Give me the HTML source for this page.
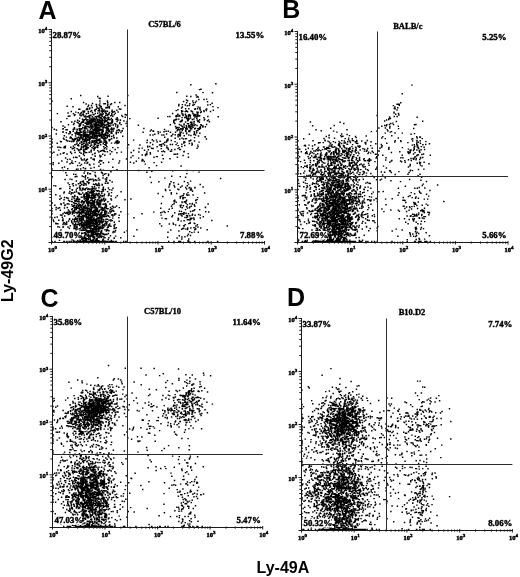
<!DOCTYPE html><html><head><meta charset="utf-8"><title>Figure</title><style>html,body{margin:0;padding:0;background:#fff}
svg{display:block}
text{fill:#000}
.tk{font:bold 6.5px "Liberation Serif",serif;stroke:#000;stroke-width:.45px}
.sp{font-size:5px}
.pc{font:bold 8.8px "Liberation Serif",serif;stroke:#000;stroke-width:.42px}
.tt{font:bold 8.5px "Liberation Serif",serif;stroke:#000;stroke-width:.35px}
.big{font:bold 25px "Liberation Sans",sans-serif}
.ax{font:bold 16px "Liberation Sans",sans-serif}</style></head><body><svg width="520" height="577" viewBox="0 0 520 577">
<rect width="520" height="577" fill="#fff"/>
<path d="M98.1 133.4h.01M92.7 121.2h.01M94.0 118.7h.01M104.8 142.3h.01M97.0 121.3h.01M93.2 138.6h.01M88.3 124.6h.01M101.2 136.3h.01M107.5 114.4h.01M107.7 102.4h.01M114.5 111.4h.01M111.8 121.0h.01M93.0 131.0h.01M119.7 102.5h.01M97.3 131.4h.01M109.4 112.5h.01M101.0 115.1h.01M78.7 134.7h.01M102.6 137.8h.01M101.6 124.5h.01M95.2 132.6h.01M109.9 119.8h.01M70.3 131.7h.01M87.4 140.2h.01M117.1 140.9h.01M79.2 128.7h.01M99.2 136.3h.01M102.9 134.7h.01M101.4 135.7h.01M75.5 139.4h.01M90.5 129.2h.01M86.3 122.7h.01M101.0 123.9h.01M94.2 148.8h.01M104.9 111.9h.01M74.9 121.3h.01M100.4 125.8h.01M87.1 148.6h.01M97.0 124.9h.01M109.4 140.8h.01M98.5 124.5h.01M91.3 133.4h.01M90.3 120.2h.01M93.0 127.3h.01M87.8 147.4h.01M101.0 136.1h.01M107.1 136.2h.01M100.2 135.6h.01M112.6 121.4h.01M100.2 98.5h.01M93.0 120.9h.01M110.0 150.5h.01M100.7 118.0h.01M97.2 136.9h.01M96.5 127.7h.01M92.0 141.9h.01M106.7 120.4h.01M88.2 122.9h.01M87.1 126.6h.01M86.7 141.9h.01M90.9 127.1h.01M83.3 113.9h.01M110.9 123.0h.01M125.2 117.3h.01M120.4 120.3h.01M110.7 129.1h.01M83.8 120.0h.01M92.5 154.5h.01M94.8 128.2h.01M90.9 121.7h.01M80.2 137.2h.01M91.0 124.2h.01M93.9 114.8h.01M81.2 141.8h.01M85.5 140.4h.01M101.3 121.7h.01M102.2 125.7h.01M98.0 125.0h.01M105.4 111.3h.01M73.2 141.5h.01M109.9 123.6h.01M70.4 132.9h.01M93.8 123.9h.01M120.4 120.0h.01M96.8 131.3h.01M107.4 127.4h.01M100.9 124.7h.01M99.6 110.6h.01M77.8 139.8h.01M92.6 133.5h.01M97.3 122.7h.01M87.0 134.6h.01M97.8 129.7h.01M87.9 147.7h.01M87.9 130.2h.01M117.8 125.3h.01M84.4 139.2h.01M95.6 142.5h.01M93.4 146.4h.01M111.6 138.8h.01M115.7 125.9h.01M96.7 142.7h.01M85.9 160.9h.01M96.7 106.5h.01M79.9 130.7h.01M102.0 137.6h.01M99.2 98.3h.01M93.5 133.8h.01M99.0 128.9h.01M94.8 110.6h.01M91.0 121.6h.01M117.5 119.3h.01M99.5 133.7h.01M102.2 116.2h.01M100.7 114.3h.01M88.4 126.6h.01M94.5 137.1h.01M64.1 139.3h.01M85.7 138.8h.01M86.0 119.3h.01M106.3 132.5h.01M97.5 130.9h.01M107.3 137.5h.01M80.8 113.2h.01M89.7 108.6h.01M127.8 95.5h.01M81.7 144.2h.01M102.2 112.2h.01M84.7 143.1h.01M95.1 131.0h.01M101.2 137.8h.01M91.5 138.0h.01M111.0 125.1h.01M111.2 133.2h.01M108.9 117.7h.01M86.8 120.3h.01M87.4 159.2h.01M106.5 132.7h.01M73.5 113.7h.01M92.8 132.9h.01M87.5 123.2h.01M97.7 127.0h.01M85.4 145.1h.01M106.8 143.2h.01M99.3 122.6h.01M126.9 126.1h.01M91.9 147.6h.01M89.5 138.3h.01M91.9 131.1h.01M98.6 129.5h.01M83.4 150.0h.01M92.6 125.8h.01M114.2 137.7h.01M90.9 136.4h.01M92.0 118.8h.01M102.9 137.4h.01M98.7 125.4h.01M99.2 129.8h.01M111.8 113.8h.01M111.6 129.9h.01M108.5 128.2h.01M77.1 143.1h.01M103.9 126.8h.01M89.0 123.0h.01M105.1 151.6h.01M97.4 126.9h.01M109.7 123.5h.01M101.9 110.2h.01M75.6 136.0h.01M94.9 153.6h.01M97.1 137.9h.01M73.3 148.2h.01M93.0 114.5h.01M105.9 143.2h.01M78.9 132.7h.01M101.8 118.8h.01M91.4 132.2h.01M95.7 135.4h.01M99.0 127.8h.01M93.2 132.3h.01M103.6 150.8h.01M89.9 137.1h.01M117.2 117.9h.01M107.4 101.0h.01M91.6 144.9h.01M85.6 115.9h.01M95.3 122.0h.01M104.9 155.2h.01M88.2 126.8h.01M108.4 119.3h.01M89.8 120.1h.01M86.6 122.9h.01M91.3 150.2h.01M80.8 137.6h.01M89.4 134.9h.01M97.9 124.6h.01M100.1 107.0h.01M86.0 137.1h.01M100.7 141.1h.01M109.4 108.1h.01M96.8 135.8h.01M107.4 135.6h.01M85.2 123.3h.01M111.8 128.5h.01M77.6 120.3h.01M85.5 148.7h.01M78.6 140.8h.01M91.3 119.1h.01M67.0 154.0h.01M74.1 141.1h.01M82.5 119.2h.01M107.1 135.2h.01M117.2 127.6h.01M85.0 125.9h.01M98.3 122.5h.01M92.8 126.2h.01M102.9 120.6h.01M98.2 110.8h.01M102.7 137.6h.01M112.8 116.3h.01M96.2 116.9h.01M83.0 135.0h.01M74.1 139.1h.01M90.2 132.9h.01M108.4 128.5h.01M101.9 134.3h.01M88.9 121.9h.01M97.5 130.4h.01M79.1 132.9h.01M84.3 116.8h.01M81.3 128.6h.01M115.3 113.2h.01M73.2 129.4h.01M102.7 114.6h.01M111.0 123.2h.01M99.8 117.5h.01M84.3 130.6h.01M84.4 127.4h.01M96.4 104.7h.01M73.4 146.3h.01M93.1 133.1h.01M94.6 132.9h.01M67.8 141.0h.01M105.9 107.9h.01M115.8 124.2h.01M80.3 131.2h.01M108.7 114.8h.01M61.0 121.8h.01M82.7 127.4h.01M77.0 132.4h.01M88.5 116.2h.01M116.4 132.7h.01M84.2 135.7h.01M92.2 107.5h.01M100.1 127.0h.01M96.3 129.4h.01M107.8 119.7h.01M105.5 141.0h.01M74.6 147.8h.01M103.9 123.1h.01M97.4 119.2h.01M89.3 122.1h.01M88.6 136.0h.01M92.0 131.9h.01M97.3 116.4h.01M94.7 124.3h.01M93.4 133.2h.01M111.4 118.5h.01M106.4 113.2h.01M84.6 111.6h.01M96.1 133.1h.01M94.7 126.1h.01M93.2 119.6h.01M95.1 124.0h.01M86.5 122.2h.01M94.4 134.4h.01M94.5 126.1h.01M78.3 123.0h.01M92.7 137.4h.01M95.6 136.8h.01M101.3 122.6h.01M92.1 140.6h.01M83.1 120.9h.01M98.3 145.5h.01M86.6 142.6h.01M119.7 123.6h.01M79.8 109.3h.01M81.4 122.7h.01M105.7 113.5h.01M79.5 140.2h.01M105.3 147.6h.01M77.8 145.5h.01M89.8 118.6h.01M106.6 127.7h.01M92.4 135.7h.01M79.7 134.4h.01M101.8 136.3h.01M97.1 145.2h.01M89.5 132.3h.01M85.0 126.5h.01M118.0 119.9h.01M98.8 132.9h.01M112.0 111.8h.01M96.5 118.3h.01M118.3 106.7h.01M88.9 142.7h.01M102.5 125.1h.01M68.3 116.2h.01M101.2 134.2h.01M100.5 151.2h.01M85.8 144.4h.01M98.2 140.2h.01M101.6 125.5h.01M99.8 155.4h.01M97.4 129.1h.01M103.3 143.7h.01M106.7 142.5h.01M105.3 120.2h.01M103.7 135.4h.01M74.0 129.0h.01M108.4 124.9h.01M92.5 112.5h.01M88.1 144.9h.01M87.3 131.9h.01M83.1 139.0h.01M77.6 134.2h.01M106.8 124.4h.01M108.4 129.7h.01M86.7 126.1h.01M92.7 128.9h.01M81.5 134.7h.01M109.3 136.5h.01M85.6 168.5h.01M96.8 133.4h.01M78.4 144.7h.01M107.5 122.6h.01M85.2 128.7h.01M103.9 103.7h.01M83.4 131.3h.01M99.0 131.3h.01M86.9 134.3h.01M84.3 128.7h.01M92.8 119.3h.01M83.4 141.6h.01M101.6 121.1h.01M103.3 134.5h.01M106.2 107.4h.01M117.9 147.6h.01M84.8 139.3h.01M102.7 154.3h.01M96.0 125.8h.01M86.2 146.6h.01M85.1 133.4h.01M87.0 163.2h.01M94.6 141.9h.01M122.7 116.6h.01M101.2 132.6h.01M86.1 134.8h.01M117.1 117.7h.01M101.8 121.2h.01M100.2 122.5h.01M129.8 118.6h.01M101.0 142.3h.01M74.5 150.2h.01M109.4 106.5h.01M105.7 115.4h.01M81.1 115.7h.01M81.6 122.2h.01M92.0 133.0h.01M98.9 127.4h.01M97.6 120.9h.01M114.2 114.6h.01M89.7 164.6h.01M86.5 149.3h.01M113.5 136.1h.01M96.1 129.9h.01M99.8 128.9h.01M100.2 126.2h.01M105.2 117.6h.01M70.6 152.3h.01M102.4 133.0h.01M80.4 128.9h.01M104.7 136.4h.01M93.9 134.6h.01M74.2 140.5h.01M91.4 127.6h.01M66.0 129.7h.01M99.6 120.3h.01M93.0 142.2h.01M69.7 131.8h.01M85.7 135.9h.01M107.1 128.9h.01M91.5 105.5h.01M89.5 115.5h.01M105.7 127.7h.01M103.7 146.7h.01M87.4 116.8h.01M97.8 116.4h.01M112.4 122.8h.01M89.2 109.0h.01M87.6 136.8h.01M92.8 135.3h.01M89.4 137.4h.01M85.5 146.3h.01M94.6 138.0h.01M110.8 115.7h.01M100.3 130.2h.01M122.3 131.0h.01M86.3 122.3h.01M112.7 112.3h.01M91.9 124.4h.01M90.5 126.8h.01M84.9 130.5h.01M103.3 138.5h.01M60.8 147.6h.01M95.2 119.8h.01M79.4 129.3h.01M101.1 126.1h.01M100.0 113.9h.01M86.4 109.6h.01M108.9 113.8h.01M93.1 130.9h.01M112.1 110.3h.01M91.2 143.1h.01M90.6 123.1h.01M85.0 132.4h.01M103.2 113.4h.01M81.7 146.7h.01M80.0 138.3h.01M81.5 135.2h.01M115.2 149.4h.01M84.1 134.4h.01M99.2 132.8h.01M79.3 138.7h.01M113.1 112.0h.01M96.6 132.0h.01M83.8 146.2h.01M79.4 130.0h.01M101.2 156.1h.01M89.3 140.4h.01M106.9 146.8h.01M105.4 121.2h.01M96.2 141.4h.01M102.9 129.3h.01M99.9 129.3h.01M89.4 120.6h.01M102.4 137.8h.01M104.9 119.8h.01M81.2 128.8h.01M86.6 124.3h.01M99.8 160.4h.01M72.3 148.7h.01M88.8 139.1h.01M105.8 144.4h.01M117.8 126.8h.01M106.4 141.8h.01M89.2 127.4h.01M98.1 139.6h.01M99.0 135.3h.01M86.7 108.9h.01M91.1 145.2h.01M94.9 133.0h.01M81.5 137.3h.01M102.4 122.7h.01M73.2 131.3h.01M78.5 137.3h.01M116.9 130.5h.01M87.9 119.7h.01M106.5 135.0h.01M80.0 139.0h.01M96.6 140.6h.01M105.5 127.7h.01M92.6 126.4h.01M101.9 126.8h.01M91.7 126.8h.01M108.5 135.8h.01M99.9 140.1h.01M87.0 147.3h.01M65.4 146.2h.01M84.9 136.2h.01M87.7 162.4h.01M110.6 104.5h.01M94.3 143.7h.01M87.4 137.5h.01M95.6 140.6h.01M104.1 138.5h.01M125.2 114.4h.01M114.0 128.7h.01M92.3 121.7h.01M85.5 127.3h.01M95.0 109.7h.01M99.8 134.7h.01M83.8 139.7h.01M84.7 141.2h.01M101.1 134.7h.01M82.0 138.4h.01M97.5 127.4h.01M88.8 124.6h.01M81.9 137.7h.01M85.1 128.8h.01M94.8 137.6h.01M114.8 143.1h.01M104.4 148.8h.01M80.9 134.9h.01M103.2 130.8h.01M95.7 132.0h.01M86.4 113.8h.01M82.9 111.1h.01M86.8 128.8h.01M102.3 122.4h.01M83.0 122.2h.01M107.6 105.7h.01M111.5 103.7h.01M71.2 137.8h.01M79.2 126.3h.01M90.5 131.3h.01M100.7 135.0h.01M78.2 149.4h.01M87.8 124.4h.01M87.9 134.6h.01M86.6 138.6h.01M63.0 131.8h.01M105.4 135.2h.01M94.3 121.3h.01M89.2 117.4h.01M111.8 151.7h.01M75.7 133.1h.01M102.7 119.4h.01M79.2 134.1h.01M109.8 131.5h.01M83.9 136.3h.01M97.3 107.9h.01M88.0 106.4h.01M83.4 133.2h.01M103.9 150.6h.01M75.1 133.0h.01M94.6 148.6h.01M97.5 116.2h.01M85.9 117.1h.01M63.0 125.9h.01M106.2 118.2h.01M99.7 130.1h.01M91.5 131.9h.01M68.5 124.8h.01M91.0 125.3h.01M96.1 134.0h.01M101.5 117.1h.01M89.8 141.4h.01M117.8 140.8h.01M60.5 141.5h.01M110.3 154.0h.01M89.0 140.3h.01M94.5 124.7h.01M94.5 124.6h.01M85.1 135.0h.01M92.4 117.1h.01M90.3 123.4h.01M105.3 137.6h.01M95.5 138.6h.01M92.5 134.9h.01M95.2 127.3h.01M80.1 129.6h.01M81.6 144.1h.01M100.8 119.9h.01M104.5 125.8h.01M111.9 133.3h.01M88.6 105.3h.01M89.9 107.9h.01M103.9 139.1h.01M79.5 126.5h.01M116.8 137.9h.01M92.5 134.1h.01M101.7 160.8h.01M82.8 144.6h.01M96.5 139.3h.01M95.3 116.6h.01M88.8 123.9h.01M97.3 131.2h.01M64.4 146.7h.01M96.2 128.5h.01M98.6 143.6h.01M95.6 119.7h.01M107.4 107.8h.01M90.5 136.5h.01M104.5 118.3h.01M99.2 135.3h.01M100.7 123.3h.01M107.8 104.3h.01M62.9 129.0h.01M101.2 129.5h.01M94.4 120.9h.01M96.6 130.4h.01M83.7 115.2h.01M91.6 122.7h.01M103.6 127.6h.01M95.3 144.3h.01M107.9 133.6h.01M91.1 151.4h.01M79.8 143.2h.01M103.7 135.9h.01M112.4 119.6h.01M99.2 123.0h.01M108.8 107.2h.01M102.5 137.9h.01M84.6 139.9h.01M92.2 122.5h.01M89.9 132.9h.01M101.7 150.8h.01M85.8 118.7h.01M95.2 111.1h.01M118.3 130.0h.01M82.8 121.0h.01M97.7 147.4h.01M95.2 122.1h.01M101.7 130.0h.01M97.3 146.6h.01M91.1 152.1h.01M85.8 149.4h.01M111.8 115.3h.01M89.9 130.9h.01M83.5 136.9h.01M116.3 133.7h.01M90.3 139.1h.01M93.3 148.4h.01M75.0 114.6h.01M100.2 120.9h.01M108.2 123.1h.01M79.6 138.6h.01M122.7 136.3h.01M92.3 116.8h.01M96.4 136.7h.01M109.3 130.6h.01M94.8 118.9h.01M99.5 138.9h.01M105.3 127.6h.01M116.9 152.7h.01M113.5 135.3h.01M95.7 129.5h.01M94.4 145.1h.01M84.5 145.8h.01M98.8 120.9h.01M94.5 140.5h.01M83.6 147.8h.01M95.1 153.3h.01M83.8 120.7h.01M98.8 108.2h.01M72.6 139.5h.01M86.6 147.5h.01M84.3 155.5h.01M95.7 128.4h.01M96.3 133.2h.01M101.6 125.6h.01M66.4 132.8h.01M86.8 126.2h.01M99.9 139.5h.01M102.1 136.6h.01M121.2 124.6h.01M107.0 130.2h.01M75.8 112.1h.01M105.8 125.5h.01M81.0 148.2h.01M83.3 122.2h.01M93.0 159.2h.01M94.1 129.5h.01M119.9 122.5h.01M71.5 162.7h.01M86.0 147.5h.01M116.2 132.2h.01M108.0 117.5h.01M99.2 140.7h.01M94.2 138.1h.01M95.3 113.4h.01M90.3 125.9h.01M101.4 108.3h.01M88.3 111.5h.01M99.2 105.0h.01M96.9 136.0h.01M63.5 138.3h.01M109.8 131.8h.01M96.1 126.3h.01M74.9 144.7h.01M99.4 109.4h.01M94.5 136.7h.01M104.1 109.9h.01M94.2 140.8h.01M107.4 129.8h.01M77.2 122.2h.01M102.3 131.3h.01M87.2 108.4h.01M104.4 134.3h.01M63.3 128.6h.01M59.5 147.1h.01M94.2 150.1h.01M86.3 141.6h.01M113.1 124.9h.01M86.1 103.9h.01M70.0 163.8h.01M69.7 141.2h.01M91.1 157.8h.01M78.8 145.8h.01M107.9 118.0h.01M108.1 96.2h.01M88.0 123.9h.01M97.0 128.5h.01M84.0 159.9h.01M105.0 140.2h.01M102.2 120.8h.01M77.3 129.8h.01M89.8 117.7h.01M106.2 145.2h.01M105.8 125.6h.01M97.7 113.2h.01M119.7 130.8h.01M73.6 157.5h.01M108.8 129.8h.01M105.3 134.2h.01M94.8 136.0h.01M85.3 132.2h.01M88.3 113.3h.01M90.8 115.4h.01M90.9 121.9h.01M98.1 135.6h.01M105.8 110.9h.01M111.6 127.9h.01M83.3 154.2h.01M110.1 139.4h.01M123.1 128.5h.01M83.6 102.4h.01M78.1 169.1h.01M108.5 122.4h.01M99.1 129.8h.01M107.4 111.3h.01M92.4 137.3h.01M83.4 143.2h.01M65.3 147.8h.01M79.7 118.1h.01M119.0 129.6h.01M110.0 126.2h.01M89.3 122.0h.01M96.2 123.5h.01M106.6 132.4h.01M84.8 132.6h.01M107.9 124.6h.01M104.3 138.3h.01M72.9 163.2h.01M95.2 129.3h.01M99.0 115.5h.01M104.2 118.2h.01M105.9 132.9h.01M99.0 125.6h.01M120.9 132.5h.01M103.0 150.2h.01M97.8 150.6h.01M103.8 134.4h.01M57.8 147.2h.01M95.1 155.9h.01M96.8 141.2h.01M77.3 137.9h.01M85.2 127.9h.01M99.1 119.3h.01M98.7 130.8h.01M80.7 123.8h.01M82.1 159.9h.01M85.3 135.2h.01M100.9 134.6h.01M79.3 121.3h.01M108.7 162.2h.01M123.9 121.0h.01M91.1 133.7h.01M72.1 134.8h.01M104.7 144.6h.01M95.2 125.6h.01M91.5 128.5h.01M72.1 138.8h.01M77.1 129.3h.01M87.7 136.7h.01M125.0 105.5h.01M104.8 116.8h.01M70.6 137.0h.01M118.3 132.4h.01M105.8 144.8h.01M86.0 126.9h.01M105.6 140.5h.01M85.4 140.3h.01M94.6 130.6h.01M116.5 141.2h.01M87.7 121.8h.01M106.6 132.3h.01M87.8 136.2h.01M103.7 124.6h.01M105.4 103.8h.01M83.6 134.9h.01M100.6 144.7h.01M88.8 137.6h.01M76.9 157.5h.01M105.3 133.5h.01M85.2 128.0h.01M94.0 130.4h.01M116.9 110.2h.01M96.0 124.6h.01M111.9 111.8h.01M97.2 131.4h.01M113.3 125.0h.01M108.1 117.2h.01M76.3 138.2h.01M109.5 134.8h.01M98.2 124.8h.01M101.1 141.8h.01M114.8 102.4h.01M99.5 112.1h.01M99.5 115.7h.01M86.2 126.7h.01M97.5 135.5h.01M105.1 124.9h.01M80.0 149.7h.01M102.7 124.2h.01M108.2 124.2h.01M80.5 132.8h.01M106.3 138.1h.01M102.9 127.7h.01M101.6 114.3h.01M117.0 143.4h.01M96.8 122.8h.01M101.0 124.3h.01M90.2 138.8h.01M75.0 152.5h.01M82.1 147.1h.01M79.2 125.3h.01M96.9 129.2h.01M83.5 111.4h.01M83.6 136.4h.01M99.0 124.8h.01M101.4 132.1h.01M103.4 111.3h.01M93.8 135.0h.01M96.1 122.8h.01M104.7 122.5h.01M75.7 133.9h.01M85.3 152.4h.01M106.5 132.9h.01M99.9 103.1h.01M107.2 115.3h.01M95.9 123.8h.01M79.9 114.9h.01M80.6 124.4h.01M100.3 121.4h.01M99.0 108.9h.01M106.9 121.2h.01M93.5 141.2h.01M101.3 115.1h.01M109.2 125.8h.01M127.0 121.4h.01M95.8 120.1h.01M99.5 142.5h.01M99.7 142.7h.01M103.2 142.1h.01M81.7 142.2h.01M81.4 146.1h.01M88.6 124.5h.01M104.6 134.5h.01M114.9 123.6h.01M94.1 136.6h.01M119.4 109.0h.01M83.5 131.1h.01M78.3 112.8h.01M84.0 132.1h.01M73.5 124.6h.01M86.8 135.7h.01M80.7 131.3h.01M118.5 143.0h.01M100.1 117.4h.01M91.8 120.2h.01M95.1 156.2h.01M91.6 110.4h.01M91.0 151.1h.01M95.1 148.1h.01M104.3 121.3h.01M101.2 106.4h.01M80.5 135.0h.01M71.6 153.5h.01M108.6 131.2h.01M79.7 152.2h.01M111.9 122.3h.01M77.5 140.3h.01M111.6 131.7h.01M86.7 123.5h.01M94.8 121.3h.01M93.5 134.7h.01M88.4 147.7h.01M116.0 119.2h.01M89.4 143.3h.01M80.9 136.5h.01M112.9 129.3h.01M92.5 103.5h.01M79.7 135.0h.01M89.5 116.9h.01M102.4 109.0h.01M102.5 130.5h.01M126.4 115.0h.01M101.4 111.1h.01M76.4 144.1h.01M133.6 150.5h.01M106.5 132.7h.01M99.0 162.3h.01M106.7 148.9h.01M112.8 147.6h.01M98.9 124.1h.01M58.8 163.3h.01M108.6 174.3h.01M74.8 129.1h.01M64.8 127.3h.01M80.7 169.0h.01M93.0 122.0h.01M86.0 140.1h.01M111.6 136.4h.01M120.7 109.3h.01M93.5 129.4h.01M71.8 122.0h.01M76.9 141.5h.01M87.3 109.6h.01M113.2 131.0h.01M106.5 128.7h.01M80.2 165.6h.01M58.8 150.1h.01M117.8 142.4h.01M94.3 158.9h.01M100.3 156.9h.01M81.0 158.3h.01M84.0 149.6h.01M87.1 144.0h.01M66.7 140.6h.01M57.5 154.9h.01M70.8 147.2h.01M112.8 167.2h.01M82.2 114.7h.01M98.5 125.4h.01M53.1 164.4h.01M63.0 132.3h.01M89.2 152.3h.01M52.0 146.4h.01M81.3 149.2h.01M106.8 126.7h.01M71.3 98.7h.01M83.7 152.9h.01M83.9 112.3h.01M65.6 158.0h.01M84.7 171.0h.01M105.9 145.2h.01M92.6 134.4h.01M90.5 137.1h.01M70.6 151.9h.01M89.0 132.0h.01M74.4 127.6h.01M97.3 131.8h.01M97.8 130.1h.01M118.9 162.9h.01M70.0 159.3h.01M110.9 171.8h.01M82.5 140.1h.01M86.6 146.0h.01M64.1 152.8h.01M52.0 146.7h.01M67.2 129.7h.01M53.9 152.3h.01M98.9 151.9h.01M56.3 134.0h.01M81.7 112.4h.01M85.6 137.9h.01M88.6 123.5h.01M88.6 122.2h.01M94.2 167.4h.01M121.8 115.5h.01M101.1 141.2h.01M104.3 125.5h.01M113.9 137.8h.01M85.7 136.5h.01M80.1 138.1h.01M122.0 130.7h.01M82.5 138.7h.01M83.4 167.7h.01M100.7 114.0h.01M75.4 176.8h.01M90.7 111.6h.01M95.4 123.4h.01M117.1 121.5h.01M99.9 105.3h.01M66.4 137.1h.01M96.3 147.1h.01M71.5 141.4h.01M80.3 125.5h.01M64.5 166.9h.01M108.4 126.2h.01M81.1 153.2h.01M70.0 179.1h.01M97.6 130.8h.01M113.9 128.2h.01M112.2 182.0h.01M67.2 106.2h.01M101.9 132.6h.01M102.7 110.9h.01M98.7 139.4h.01M83.4 122.3h.01M70.0 138.0h.01M84.5 111.0h.01M109.0 139.8h.01M116.7 119.5h.01M72.8 139.8h.01M74.1 123.1h.01M76.5 169.3h.01M68.1 113.0h.01M116.7 142.1h.01M61.8 161.0h.01M61.3 141.8h.01M92.3 136.0h.01M66.9 118.6h.01M85.2 168.8h.01M96.2 104.4h.01M76.6 131.5h.01M138.4 125.3h.01M81.7 132.2h.01M53.2 162.8h.01M103.2 131.5h.01M100.0 114.9h.01M76.9 133.5h.01M112.9 159.3h.01M81.6 159.8h.01M84.4 151.3h.01M63.2 153.3h.01M52.0 143.0h.01M80.3 113.6h.01M100.0 142.4h.01M57.2 143.2h.01M85.5 132.4h.01M90.6 111.4h.01M71.3 111.5h.01M87.3 139.5h.01M90.9 115.1h.01M131.2 152.5h.01M127.5 148.0h.01M75.0 138.7h.01M119.3 141.9h.01M52.0 141.9h.01M104.3 151.3h.01M102.3 173.0h.01M104.2 140.4h.01M131.0 157.5h.01M80.7 95.5h.01M89.9 134.5h.01M52.1 153.2h.01M94.9 147.2h.01M60.5 154.0h.01M75.7 157.3h.01M94.9 136.0h.01M79.7 123.9h.01M54.4 129.3h.01M77.6 165.5h.01M83.3 125.0h.01M97.5 143.0h.01M78.7 150.5h.01M66.2 139.9h.01M69.9 115.9h.01M77.1 148.6h.01M107.4 151.8h.01M52.0 101.2h.01M74.4 115.6h.01M94.1 188.5h.01M98.8 133.6h.01M96.8 140.8h.01M90.0 165.1h.01M121.4 152.1h.01M108.0 132.4h.01M75.5 161.6h.01M98.8 116.9h.01M96.6 132.2h.01M56.5 130.0h.01M86.7 152.6h.01M83.7 151.3h.01M67.0 161.9h.01M79.4 156.0h.01M52.0 127.4h.01M64.0 147.7h.01M84.6 119.8h.01M118.1 112.0h.01M105.8 138.4h.01M128.6 144.7h.01M81.9 137.0h.01M93.9 118.0h.01M103.6 117.3h.01M87.2 135.3h.01M111.3 118.7h.01M106.2 130.9h.01M62.3 167.8h.01M78.9 109.2h.01M97.7 96.4h.01M68.9 133.8h.01M81.9 128.9h.01M100.8 161.0h.01M97.8 125.3h.01M111.5 143.1h.01M96.2 109.2h.01M99.9 101.0h.01M105.3 183.3h.01M115.6 142.3h.01M74.0 123.4h.01M91.6 131.4h.01M119.6 160.9h.01M126.1 123.5h.01M77.6 132.5h.01M94.8 153.4h.01M90.3 146.2h.01M57.4 113.6h.01M84.9 189.6h.01M81.5 164.4h.01M112.6 121.0h.01M97.6 120.1h.01M64.3 135.8h.01M73.0 106.7h.01M92.6 137.7h.01M94.5 119.2h.01M52.0 139.3h.01M85.2 196.9h.01M111.4 241.5h.01M86.0 227.3h.01M102.1 210.6h.01M105.6 200.0h.01M93.1 241.5h.01M99.2 234.2h.01M83.0 241.5h.01M89.1 241.5h.01M93.4 203.1h.01M83.6 215.3h.01M84.0 184.9h.01M110.2 241.5h.01M103.2 234.3h.01M91.8 208.6h.01M82.8 226.2h.01M93.4 198.2h.01M82.9 213.0h.01M90.1 228.5h.01M92.5 241.5h.01M93.6 213.4h.01M86.5 216.2h.01M99.2 211.2h.01M104.1 234.2h.01M89.0 182.8h.01M94.0 210.9h.01M87.9 210.1h.01M94.1 237.2h.01M104.5 194.3h.01M87.3 241.5h.01M85.9 238.3h.01M90.5 241.5h.01M89.1 202.3h.01M94.2 203.2h.01M92.8 223.9h.01M59.6 207.8h.01M75.4 222.0h.01M102.7 225.4h.01M89.0 226.0h.01M91.3 216.0h.01M87.2 207.9h.01M103.2 199.7h.01M101.1 219.7h.01M93.1 214.5h.01M96.7 216.3h.01M94.7 238.2h.01M85.5 205.2h.01M90.0 241.5h.01M105.7 213.6h.01M97.3 241.5h.01M113.7 211.2h.01M97.4 228.6h.01M79.8 216.2h.01M96.2 190.6h.01M90.3 228.6h.01M79.5 194.2h.01M79.4 212.8h.01M102.9 239.8h.01M100.4 241.5h.01M84.7 207.0h.01M87.1 144.1h.01M101.2 216.1h.01M97.8 233.5h.01M98.4 224.7h.01M82.9 241.5h.01M80.0 209.9h.01M104.2 241.5h.01M81.7 236.6h.01M90.4 223.8h.01M90.8 221.8h.01M88.9 231.4h.01M94.7 238.8h.01M91.5 213.6h.01M99.8 210.3h.01M95.2 214.0h.01M79.1 211.4h.01M83.0 239.9h.01M96.3 234.9h.01M84.0 183.6h.01M85.1 208.7h.01M99.2 194.0h.01M96.0 214.7h.01M95.2 210.5h.01M92.3 203.5h.01M92.9 232.8h.01M82.7 209.9h.01M95.6 223.7h.01M85.6 214.3h.01M114.8 231.9h.01M95.5 213.3h.01M69.4 228.3h.01M86.1 222.7h.01M90.2 241.5h.01M90.5 202.9h.01M87.5 223.7h.01M80.3 218.8h.01M99.5 215.0h.01M98.9 241.5h.01M103.2 226.0h.01M107.5 241.5h.01M91.4 241.5h.01M94.1 225.7h.01M94.3 226.6h.01M73.6 202.8h.01M74.3 205.2h.01M92.5 221.5h.01M98.7 183.1h.01M93.4 239.1h.01M109.3 241.5h.01M101.8 193.5h.01M96.3 229.7h.01M86.0 240.6h.01M85.1 207.0h.01M91.6 203.4h.01M83.1 188.1h.01M91.9 232.7h.01M75.5 228.4h.01M87.5 202.8h.01M87.2 220.7h.01M92.0 240.5h.01M92.6 220.4h.01M88.3 235.6h.01M96.6 241.5h.01M92.9 223.4h.01M101.6 231.4h.01M95.9 240.8h.01M93.6 239.3h.01M92.3 241.5h.01M104.5 174.3h.01M82.0 222.4h.01M84.5 215.6h.01M97.0 241.5h.01M97.4 185.5h.01M109.8 211.2h.01M72.3 196.8h.01M89.4 221.4h.01M73.2 210.8h.01M107.6 229.4h.01M103.0 178.0h.01M113.6 207.5h.01M90.8 229.6h.01M97.2 241.5h.01M98.9 207.0h.01M76.4 208.8h.01M89.4 241.5h.01M95.5 206.6h.01M80.3 185.7h.01M87.8 209.0h.01M102.6 221.6h.01M96.9 209.6h.01M82.7 233.2h.01M84.0 225.0h.01M96.6 241.5h.01M80.4 220.4h.01M85.6 222.6h.01M91.4 235.5h.01M100.8 202.1h.01M87.2 235.9h.01M89.8 241.5h.01M93.6 213.2h.01M88.5 203.4h.01M106.3 216.5h.01M90.2 241.5h.01M92.1 241.5h.01M100.5 228.4h.01M114.2 226.4h.01M81.7 225.4h.01M88.8 241.5h.01M65.6 213.3h.01M99.9 241.5h.01M101.3 237.6h.01M92.1 241.5h.01M85.8 240.6h.01M102.0 212.2h.01M80.5 228.6h.01M90.9 227.9h.01M96.4 202.0h.01M78.4 211.1h.01M108.4 195.6h.01M94.5 186.7h.01M98.3 233.4h.01M89.6 193.0h.01M99.7 223.1h.01M82.0 205.8h.01M102.4 241.5h.01M87.0 228.1h.01M93.5 228.9h.01M81.3 238.4h.01M91.1 222.6h.01M94.4 195.6h.01M88.8 220.8h.01M79.7 228.7h.01M96.4 218.8h.01M102.2 226.2h.01M78.9 193.6h.01M96.6 225.3h.01M98.0 241.5h.01M99.8 200.8h.01M79.1 201.4h.01M95.4 241.5h.01M97.6 235.7h.01M95.1 241.5h.01M83.3 241.5h.01M105.3 189.4h.01M97.1 241.5h.01M94.0 225.0h.01M106.3 204.9h.01M97.1 234.5h.01M101.9 228.3h.01M99.2 231.1h.01M97.1 194.3h.01M87.8 241.5h.01M100.5 217.2h.01M98.1 241.1h.01M97.0 184.4h.01M85.1 194.0h.01M89.8 232.1h.01M120.8 237.8h.01M99.0 237.1h.01M86.7 200.3h.01M87.7 196.6h.01M86.6 196.0h.01M83.5 215.4h.01M80.2 188.8h.01M93.0 230.0h.01M101.9 241.5h.01M98.5 212.5h.01M113.0 188.3h.01M90.6 241.5h.01M95.9 194.4h.01M85.5 178.9h.01M93.2 236.5h.01M101.1 209.2h.01M95.1 197.2h.01M84.9 209.0h.01M83.6 230.2h.01M87.2 241.5h.01M82.7 241.5h.01M81.7 233.3h.01M93.9 190.5h.01M81.0 234.9h.01M85.3 241.5h.01M95.9 222.9h.01M76.3 233.1h.01M97.6 241.5h.01M83.3 210.6h.01M80.2 182.7h.01M89.4 232.0h.01M87.8 195.1h.01M89.5 241.5h.01M104.7 207.1h.01M92.9 230.2h.01M78.5 206.6h.01M88.2 194.2h.01M95.7 215.2h.01M94.5 232.1h.01M83.4 224.8h.01M87.8 172.6h.01M86.6 199.0h.01M81.3 214.0h.01M91.6 195.6h.01M86.6 222.5h.01M90.5 231.0h.01M92.9 197.6h.01M86.4 241.5h.01M104.9 241.5h.01M85.1 241.5h.01M93.5 241.5h.01M90.4 214.4h.01M93.0 233.2h.01M104.1 216.1h.01M83.1 204.1h.01M98.8 237.4h.01M82.9 241.5h.01M96.8 241.5h.01M81.3 241.5h.01M90.0 224.8h.01M86.1 185.0h.01M88.3 241.5h.01M100.3 204.1h.01M101.4 241.5h.01M92.0 202.6h.01M86.6 241.5h.01M100.0 203.5h.01M82.1 241.5h.01M79.4 162.9h.01M91.3 197.7h.01M91.2 233.5h.01M93.9 204.6h.01M92.1 198.8h.01M116.6 205.9h.01M85.0 238.0h.01M88.6 198.1h.01M85.9 183.8h.01M100.5 203.8h.01M85.4 210.6h.01M81.9 190.5h.01M90.6 218.5h.01M86.8 241.5h.01M94.8 241.5h.01M74.4 219.9h.01M99.2 191.6h.01M94.4 241.5h.01M88.8 236.8h.01M86.5 211.8h.01M95.6 241.4h.01M89.5 214.8h.01M95.4 232.2h.01M107.9 201.7h.01M92.6 225.7h.01M101.7 241.5h.01M97.3 218.1h.01M86.7 196.5h.01M103.5 170.3h.01M98.6 178.2h.01M83.7 201.7h.01M94.9 215.7h.01M108.4 233.5h.01M100.4 227.9h.01M98.9 206.8h.01M88.3 223.4h.01M91.9 217.9h.01M96.1 224.2h.01M85.8 208.8h.01M77.2 236.4h.01M106.5 206.4h.01M86.3 160.4h.01M77.6 235.1h.01M69.2 241.5h.01M106.5 241.5h.01M90.5 240.2h.01M84.4 227.9h.01M82.4 237.8h.01M101.5 214.0h.01M89.2 195.5h.01M80.4 223.6h.01M95.6 241.5h.01M92.1 186.7h.01M86.6 202.9h.01M86.1 221.7h.01M86.2 241.2h.01M92.1 241.5h.01M87.6 238.8h.01M82.1 208.9h.01M100.9 232.7h.01M104.1 241.5h.01M90.6 225.5h.01M92.3 228.6h.01M101.0 241.5h.01M86.3 201.6h.01M95.3 241.5h.01M103.2 214.9h.01M90.0 211.5h.01M74.8 209.9h.01M81.6 239.0h.01M85.8 207.5h.01M91.9 236.0h.01M77.4 220.3h.01M79.2 218.1h.01M95.8 226.8h.01M110.9 219.6h.01M97.9 231.6h.01M90.8 223.1h.01M102.4 241.3h.01M102.0 191.4h.01M101.1 231.3h.01M81.3 230.3h.01M108.9 194.2h.01M79.7 225.6h.01M89.2 227.7h.01M71.9 179.4h.01M94.9 184.7h.01M90.3 218.9h.01M97.9 226.3h.01M89.8 173.7h.01M81.4 201.8h.01M91.4 208.0h.01M79.4 214.1h.01M110.6 209.4h.01M77.3 196.8h.01M97.9 226.1h.01M82.4 230.2h.01M85.4 241.5h.01M87.0 195.0h.01M98.9 217.6h.01M92.3 233.7h.01M93.2 240.5h.01M79.9 239.7h.01M99.5 185.4h.01M89.8 189.4h.01M88.1 217.8h.01M105.0 210.0h.01M100.5 164.3h.01M92.7 241.5h.01M99.0 219.6h.01M81.8 241.5h.01M90.8 221.9h.01M93.9 232.3h.01M88.7 234.5h.01M86.5 221.1h.01M91.2 205.4h.01M81.9 216.9h.01M91.3 241.5h.01M102.4 189.6h.01M97.1 203.5h.01M94.8 219.6h.01M87.3 223.8h.01M110.8 220.9h.01M93.1 170.8h.01M83.0 229.6h.01M111.9 189.9h.01M111.2 211.8h.01M93.2 231.8h.01M98.2 230.5h.01M96.4 241.5h.01M94.1 223.2h.01M99.9 241.5h.01M86.8 198.0h.01M86.9 227.3h.01M83.9 211.7h.01M96.3 214.2h.01M92.6 241.5h.01M91.8 241.5h.01M101.5 241.5h.01M88.0 230.9h.01M91.1 157.9h.01M109.8 223.9h.01M109.7 189.6h.01M99.0 214.5h.01M93.8 164.1h.01M98.6 212.4h.01M82.2 222.0h.01M98.8 240.8h.01M101.6 233.1h.01M92.3 241.5h.01M80.0 190.1h.01M98.9 241.5h.01M88.6 222.2h.01M92.7 220.7h.01M86.2 212.6h.01M94.6 241.5h.01M80.8 206.7h.01M99.0 204.0h.01M90.5 236.7h.01M89.8 221.1h.01M104.2 195.6h.01M114.8 228.2h.01M91.3 203.4h.01M90.3 239.4h.01M84.0 189.5h.01M95.6 222.2h.01M101.5 217.9h.01M95.4 241.5h.01M90.2 220.6h.01M100.8 232.1h.01M96.5 221.3h.01M79.8 212.9h.01M99.4 198.0h.01M106.8 229.8h.01M100.3 221.2h.01M101.5 241.5h.01M90.8 206.6h.01M83.6 222.9h.01M101.7 230.4h.01M110.3 209.4h.01M90.7 213.6h.01M86.1 214.8h.01M92.7 229.2h.01M98.0 241.5h.01M90.5 231.8h.01M91.7 188.9h.01M101.1 201.3h.01M107.5 219.3h.01M100.0 236.2h.01M94.4 225.1h.01M100.8 234.4h.01M96.9 204.4h.01M91.7 241.5h.01M86.3 214.4h.01M103.2 188.1h.01M95.2 221.3h.01M115.1 241.5h.01M102.0 200.5h.01M96.1 233.7h.01M92.3 230.6h.01M98.0 241.5h.01M103.7 227.6h.01M96.7 239.8h.01M108.3 227.3h.01M91.7 231.3h.01M89.4 201.2h.01M93.5 197.0h.01M74.1 225.7h.01M98.4 220.5h.01M83.9 223.7h.01M86.3 241.5h.01M82.8 193.0h.01M101.4 219.7h.01M94.4 241.5h.01M86.6 193.8h.01M90.9 200.3h.01M93.5 181.0h.01M91.2 234.2h.01M84.1 230.2h.01M86.8 188.0h.01M101.8 241.5h.01M103.3 210.0h.01M106.1 212.9h.01M88.4 230.6h.01M85.5 237.5h.01M79.4 199.4h.01M92.0 225.7h.01M88.8 218.3h.01M88.7 241.5h.01M103.7 204.1h.01M95.5 241.5h.01M87.1 181.7h.01M92.7 233.5h.01M80.2 241.5h.01M86.9 234.9h.01M91.8 241.5h.01M86.7 241.5h.01M82.5 189.0h.01M83.3 206.7h.01M104.6 241.5h.01M83.2 226.0h.01M86.3 217.4h.01M95.3 241.5h.01M88.9 230.8h.01M85.6 175.8h.01M95.8 195.4h.01M85.3 222.1h.01M106.6 211.5h.01M84.2 198.9h.01M86.2 215.0h.01M97.3 210.6h.01M76.5 241.5h.01M92.9 219.6h.01M90.8 218.2h.01M101.5 212.5h.01M91.4 209.8h.01M93.5 220.0h.01M101.5 216.2h.01M94.1 219.8h.01M83.5 218.9h.01M83.0 201.7h.01M86.1 224.2h.01M94.6 196.6h.01M76.7 231.6h.01M92.8 241.5h.01M102.1 217.7h.01M87.1 221.5h.01M82.8 241.5h.01M100.1 217.9h.01M91.6 196.5h.01M114.1 228.5h.01M92.1 200.4h.01M93.2 234.5h.01M96.2 193.5h.01M96.5 222.4h.01M101.6 241.5h.01M95.3 229.0h.01M91.3 195.8h.01M88.9 224.8h.01M85.1 222.1h.01M111.9 241.5h.01M96.1 211.4h.01M103.9 214.8h.01M93.2 229.6h.01M93.6 215.1h.01M98.6 198.0h.01M97.3 204.3h.01M102.4 222.9h.01M101.7 219.6h.01M98.0 199.7h.01M94.2 215.1h.01M100.9 221.6h.01M95.4 175.6h.01M103.4 187.1h.01M83.5 176.6h.01M107.3 183.2h.01M93.5 191.6h.01M76.3 208.2h.01M98.5 212.6h.01M101.0 215.9h.01M92.6 212.0h.01M95.6 211.5h.01M95.8 241.5h.01M86.9 224.3h.01M105.7 203.4h.01M84.3 195.5h.01M88.7 217.9h.01M71.2 241.5h.01M98.9 227.9h.01M86.7 195.3h.01M107.2 229.5h.01M78.3 199.7h.01M106.2 241.4h.01M72.6 212.6h.01M90.7 241.5h.01M92.1 241.5h.01M88.4 211.7h.01M105.4 241.5h.01M84.1 173.0h.01M89.2 241.5h.01M92.5 190.1h.01M91.6 217.6h.01M89.7 209.4h.01M95.5 210.0h.01M89.9 202.1h.01M104.3 216.8h.01M91.5 228.2h.01M96.2 231.8h.01M97.1 241.5h.01M104.6 241.5h.01M88.8 219.1h.01M97.1 239.4h.01M79.2 217.9h.01M95.6 179.7h.01M99.7 237.0h.01M101.8 191.7h.01M96.0 208.2h.01M85.3 229.2h.01M73.8 207.0h.01M76.3 199.8h.01M93.1 229.6h.01M95.7 240.1h.01M95.6 206.0h.01M98.0 211.4h.01M83.6 226.9h.01M93.0 220.0h.01M100.6 213.2h.01M89.2 241.5h.01M72.3 212.3h.01M88.6 217.2h.01M95.1 172.5h.01M85.9 233.0h.01M83.8 211.8h.01M78.8 236.8h.01M110.1 213.1h.01M96.7 221.1h.01M81.9 216.8h.01M96.2 219.3h.01M95.6 197.5h.01M102.1 241.5h.01M83.7 185.2h.01M102.1 184.5h.01M98.8 233.4h.01M82.0 200.7h.01M93.4 221.7h.01M93.8 201.2h.01M94.6 234.2h.01M73.5 197.1h.01M94.0 214.3h.01M88.6 214.3h.01M98.9 204.8h.01M93.6 218.8h.01M86.9 198.6h.01M83.5 223.6h.01M89.5 192.3h.01M94.2 241.5h.01M91.3 241.5h.01M80.0 213.2h.01M105.4 207.3h.01M99.1 227.2h.01M92.4 235.5h.01M93.6 215.5h.01M96.6 234.8h.01M93.9 230.8h.01M90.1 203.1h.01M101.5 199.3h.01M90.5 173.8h.01M89.4 241.5h.01M92.3 195.0h.01M91.1 241.5h.01M93.4 233.5h.01M120.9 211.8h.01M87.7 221.6h.01M95.9 209.2h.01M99.4 229.0h.01M79.6 223.1h.01M89.7 231.7h.01M79.2 213.7h.01M86.0 207.4h.01M79.4 219.2h.01M93.6 221.1h.01M86.9 195.4h.01M100.7 201.1h.01M89.4 164.4h.01M88.6 183.5h.01M86.8 238.6h.01M84.9 223.0h.01M100.7 241.5h.01M80.5 241.5h.01M102.2 195.8h.01M90.2 215.7h.01M81.2 227.3h.01M92.7 237.0h.01M86.5 230.5h.01M86.2 231.3h.01M102.7 241.0h.01M97.1 240.1h.01M68.1 233.9h.01M90.0 238.4h.01M89.9 222.1h.01M87.7 189.4h.01M105.3 234.5h.01M84.4 206.3h.01M84.6 241.5h.01M93.0 241.5h.01M101.4 200.6h.01M79.6 241.5h.01M90.0 241.5h.01M89.1 241.5h.01M97.0 185.3h.01M111.4 240.4h.01M98.8 241.5h.01M87.8 214.8h.01M85.0 213.5h.01M69.6 214.0h.01M92.2 223.9h.01M99.3 241.5h.01M97.6 209.4h.01M87.1 193.0h.01M105.4 178.9h.01M81.9 233.1h.01M101.0 218.7h.01M95.9 230.9h.01M86.8 201.1h.01M100.8 222.1h.01M82.4 201.8h.01M84.1 241.5h.01M94.7 241.5h.01M108.2 239.4h.01M99.5 235.2h.01M86.2 199.8h.01M106.3 234.2h.01M113.3 241.5h.01M94.3 226.8h.01M92.7 241.5h.01M83.1 218.6h.01M82.9 241.5h.01M79.7 231.3h.01M83.2 241.5h.01M78.2 238.6h.01M103.1 210.3h.01M93.1 202.3h.01M71.7 209.5h.01M96.4 226.8h.01M97.7 195.6h.01M83.5 202.5h.01M86.4 220.2h.01M78.5 241.5h.01M101.4 236.2h.01M76.9 176.5h.01M88.2 232.4h.01M102.8 228.4h.01M82.9 211.8h.01M94.3 160.0h.01M95.3 199.6h.01M80.0 225.1h.01M102.2 241.5h.01M81.8 238.7h.01M87.6 211.0h.01M82.4 210.9h.01M94.6 229.6h.01M87.9 228.0h.01M94.2 241.5h.01M86.7 159.8h.01M101.2 218.7h.01M90.2 213.4h.01M98.5 205.4h.01M87.1 210.2h.01M97.5 203.7h.01M77.4 208.3h.01M86.2 233.7h.01M95.9 227.9h.01M101.9 241.5h.01M91.0 207.3h.01M107.6 191.6h.01M105.0 229.7h.01M74.1 213.0h.01M93.3 241.5h.01M93.0 222.9h.01M97.3 234.2h.01M102.3 185.0h.01M88.3 208.4h.01M100.8 241.5h.01M75.8 212.6h.01M97.3 223.6h.01M81.3 218.2h.01M81.2 202.6h.01M99.9 224.7h.01M85.9 241.5h.01M97.5 225.2h.01M91.2 208.8h.01M94.3 241.5h.01M88.6 239.4h.01M77.1 220.9h.01M103.2 219.4h.01M103.3 241.5h.01M93.0 235.1h.01M91.1 206.8h.01M85.4 233.5h.01M83.6 240.5h.01M83.4 180.9h.01M80.1 183.4h.01M90.7 241.5h.01M102.9 224.8h.01M88.0 241.5h.01M96.0 241.5h.01M96.5 220.1h.01M85.4 188.6h.01M98.0 217.6h.01M91.4 211.8h.01M105.2 241.3h.01M103.9 236.9h.01M89.7 211.1h.01M89.8 227.0h.01M107.4 208.8h.01M83.8 215.6h.01M109.0 230.7h.01M103.6 221.8h.01M88.1 210.4h.01M91.2 204.8h.01M82.1 241.5h.01M83.4 241.5h.01M100.0 214.9h.01M95.0 233.9h.01M95.8 183.7h.01M115.6 197.5h.01M94.2 215.3h.01M88.2 194.8h.01M101.3 191.6h.01M97.6 214.2h.01M88.0 204.9h.01M83.8 241.5h.01M96.2 180.4h.01M88.5 194.9h.01M85.1 240.1h.01M86.4 239.3h.01M104.4 241.5h.01M90.6 209.6h.01M94.3 201.7h.01M79.5 241.5h.01M80.6 240.2h.01M76.4 201.1h.01M93.0 241.5h.01M86.4 225.4h.01M73.6 241.5h.01M112.4 220.6h.01M92.7 211.6h.01M85.2 234.8h.01M101.1 220.5h.01M95.8 224.3h.01M95.3 212.3h.01M105.6 221.2h.01M90.3 235.9h.01M98.9 166.2h.01M84.2 236.6h.01M82.2 176.0h.01M82.9 240.4h.01M94.5 209.9h.01M92.3 241.5h.01M87.6 217.8h.01M102.1 241.5h.01M79.9 217.9h.01M97.7 202.6h.01M100.5 204.1h.01M95.1 228.0h.01M97.0 234.4h.01M89.6 201.2h.01M81.6 241.5h.01M102.1 209.6h.01M85.2 216.5h.01M97.3 190.9h.01M105.1 241.5h.01M101.9 221.2h.01M94.0 197.3h.01M94.1 205.1h.01M102.1 236.5h.01M103.9 198.2h.01M83.3 209.6h.01M79.3 216.2h.01M95.1 220.1h.01M97.3 215.6h.01M92.5 213.1h.01M92.9 188.3h.01M88.5 201.3h.01M94.2 217.9h.01M78.4 183.8h.01M96.8 213.4h.01M100.5 227.9h.01M97.0 241.5h.01M83.2 219.6h.01M88.3 199.2h.01M94.5 225.9h.01M91.1 220.1h.01M94.4 233.9h.01M95.3 226.6h.01M83.2 208.0h.01M96.3 230.8h.01M88.8 215.2h.01M85.7 241.5h.01M94.9 215.2h.01M93.6 194.6h.01M100.9 241.5h.01M97.8 233.9h.01M101.1 222.5h.01M88.7 216.6h.01M100.7 222.2h.01M98.6 227.3h.01M103.2 175.5h.01M104.5 241.5h.01M84.9 213.0h.01M83.6 226.1h.01M87.8 236.0h.01M104.8 241.1h.01M95.1 175.3h.01M79.8 204.6h.01M90.5 206.4h.01M78.8 241.5h.01M110.7 241.5h.01M97.4 233.1h.01M81.9 219.7h.01M96.0 231.8h.01M115.6 236.1h.01M96.3 236.0h.01M80.4 241.5h.01M89.1 194.9h.01M98.7 205.6h.01M108.2 213.0h.01M99.4 241.5h.01M98.1 211.5h.01M82.9 237.8h.01M98.9 227.7h.01M106.6 224.8h.01M85.1 241.5h.01M85.0 222.7h.01M84.7 232.8h.01M96.0 240.3h.01M91.2 241.4h.01M108.4 188.0h.01M104.9 216.2h.01M98.6 229.5h.01M95.6 241.5h.01M79.1 241.5h.01M90.3 239.2h.01M92.6 217.1h.01M107.4 227.6h.01M92.9 179.2h.01M103.0 204.2h.01M96.6 210.7h.01M98.5 211.3h.01M88.9 241.5h.01M79.7 221.1h.01M100.2 226.7h.01M102.6 207.8h.01M75.8 174.4h.01M88.1 189.5h.01M91.8 220.4h.01M99.0 218.5h.01M81.1 209.6h.01M111.5 192.6h.01M90.9 168.3h.01M96.9 241.5h.01M92.5 201.7h.01M103.4 239.0h.01M99.3 200.2h.01M102.4 225.6h.01M89.4 241.5h.01M96.1 188.1h.01M98.7 241.5h.01M114.1 225.1h.01M100.6 197.1h.01M92.9 207.5h.01M106.1 222.0h.01M87.7 199.4h.01M96.9 185.0h.01M96.3 209.9h.01M89.3 196.4h.01M90.9 241.5h.01M97.3 233.8h.01M78.5 212.2h.01M94.0 241.5h.01M74.4 241.5h.01M73.2 183.6h.01M101.9 200.7h.01M92.2 232.5h.01M99.3 222.9h.01M96.1 213.4h.01M72.8 223.1h.01M104.7 211.5h.01M91.2 211.3h.01M88.1 206.6h.01M90.1 241.5h.01M64.5 197.5h.01M74.8 207.4h.01M99.7 179.9h.01M75.2 235.6h.01M96.6 238.7h.01M99.1 202.8h.01M81.7 184.2h.01M82.5 188.3h.01M80.5 239.3h.01M83.9 194.7h.01M89.4 224.3h.01M86.1 239.0h.01M88.0 191.6h.01M84.1 220.8h.01M108.8 226.0h.01M92.8 207.1h.01M86.6 241.5h.01M82.5 201.1h.01M97.0 228.5h.01M92.7 216.4h.01M100.1 241.5h.01M92.2 188.8h.01M98.8 221.9h.01M86.5 214.6h.01M76.3 209.4h.01M86.9 218.9h.01M83.0 229.6h.01M83.4 209.8h.01M98.5 195.9h.01M96.2 209.0h.01M93.1 194.6h.01M87.9 182.0h.01M97.4 208.1h.01M90.6 223.1h.01M93.8 237.5h.01M99.0 230.9h.01M89.5 217.6h.01M88.4 226.2h.01M102.1 227.6h.01M88.7 237.8h.01M91.6 190.8h.01M102.0 216.2h.01M90.2 210.6h.01M87.8 235.1h.01M107.5 215.5h.01M97.7 241.5h.01M83.4 224.9h.01M92.6 231.2h.01M87.4 223.8h.01M90.4 218.7h.01M104.9 225.9h.01M77.2 226.9h.01M77.8 197.7h.01M97.1 201.5h.01M86.7 227.8h.01M85.3 224.8h.01M79.4 187.8h.01M104.8 200.1h.01M103.2 189.5h.01M90.4 241.5h.01M86.6 217.8h.01M98.0 218.4h.01M101.0 219.1h.01M95.1 241.5h.01M91.5 226.1h.01M82.0 226.5h.01M93.9 227.8h.01M111.4 199.9h.01M84.2 197.5h.01M74.6 225.0h.01M78.3 201.5h.01M90.8 197.6h.01M101.9 225.9h.01M102.7 236.5h.01M87.8 231.7h.01M87.6 241.5h.01M105.8 205.3h.01M94.0 236.1h.01M99.9 235.3h.01M91.2 188.9h.01M93.1 192.9h.01M104.2 204.0h.01M84.7 230.2h.01M81.1 218.4h.01M96.9 219.7h.01M74.6 224.6h.01M96.6 211.4h.01M102.4 225.5h.01M96.7 190.5h.01M93.7 204.4h.01M98.2 227.7h.01M93.7 206.1h.01M79.3 193.1h.01M91.5 231.0h.01M84.3 183.1h.01M106.0 219.2h.01M99.2 241.5h.01M91.1 179.5h.01M95.5 229.2h.01M89.9 227.9h.01M105.3 241.5h.01M83.2 216.7h.01M87.0 241.5h.01M109.2 241.5h.01M94.6 198.0h.01M96.6 211.1h.01M109.5 225.8h.01M91.9 231.7h.01M89.5 241.5h.01M112.1 210.7h.01M87.6 200.7h.01M82.5 219.7h.01M101.5 172.3h.01M87.1 201.4h.01M83.1 210.5h.01M93.4 195.1h.01M98.6 241.5h.01M78.4 235.1h.01M81.3 218.2h.01M89.9 235.7h.01M91.2 219.5h.01M78.3 205.9h.01M79.5 231.5h.01M89.3 192.7h.01M94.3 203.2h.01M94.2 240.9h.01M92.2 223.0h.01M75.4 237.6h.01M83.6 226.8h.01M92.0 191.6h.01M97.2 210.2h.01M71.0 241.5h.01M109.6 217.1h.01M105.0 237.8h.01M79.1 220.9h.01M98.4 194.0h.01M85.4 239.8h.01M94.3 212.8h.01M88.8 180.2h.01M111.6 241.5h.01M108.5 216.3h.01M84.7 207.2h.01M100.6 169.5h.01M113.0 210.5h.01M93.7 226.0h.01M105.5 179.0h.01M90.5 210.7h.01M100.3 170.2h.01M86.5 240.5h.01M95.5 220.8h.01M92.9 239.9h.01M89.8 241.5h.01M87.8 205.4h.01M84.7 162.9h.01M82.9 228.2h.01M84.1 197.1h.01M75.2 176.7h.01M89.0 220.0h.01M92.0 197.9h.01M73.3 241.5h.01M57.4 223.7h.01M87.8 177.7h.01M82.1 211.8h.01M75.1 201.2h.01M103.3 224.9h.01M56.2 207.4h.01M87.7 232.8h.01M81.8 222.7h.01M80.3 241.5h.01M53.3 219.9h.01M69.7 201.3h.01M84.2 210.6h.01M103.5 198.4h.01M73.0 193.0h.01M61.8 215.2h.01M88.1 220.8h.01M106.0 206.2h.01M83.2 212.5h.01M55.8 194.8h.01M74.8 200.4h.01M90.1 203.4h.01M63.4 170.5h.01M98.1 180.1h.01M72.1 201.5h.01M91.9 192.4h.01M82.4 204.1h.01M95.7 176.5h.01M87.0 217.9h.01M76.6 232.2h.01M89.4 208.3h.01M75.9 218.4h.01M72.2 211.9h.01M92.4 223.3h.01M105.7 211.3h.01M76.0 185.0h.01M73.4 240.3h.01M98.9 183.9h.01M62.6 220.5h.01M65.0 224.4h.01M77.2 188.3h.01M63.9 203.0h.01M65.2 205.0h.01M79.0 212.2h.01M73.0 223.9h.01M60.8 188.5h.01M100.9 207.0h.01M70.3 225.7h.01M63.1 227.3h.01M74.0 228.5h.01M88.1 224.3h.01M83.9 206.5h.01M78.3 193.0h.01M136.9 229.7h.01M80.6 223.2h.01M94.2 193.9h.01M68.1 183.0h.01M62.4 217.3h.01M94.7 237.5h.01M71.6 201.5h.01M59.7 188.7h.01M88.1 218.8h.01M83.1 217.2h.01M84.4 201.7h.01M79.5 186.1h.01M97.9 236.4h.01M74.7 203.3h.01M104.5 234.7h.01M73.4 185.7h.01M96.5 215.2h.01M88.4 196.9h.01M112.7 206.1h.01M77.5 218.6h.01M94.2 205.5h.01M64.1 222.8h.01M60.5 214.9h.01M61.2 198.3h.01M69.7 188.6h.01M86.8 194.5h.01M76.0 224.8h.01M90.7 192.1h.01M52.2 176.7h.01M88.6 223.7h.01M76.3 227.9h.01M72.2 189.7h.01M68.6 220.9h.01M59.8 199.3h.01M91.2 191.4h.01M63.0 219.0h.01M71.5 192.8h.01M62.9 220.6h.01M52.0 208.4h.01M85.3 189.8h.01M63.1 226.6h.01M90.6 198.0h.01M71.8 204.6h.01M82.1 220.1h.01M90.5 230.2h.01M77.7 201.4h.01M60.3 210.2h.01M93.1 194.6h.01M93.4 184.2h.01M77.4 216.1h.01M86.1 220.5h.01M73.8 231.9h.01M75.9 207.4h.01M92.7 241.5h.01M74.7 195.5h.01M79.6 199.2h.01M111.6 214.9h.01M93.9 180.2h.01M69.6 218.8h.01M72.5 208.8h.01M93.6 212.2h.01M97.9 185.4h.01M100.6 205.0h.01M96.8 218.4h.01M94.7 221.0h.01M67.8 212.3h.01M89.5 222.8h.01M52.0 241.5h.01M94.4 208.0h.01M76.3 190.0h.01M99.4 241.5h.01M99.5 196.4h.01M90.4 231.6h.01M82.9 217.9h.01M72.3 196.6h.01M81.5 224.0h.01M74.9 241.5h.01M74.9 170.6h.01M85.0 216.2h.01M68.1 212.7h.01M70.3 237.0h.01M75.6 223.6h.01M99.4 191.1h.01M67.7 168.8h.01M74.6 218.9h.01M78.2 224.3h.01M109.9 203.9h.01M77.5 207.8h.01M69.2 193.2h.01M87.6 222.7h.01M69.9 211.7h.01M55.8 223.3h.01M76.2 205.8h.01M81.9 197.3h.01M68.5 200.3h.01M90.1 241.5h.01M80.5 232.1h.01M90.7 228.2h.01M113.0 232.4h.01M83.5 207.9h.01M52.0 210.9h.01M80.1 188.1h.01M71.8 222.6h.01M97.9 231.2h.01M99.8 204.9h.01M86.4 241.5h.01M100.5 195.2h.01M74.7 209.1h.01M72.4 213.9h.01M90.9 230.2h.01M88.1 232.7h.01M77.8 198.5h.01M74.3 226.9h.01M76.6 241.5h.01M96.1 202.0h.01M79.6 224.7h.01M86.0 208.1h.01M90.7 226.2h.01M86.0 206.9h.01M90.7 226.3h.01M67.5 159.5h.01M76.8 198.8h.01M92.9 215.0h.01M78.2 222.5h.01M104.6 212.4h.01M84.3 201.6h.01M84.8 238.6h.01M85.2 177.3h.01M78.4 205.4h.01M86.6 229.9h.01M92.5 207.5h.01M81.5 219.4h.01M83.5 217.1h.01M73.6 206.2h.01M66.6 212.4h.01M98.2 190.6h.01M79.7 207.9h.01M80.3 209.7h.01M80.9 212.4h.01M93.0 198.3h.01M94.5 200.2h.01M65.1 179.4h.01M77.9 228.9h.01M85.3 200.6h.01M81.1 194.2h.01M73.7 174.3h.01M87.6 201.0h.01M68.0 226.9h.01M71.7 239.4h.01M52.0 177.0h.01M78.8 238.2h.01M69.5 201.0h.01M98.9 193.4h.01M105.1 210.6h.01M52.0 208.6h.01M74.8 226.4h.01M101.9 208.0h.01M96.3 207.5h.01M69.5 211.9h.01M71.6 220.6h.01M93.4 232.9h.01M88.5 213.1h.01M76.1 221.6h.01M76.8 227.2h.01M66.7 222.5h.01M85.8 213.7h.01M74.2 198.6h.01M90.2 203.0h.01M86.2 199.8h.01M85.1 238.0h.01M81.8 184.7h.01M76.1 229.8h.01M88.7 231.0h.01M76.4 219.3h.01M76.5 203.4h.01M87.4 213.2h.01M75.9 219.3h.01M85.6 213.3h.01M69.4 184.6h.01M77.3 198.6h.01M76.6 207.5h.01M89.6 197.4h.01M57.2 217.0h.01M64.4 212.5h.01M73.8 241.2h.01M81.4 205.6h.01M79.4 208.9h.01M83.4 238.6h.01M96.0 226.5h.01M103.9 195.7h.01M93.6 224.0h.01M91.7 197.6h.01M72.7 219.3h.01M88.2 241.5h.01M83.0 208.2h.01M96.1 227.8h.01M97.3 222.2h.01M63.0 237.3h.01M67.1 204.1h.01M100.5 214.0h.01M65.6 223.4h.01M94.7 207.3h.01M78.9 203.3h.01M54.8 217.5h.01M85.1 225.6h.01M66.6 222.0h.01M71.9 199.3h.01M81.3 216.6h.01M105.4 214.5h.01M70.2 234.5h.01M104.3 201.2h.01M99.6 207.0h.01M72.7 239.5h.01M81.4 207.8h.01M66.6 197.7h.01M92.2 205.5h.01M77.4 204.7h.01M61.2 204.4h.01M52.0 237.6h.01M88.1 201.2h.01M88.7 188.6h.01M68.2 233.6h.01M64.7 215.9h.01M81.5 221.0h.01M99.4 216.0h.01M99.1 220.3h.01M63.5 223.1h.01M87.1 216.8h.01M98.9 187.8h.01M85.4 213.5h.01M81.3 197.1h.01M75.7 217.4h.01M52.0 213.7h.01M64.7 235.5h.01M66.8 175.2h.01M87.9 198.1h.01M84.2 196.8h.01M111.2 196.0h.01M107.6 221.6h.01M89.5 195.1h.01M88.3 196.1h.01M57.9 223.8h.01M63.9 193.0h.01M70.0 186.7h.01M60.0 196.0h.01M87.9 213.9h.01M72.4 189.9h.01M77.0 212.4h.01M91.5 200.3h.01M89.7 226.6h.01M108.0 208.7h.01M74.5 241.5h.01M96.8 210.2h.01M85.7 198.6h.01M70.3 213.0h.01M58.1 208.2h.01M52.2 202.9h.01M101.2 241.5h.01M84.4 233.0h.01M97.9 229.1h.01M93.0 229.4h.01M86.1 196.6h.01M63.6 203.0h.01M86.1 192.7h.01M60.9 230.0h.01M100.6 241.5h.01M73.6 205.6h.01M93.8 210.8h.01M64.6 205.5h.01M52.0 217.9h.01M96.3 214.4h.01M90.9 217.2h.01M90.2 220.4h.01M68.4 214.5h.01M79.0 208.2h.01M102.8 233.4h.01M69.5 219.2h.01M77.4 199.6h.01M84.7 235.6h.01M69.3 211.1h.01M84.1 227.0h.01M81.4 211.1h.01M77.8 240.7h.01M97.4 240.7h.01M92.4 212.9h.01M68.4 209.9h.01M67.3 207.4h.01M80.2 220.7h.01M91.6 221.7h.01M84.4 159.0h.01M82.3 181.4h.01M81.5 197.1h.01M56.1 235.2h.01M78.9 215.2h.01M89.1 179.8h.01M72.9 212.6h.01M125.0 199.7h.01M54.8 205.3h.01M74.9 196.2h.01M78.9 205.5h.01M87.6 194.2h.01M60.9 203.8h.01M74.6 198.1h.01M86.8 226.4h.01M80.3 206.3h.01M108.5 215.7h.01M86.5 201.5h.01M66.7 224.3h.01M82.3 215.2h.01M87.9 204.0h.01M95.8 229.5h.01M82.7 208.7h.01M64.5 241.5h.01M92.5 215.8h.01M89.2 214.6h.01M90.6 214.9h.01M76.9 233.8h.01M79.2 215.4h.01M79.7 205.1h.01M90.4 192.8h.01M103.9 240.9h.01M66.5 233.7h.01M70.0 237.8h.01M105.8 211.1h.01M91.8 193.8h.01M77.9 216.8h.01M85.9 197.1h.01M94.6 204.1h.01M60.7 232.8h.01M75.5 203.4h.01M64.3 191.9h.01M77.1 213.5h.01M72.5 183.9h.01M63.1 220.8h.01M102.2 196.3h.01M57.3 234.4h.01M85.3 189.0h.01M76.5 191.7h.01M87.8 204.3h.01M52.0 169.0h.01M94.2 191.2h.01M56.1 209.4h.01M89.9 220.4h.01M75.4 207.8h.01M96.9 219.4h.01M87.5 214.6h.01M74.7 211.2h.01M83.6 196.4h.01M76.6 206.9h.01M86.8 227.8h.01M57.9 226.8h.01M71.7 221.5h.01M68.1 198.3h.01M91.6 232.6h.01M64.1 199.8h.01M73.6 212.2h.01M59.5 240.2h.01M76.4 180.9h.01M81.9 212.2h.01M109.0 224.8h.01M72.4 206.2h.01M83.4 182.1h.01M76.4 226.5h.01M80.4 232.1h.01M84.7 237.8h.01M71.1 194.0h.01M55.7 185.9h.01M92.2 216.5h.01M79.2 241.5h.01M64.5 208.0h.01M85.4 228.8h.01M89.6 201.9h.01M53.8 221.5h.01M81.9 224.6h.01M74.2 205.3h.01M101.5 241.5h.01M63.9 241.5h.01M92.7 200.9h.01M69.9 191.5h.01M105.9 181.3h.01M86.4 230.1h.01M74.2 215.7h.01M88.6 205.2h.01M97.2 199.9h.01M67.8 203.6h.01M78.0 234.1h.01M74.2 221.4h.01M87.7 173.7h.01M95.2 189.1h.01M53.9 185.6h.01M86.0 217.2h.01M63.0 213.8h.01M59.5 227.1h.01M69.0 204.1h.01M91.9 205.6h.01M87.9 201.2h.01M56.0 223.8h.01M74.6 192.2h.01M84.3 201.9h.01M90.1 179.2h.01M77.6 224.7h.01M80.1 188.5h.01M87.9 202.9h.01M90.2 210.5h.01M100.2 204.6h.01M65.8 172.8h.01M58.8 220.3h.01M63.0 224.5h.01M67.2 213.6h.01M82.4 204.5h.01M74.7 210.2h.01M80.1 241.5h.01M93.0 195.5h.01M97.1 226.0h.01M66.8 241.5h.01M96.0 230.0h.01M83.4 212.0h.01M72.0 161.0h.01M55.0 241.5h.01M84.0 202.9h.01M102.8 221.8h.01M80.6 182.0h.01M89.2 232.2h.01M127.6 214.2h.01M111.5 241.3h.01M103.4 162.7h.01M101.3 222.7h.01M142.0 213.7h.01M93.4 210.7h.01M101.2 219.9h.01M104.0 208.8h.01M107.9 230.5h.01M103.4 191.0h.01M99.4 224.5h.01M114.3 238.0h.01M108.8 195.2h.01M123.7 241.5h.01M115.8 213.9h.01M87.6 201.5h.01M108.0 226.1h.01M104.7 225.3h.01M98.8 221.5h.01M115.0 224.5h.01M114.8 213.8h.01M95.6 179.6h.01M126.1 241.5h.01M103.8 220.0h.01M109.4 189.6h.01M87.2 230.6h.01M110.9 226.2h.01M91.5 223.8h.01M87.0 225.8h.01M106.6 241.5h.01M121.1 191.7h.01M97.2 238.1h.01M93.0 241.5h.01M119.2 221.3h.01M117.0 169.6h.01M104.8 213.7h.01M109.0 193.5h.01M93.4 192.8h.01M90.3 206.0h.01M89.1 241.5h.01M101.2 199.9h.01M114.5 215.1h.01M101.4 231.4h.01M105.4 207.3h.01M113.4 231.4h.01M80.3 204.7h.01M116.4 241.5h.01M109.1 220.3h.01M93.0 204.6h.01M102.3 208.4h.01M87.5 202.5h.01M111.9 208.7h.01M105.3 205.1h.01M102.5 173.6h.01M90.3 212.6h.01M109.9 180.4h.01M110.9 198.8h.01M112.5 206.6h.01M86.9 208.2h.01M101.1 213.3h.01M99.6 228.1h.01M115.3 207.1h.01M114.1 238.3h.01M110.5 235.8h.01M115.5 230.4h.01M105.8 223.1h.01M133.9 217.8h.01M102.2 215.3h.01M104.6 207.7h.01M91.4 219.9h.01M108.5 175.4h.01M108.1 182.9h.01M118.8 217.8h.01M109.4 241.5h.01M90.9 203.9h.01M105.5 199.2h.01M105.9 173.6h.01M112.7 214.8h.01M106.2 208.3h.01M99.4 200.3h.01M106.5 179.5h.01M107.0 241.5h.01M93.2 222.3h.01M95.8 241.5h.01M106.3 231.0h.01M117.3 195.8h.01M107.1 215.3h.01M104.7 224.0h.01M110.6 207.4h.01M105.8 206.9h.01M87.1 201.6h.01M99.1 201.5h.01M119.2 215.3h.01M106.5 181.2h.01M92.4 170.8h.01M78.0 204.9h.01M106.8 177.8h.01M103.6 216.6h.01M130.9 198.9h.01M94.7 211.8h.01M112.4 241.5h.01M119.3 207.6h.01M112.7 218.1h.01M92.7 219.7h.01M106.9 234.4h.01M95.8 194.8h.01M100.6 234.1h.01M112.9 215.9h.01M86.7 217.6h.01M116.3 227.7h.01M124.4 232.3h.01M114.3 222.3h.01M101.5 241.5h.01M125.8 241.5h.01M127.1 230.7h.01M94.4 232.0h.01M108.9 237.7h.01M106.9 223.3h.01M111.6 241.5h.01M199.1 116.0h.01M178.7 129.4h.01M190.1 115.5h.01M197.3 116.5h.01M197.8 145.1h.01M189.4 143.5h.01M192.3 144.2h.01M198.4 121.2h.01M186.6 126.7h.01M189.3 114.7h.01M182.0 113.8h.01M185.9 129.8h.01M192.0 125.9h.01M179.8 129.9h.01M177.8 114.3h.01M190.8 84.8h.01M163.8 135.0h.01M198.5 136.0h.01M206.6 124.4h.01M183.9 151.8h.01M177.4 157.2h.01M199.7 115.7h.01M182.7 111.2h.01M218.2 116.7h.01M193.8 115.8h.01M196.1 115.0h.01M188.5 118.1h.01M187.6 100.7h.01M197.9 114.7h.01M183.1 155.5h.01M180.4 149.6h.01M179.9 116.1h.01M172.6 113.5h.01M205.4 126.7h.01M196.7 132.8h.01M181.7 112.0h.01M190.4 115.2h.01M197.1 148.3h.01M192.6 112.0h.01M188.3 119.9h.01M200.0 107.4h.01M190.5 130.0h.01M198.1 107.0h.01M210.4 104.6h.01M195.4 108.7h.01M188.6 114.9h.01M183.6 101.4h.01M179.2 147.6h.01M205.1 136.6h.01M195.2 124.7h.01M199.5 129.2h.01M188.8 131.6h.01M194.2 121.4h.01M164.5 129.5h.01M187.6 120.0h.01M176.2 110.6h.01M177.7 129.4h.01M187.6 118.3h.01M198.8 99.4h.01M196.1 94.9h.01M192.3 119.4h.01M188.5 123.7h.01M177.6 153.9h.01M194.2 104.6h.01M193.5 114.1h.01M187.6 111.7h.01M178.1 145.6h.01M190.5 118.0h.01M202.9 127.1h.01M195.6 135.0h.01M215.9 83.8h.01M198.1 146.6h.01M175.9 116.2h.01M180.8 128.7h.01M198.3 97.1h.01M191.9 143.1h.01M176.2 128.4h.01M161.8 151.6h.01M178.9 116.0h.01M183.8 143.1h.01M184.2 135.8h.01M191.9 123.6h.01M212.1 103.2h.01M180.1 134.0h.01M192.5 124.9h.01M181.8 146.5h.01M185.6 122.0h.01M196.4 101.1h.01M187.5 123.6h.01M195.5 128.2h.01M189.0 130.8h.01M186.7 133.3h.01M194.1 125.5h.01M213.0 106.6h.01M206.4 110.6h.01M198.9 129.1h.01M182.1 120.0h.01M183.5 138.9h.01M189.8 125.8h.01M189.2 140.9h.01M175.8 119.9h.01M193.9 119.0h.01M179.8 149.4h.01M200.4 128.2h.01M190.6 122.3h.01M176.7 119.2h.01M186.4 138.6h.01M182.9 115.0h.01M199.8 133.2h.01M186.2 110.7h.01M174.0 122.3h.01M203.0 92.6h.01M192.9 113.6h.01M196.8 118.2h.01M186.8 118.4h.01M198.6 120.8h.01M190.2 140.8h.01M158.1 118.2h.01M194.9 109.3h.01M175.4 119.4h.01M181.9 144.3h.01M196.0 116.6h.01M186.5 116.0h.01M182.6 128.7h.01M195.4 102.5h.01M182.1 117.6h.01M171.8 135.8h.01M184.2 151.4h.01M198.1 112.2h.01M179.7 138.9h.01M199.8 108.8h.01M163.2 143.7h.01M186.0 131.5h.01M187.8 120.8h.01M200.8 124.7h.01M177.5 127.5h.01M167.9 138.9h.01M186.6 133.8h.01M184.0 141.7h.01M182.0 138.1h.01M185.6 138.7h.01M168.4 149.5h.01M184.9 142.2h.01M184.1 124.0h.01M174.8 123.5h.01M206.0 109.4h.01M213.3 110.3h.01M194.1 121.8h.01M192.9 127.2h.01M189.1 119.0h.01M199.5 127.4h.01M191.9 145.1h.01M185.7 128.3h.01M207.8 105.0h.01M180.5 133.6h.01M194.5 140.9h.01M197.9 130.4h.01M173.7 120.5h.01M190.2 116.2h.01M179.1 127.4h.01M185.5 114.2h.01M190.9 124.2h.01M189.3 140.9h.01M190.8 127.6h.01M190.2 126.3h.01M158.4 133.5h.01M193.9 123.5h.01M172.8 134.3h.01M194.5 132.9h.01M177.9 109.8h.01M183.0 114.1h.01M178.3 129.1h.01M178.0 148.6h.01M192.0 111.4h.01M201.3 111.7h.01M177.2 143.1h.01M175.5 132.3h.01M206.4 138.9h.01M210.5 111.4h.01M166.1 131.3h.01M192.8 100.9h.01M179.4 135.2h.01M197.0 125.4h.01M191.0 127.0h.01M201.5 125.2h.01M209.4 121.7h.01M186.1 116.2h.01M188.9 135.0h.01M206.6 99.1h.01M193.4 102.7h.01M177.2 130.8h.01M184.3 127.3h.01M174.9 149.5h.01M189.8 103.7h.01M197.8 112.9h.01M197.9 128.6h.01M189.8 127.0h.01M186.6 127.9h.01M194.2 131.6h.01M179.8 132.1h.01M196.6 97.1h.01M167.8 116.6h.01M197.2 119.9h.01M185.2 111.6h.01M188.2 153.6h.01M202.7 126.7h.01M171.2 136.1h.01M162.5 155.3h.01M183.1 115.6h.01M178.8 119.1h.01M198.9 128.8h.01M186.3 125.6h.01M171.3 140.4h.01M180.4 135.4h.01M188.7 126.9h.01M188.6 125.4h.01M191.2 111.0h.01M185.9 129.2h.01M193.0 105.3h.01M194.7 114.4h.01M189.4 126.6h.01M195.0 115.2h.01M176.8 92.5h.01M177.0 115.5h.01M187.3 105.7h.01M175.5 126.5h.01M184.0 125.0h.01M186.5 100.0h.01M189.7 131.4h.01M199.1 142.1h.01M190.3 128.3h.01M191.8 122.3h.01M185.4 114.7h.01M160.1 141.3h.01M191.7 128.7h.01M181.1 120.9h.01M187.7 118.6h.01M197.6 108.8h.01M188.6 115.3h.01M176.3 127.4h.01M181.8 126.1h.01M187.4 129.0h.01M180.3 121.8h.01M188.8 108.8h.01M194.7 128.7h.01M177.9 134.9h.01M176.3 116.7h.01M199.5 89.6h.01M182.4 107.0h.01M207.5 101.8h.01M182.4 104.6h.01M174.1 154.2h.01M197.8 121.6h.01M208.5 119.9h.01M190.8 96.4h.01M184.8 117.4h.01M166.6 134.0h.01M197.3 114.0h.01M193.9 134.5h.01M205.2 137.1h.01M194.9 117.0h.01M181.1 132.3h.01M188.4 116.5h.01M185.6 108.8h.01M181.6 108.0h.01M174.3 120.1h.01M188.4 157.3h.01M180.1 135.9h.01M204.2 120.1h.01M193.1 127.2h.01M203.9 117.6h.01M196.8 112.1h.01M197.5 96.4h.01M182.6 126.7h.01M199.6 119.8h.01M200.5 126.8h.01M212.5 92.8h.01M173.7 121.8h.01M206.7 109.0h.01M192.7 105.1h.01M182.9 128.5h.01M179.4 124.4h.01M196.5 130.9h.01M169.8 116.4h.01M185.6 130.9h.01M207.9 116.4h.01M218.0 107.6h.01M207.4 120.8h.01M179.6 115.4h.01M191.9 124.8h.01M194.5 134.0h.01M200.6 112.4h.01M182.3 130.5h.01M189.2 105.4h.01M190.9 135.5h.01M185.3 105.0h.01M168.3 131.3h.01M182.3 120.5h.01M204.0 99.4h.01M203.0 126.0h.01M171.6 151.1h.01M190.8 140.3h.01M186.8 111.2h.01M175.1 141.6h.01M187.8 120.3h.01M186.1 117.5h.01M194.5 137.6h.01M181.6 110.8h.01M177.6 115.9h.01M204.6 119.2h.01M175.8 154.3h.01M204.1 111.5h.01M201.0 89.3h.01M184.7 145.4h.01M186.8 96.3h.01M183.2 133.1h.01M197.7 116.1h.01M178.7 105.7h.01M178.8 129.7h.01M186.6 102.7h.01M181.6 121.6h.01M183.2 129.0h.01M178.8 134.5h.01M178.9 104.5h.01M203.9 110.8h.01M157.3 156.6h.01M200.4 109.9h.01M181.0 125.2h.01M176.4 115.8h.01M199.4 122.2h.01M133.8 162.9h.01M161.3 146.2h.01M144.3 161.5h.01M166.9 140.2h.01M138.9 151.9h.01M175.2 134.7h.01M156.5 156.6h.01M150.4 142.7h.01M154.8 134.3h.01M164.0 131.8h.01M168.0 148.3h.01M170.5 132.2h.01M171.6 149.6h.01M149.8 146.5h.01M145.5 155.5h.01M170.4 151.2h.01M156.6 165.6h.01M145.3 164.1h.01M147.3 140.3h.01M146.8 154.5h.01M146.8 153.6h.01M158.1 131.8h.01M154.1 162.6h.01M161.6 146.1h.01M132.9 155.8h.01M153.0 134.9h.01M142.0 161.0h.01M151.3 130.0h.01M163.4 151.0h.01M156.5 140.1h.01M139.9 145.0h.01M158.1 150.9h.01M160.2 132.1h.01M151.6 148.3h.01M159.5 145.1h.01M147.0 142.5h.01M166.3 142.0h.01M149.1 167.8h.01M172.4 144.4h.01M145.5 154.5h.01M154.0 157.3h.01M126.5 158.9h.01M146.9 152.0h.01M164.6 151.8h.01M139.0 148.5h.01M160.1 144.8h.01M178.1 136.7h.01M157.1 146.7h.01M161.6 162.3h.01M152.7 144.4h.01M130.4 162.2h.01M153.6 131.3h.01M143.2 160.1h.01M150.3 152.7h.01M152.3 139.7h.01M167.5 140.8h.01M163.2 158.8h.01M161.9 134.9h.01M176.1 144.6h.01M175.2 138.2h.01M136.3 161.3h.01M133.6 140.1h.01M150.3 131.1h.01M153.1 148.5h.01M170.4 144.4h.01M147.7 146.9h.01M153.0 131.0h.01M170.0 158.7h.01M166.6 141.6h.01M166.8 145.9h.01M148.3 149.8h.01M174.5 123.6h.01M138.7 158.1h.01M144.5 150.2h.01M181.1 129.0h.01M147.8 146.2h.01M161.5 144.4h.01M164.6 142.4h.01M143.9 128.5h.01M153.5 141.0h.01M168.0 140.1h.01M164.5 144.9h.01M142.3 159.5h.01M170.3 124.7h.01M142.2 154.9h.01M164.7 137.2h.01M150.4 153.9h.01M142.2 148.1h.01M157.1 141.9h.01M143.1 132.3h.01M150.2 135.0h.01M146.9 172.3h.01M138.8 170.5h.01M166.9 147.8h.01M161.2 148.6h.01M183.4 197.8h.01M197.4 224.8h.01M200.3 215.1h.01M179.3 241.5h.01M181.2 215.1h.01M183.7 212.9h.01M192.6 214.3h.01M188.4 234.2h.01M187.6 215.7h.01M190.3 218.2h.01M189.9 215.8h.01M191.6 189.8h.01M188.0 241.5h.01M194.9 187.7h.01M169.2 209.2h.01M190.5 211.4h.01M194.3 223.3h.01M187.7 228.0h.01M180.3 176.6h.01M190.9 219.3h.01M183.3 195.4h.01M175.6 225.0h.01M185.6 177.2h.01M184.1 220.7h.01M187.1 170.4h.01M190.8 189.5h.01M188.5 213.7h.01M183.8 228.4h.01M194.3 232.1h.01M194.8 223.6h.01M192.4 203.4h.01M181.1 221.1h.01M183.8 214.2h.01M187.4 204.8h.01M185.0 236.8h.01M178.2 218.2h.01M193.8 217.9h.01M189.8 231.8h.01M181.1 205.3h.01M179.0 213.9h.01M192.5 191.3h.01M197.6 197.6h.01M189.5 187.5h.01M188.0 192.6h.01M187.2 195.2h.01M184.2 212.7h.01M195.9 225.9h.01M192.2 204.1h.01M186.8 217.4h.01M174.0 241.5h.01M176.2 202.3h.01M185.6 209.6h.01M189.0 241.5h.01M194.6 241.5h.01M189.8 207.0h.01M188.0 241.5h.01M189.9 219.9h.01M182.1 186.0h.01M190.2 222.4h.01M185.0 197.6h.01M186.0 213.3h.01M187.6 229.5h.01M178.5 219.0h.01M188.8 194.9h.01M188.5 184.1h.01M182.1 202.6h.01M182.9 228.6h.01M182.9 198.7h.01M203.3 216.8h.01M186.8 173.6h.01M192.6 210.9h.01M172.2 208.3h.01M180.4 241.5h.01M178.7 214.4h.01M183.9 193.8h.01M191.9 232.6h.01M189.9 203.7h.01M187.5 208.1h.01M190.6 218.6h.01M186.1 203.3h.01M187.4 219.8h.01M197.1 199.6h.01M191.4 206.3h.01M194.1 219.5h.01M199.1 172.1h.01M179.5 211.2h.01M200.3 218.0h.01M179.5 225.5h.01M194.8 206.2h.01M185.7 187.5h.01M199.7 209.6h.01M194.7 209.6h.01M182.0 201.9h.01M190.5 235.4h.01M190.6 181.1h.01M183.2 228.2h.01M188.4 219.8h.01M183.3 205.7h.01M185.2 202.0h.01M186.6 189.0h.01M187.3 185.7h.01M180.6 213.7h.01M198.3 232.3h.01M178.7 241.5h.01M188.1 240.6h.01M183.3 214.3h.01M195.1 215.2h.01M184.3 226.1h.01M184.3 202.0h.01M197.9 227.0h.01M186.8 194.3h.01M182.3 207.7h.01M190.1 223.2h.01M180.6 187.2h.01M188.7 239.0h.01M183.8 225.7h.01M189.5 207.8h.01M180.2 205.5h.01M192.2 215.3h.01M193.1 194.9h.01M181.7 229.2h.01M186.5 215.5h.01M190.8 227.9h.01M178.8 189.5h.01M187.5 235.7h.01M188.8 223.6h.01M179.6 241.5h.01M181.9 236.9h.01M194.8 229.7h.01M189.2 187.9h.01M174.2 201.8h.01M160.7 208.2h.01M191.1 188.3h.01M169.3 224.0h.01M220.6 178.5h.01M185.8 229.1h.01M169.0 187.0h.01M162.3 212.1h.01M181.8 239.0h.01M161.1 215.1h.01M165.4 189.4h.01M174.7 212.8h.01M185.0 201.6h.01M205.7 211.8h.01M161.4 203.4h.01M205.4 207.1h.01M180.3 196.4h.01M186.6 200.3h.01M165.0 212.4h.01M196.1 202.8h.01M195.7 228.9h.01M173.5 224.3h.01M195.9 200.2h.01M178.4 184.3h.01M172.7 170.8h.01M158.1 193.4h.01M166.4 218.7h.01M174.8 200.1h.01M204.6 192.9h.01M182.9 197.6h.01M171.0 181.7h.01M174.0 201.0h.01M181.9 195.9h.01M177.1 238.0h.01M172.5 204.6h.01M207.9 241.5h.01M191.9 218.3h.01M176.7 193.4h.01M181.5 211.5h.01M165.7 190.5h.01M185.0 217.5h.01M181.1 166.0h.01M168.0 232.3h.01M153.8 212.1h.01M159.8 223.7h.01M173.8 182.8h.01M168.7 241.5h.01M187.6 182.6h.01M208.7 211.9h.01M151.3 182.5h.01M186.1 201.2h.01M198.6 214.4h.01M164.9 178.1h.01M194.3 204.8h.01M172.0 216.7h.01M195.0 187.4h.01M227.3 226.0h.01M208.1 203.9h.01M169.9 183.7h.01M171.3 194.1h.01M169.9 190.2h.01M171.5 206.3h.01M178.0 220.3h.01M205.5 207.4h.01M182.2 213.6h.01M180.6 207.0h.01M165.3 218.6h.01M207.2 229.8h.01M170.8 230.0h.01M171.8 176.2h.01M194.1 210.4h.01M174.1 203.8h.01M167.7 237.2h.01M195.4 228.3h.01M184.4 181.4h.01M162.8 196.5h.01M151.8 171.2h.01M172.6 215.5h.01M160.7 212.8h.01M174.7 201.1h.01M150.2 177.1h.01M182.1 216.0h.01M177.7 189.1h.01M211.8 220.4h.01M190.4 190.0h.01M180.6 241.5h.01M133.9 236.2h.01M179.3 235.8h.01M193.2 170.6h.01M200.8 228.0h.01M178.9 230.9h.01M171.3 192.8h.01M186.6 206.7h.01M180.3 198.0h.01M185.2 224.6h.01M217.6 241.5h.01M169.5 184.9h.01M158.9 181.7h.01M162.0 218.1h.01M174.7 186.9h.01M173.2 223.1h.01M195.7 200.4h.01M187.5 216.7h.01M161.6 226.0h.01M168.3 211.6h.01M193.9 227.6h.01M203.1 186.9h.01M200.2 184.5h.01M164.1 211.4h.01M174.1 185.4h.01" fill="none" stroke="#000" stroke-width="1.45" stroke-linecap="square"/>
<g stroke="#1a1a1a" stroke-width="1" fill="none">
<path d="M51.5 29.5V242.5H264.5"/>
<path d="M127.5 29.5V242.5M51.5 170.5H264.5" stroke="#2a2a2a" stroke-width="1"/>
<path d="M51.5 241.0v3.5M52.0 242.5h-3.5M67.5 241.5v2.2M51.5 226.5h-2.2M76.9 241.5v2.2M51.5 217.1h-2.2M83.6 241.5v2.2M51.5 210.4h-2.2M88.7 241.5v2.2M51.5 205.3h-2.2M92.9 241.5v2.2M51.5 201.1h-2.2M96.5 241.5v2.2M51.5 197.5h-2.2M99.6 241.5v2.2M51.5 194.4h-2.2M102.3 241.5v2.2M51.5 191.7h-2.2M104.8 241.0v3.5M52.0 189.2h-3.5M120.8 241.5v2.2M51.5 173.2h-2.2M130.2 241.5v2.2M51.5 163.8h-2.2M136.8 241.5v2.2M51.5 157.2h-2.2M142.0 241.5v2.2M51.5 152.0h-2.2M146.2 241.5v2.2M51.5 147.8h-2.2M149.8 241.5v2.2M51.5 144.2h-2.2M152.8 241.5v2.2M51.5 141.2h-2.2M155.6 241.5v2.2M51.5 138.4h-2.2M158.0 241.0v3.5M52.0 136.0h-3.5M174.0 241.5v2.2M51.5 120.0h-2.2M183.4 241.5v2.2M51.5 110.6h-2.2M190.1 241.5v2.2M51.5 103.9h-2.2M195.2 241.5v2.2M51.5 98.8h-2.2M199.4 241.5v2.2M51.5 94.6h-2.2M203.0 241.5v2.2M51.5 91.0h-2.2M206.1 241.5v2.2M51.5 87.9h-2.2M208.8 241.5v2.2M51.5 85.2h-2.2M211.2 241.0v3.5M52.0 82.8h-3.5M227.3 241.5v2.2M51.5 66.7h-2.2M236.7 241.5v2.2M51.5 57.3h-2.2M243.3 241.5v2.2M51.5 50.7h-2.2M248.5 241.5v2.2M51.5 45.5h-2.2M252.7 241.5v2.2M51.5 41.3h-2.2M256.3 241.5v2.2M51.5 37.7h-2.2M259.3 241.5v2.2M51.5 34.7h-2.2M262.1 241.5v2.2M51.5 31.9h-2.2M264.5 241.0v3.5M52.0 29.5h-3.5" stroke-width="1"/>
</g>
<text class="tk" x="48.0" y="251.5">10<tspan class="sp" dy="-2.6">0</tspan></text>
<text class="tk" x="101.2" y="251.5">10<tspan class="sp" dy="-2.6">1</tspan></text>
<text class="tk" x="38.3" y="192.4">10<tspan class="sp" dy="-2.6">1</tspan></text>
<text class="tk" x="154.5" y="251.5">10<tspan class="sp" dy="-2.6">2</tspan></text>
<text class="tk" x="38.3" y="139.2">10<tspan class="sp" dy="-2.6">2</tspan></text>
<text class="tk" x="207.8" y="251.5">10<tspan class="sp" dy="-2.6">3</tspan></text>
<text class="tk" x="38.3" y="86.0">10<tspan class="sp" dy="-2.6">3</tspan></text>
<text class="tk" x="261.0" y="251.5">10<tspan class="sp" dy="-2.6">4</tspan></text>
<text class="tk" x="38.3" y="32.7">10<tspan class="sp" dy="-2.6">4</tspan></text>
<text class="pc" x="52.5" y="38.4">28.87%</text>
<text class="pc" text-anchor="end" x="264.2" y="37.8">13.55%</text>
<rect x="52.5" y="231.0" width="28.5" height="8.5" fill="#fff"/>
<text class="pc" x="53.5" y="237.7">49.70%</text>
<text class="pc" text-anchor="end" x="264.2" y="237.5">7.88%</text>
<text class="tt" text-anchor="middle" x="164.5" y="27.0">C57BL/6</text>
<path d="M336.9 148.5h.01M348.5 139.7h.01M337.3 157.6h.01M300.6 161.6h.01M312.6 125.7h.01M325.3 154.7h.01M355.2 151.4h.01M366.4 176.0h.01M358.9 174.6h.01M344.3 150.5h.01M350.2 170.0h.01M342.1 154.5h.01M306.5 166.3h.01M344.3 140.9h.01M339.4 166.9h.01M335.2 167.7h.01M352.3 138.7h.01M331.5 163.8h.01M355.5 175.7h.01M299.6 156.8h.01M351.5 173.3h.01M370.7 145.6h.01M330.0 144.1h.01M353.5 140.6h.01M360.8 169.6h.01M347.0 129.7h.01M324.0 167.2h.01M309.4 154.5h.01M335.3 169.0h.01M343.0 161.1h.01M328.7 157.7h.01M334.7 166.9h.01M333.8 170.9h.01M303.8 173.0h.01M334.0 172.1h.01M339.0 168.6h.01M366.9 150.5h.01M339.0 155.4h.01M341.5 136.8h.01M334.0 154.4h.01M321.8 155.1h.01M306.9 175.5h.01M346.2 181.8h.01M320.1 142.6h.01M342.9 136.2h.01M341.8 148.5h.01M330.7 160.8h.01M338.2 181.5h.01M349.8 141.0h.01M356.7 140.4h.01M339.0 141.5h.01M320.9 174.4h.01M326.3 149.3h.01M326.2 153.5h.01M365.8 142.4h.01M312.8 165.0h.01M305.7 152.8h.01M359.6 157.5h.01M327.7 148.4h.01M319.1 149.9h.01M339.9 173.4h.01M356.3 150.2h.01M322.7 166.4h.01M301.3 151.8h.01M330.7 143.1h.01M317.4 161.9h.01M304.4 145.6h.01M324.2 158.4h.01M309.9 171.3h.01M330.8 154.0h.01M329.7 148.6h.01M317.5 172.0h.01M340.8 155.8h.01M356.4 148.1h.01M349.2 157.5h.01M319.2 166.9h.01M307.2 165.5h.01M319.2 162.4h.01M363.9 164.4h.01M324.7 156.7h.01M329.3 142.0h.01M314.7 157.6h.01M347.1 134.4h.01M335.1 163.5h.01M338.6 144.1h.01M356.8 141.4h.01M349.1 177.4h.01M298.0 160.2h.01M342.5 159.8h.01M321.2 152.9h.01M308.8 158.6h.01M346.8 148.3h.01M318.0 150.8h.01M336.0 157.6h.01M334.1 157.7h.01M310.4 122.0h.01M348.3 174.9h.01M308.3 148.3h.01M342.0 168.9h.01M348.8 173.1h.01M335.0 162.0h.01M344.2 151.2h.01M359.7 164.7h.01M355.3 151.8h.01M356.3 143.3h.01M343.8 123.4h.01M316.3 166.1h.01M327.2 158.9h.01M304.3 176.4h.01M347.7 156.4h.01M344.2 160.9h.01M363.7 159.4h.01M307.2 153.5h.01M361.1 163.9h.01M327.8 164.5h.01M338.3 164.5h.01M305.0 145.3h.01M349.0 153.9h.01M342.9 181.6h.01M329.9 159.8h.01M325.1 148.8h.01M334.5 138.2h.01M298.0 174.1h.01M334.0 171.0h.01M338.4 158.6h.01M349.1 165.8h.01M312.5 172.1h.01M317.0 159.3h.01M386.0 157.7h.01M368.6 152.3h.01M348.0 157.4h.01M344.2 145.9h.01M318.1 161.0h.01M305.5 146.0h.01M348.6 148.9h.01M318.7 142.7h.01M338.9 152.1h.01M339.0 154.3h.01M372.2 151.2h.01M298.0 158.2h.01M336.1 158.7h.01M304.7 171.1h.01M335.4 156.2h.01M305.2 162.7h.01M334.8 173.9h.01M327.9 141.1h.01M338.5 145.2h.01M344.1 143.0h.01M333.5 153.9h.01M335.4 150.2h.01M320.3 156.0h.01M324.8 158.7h.01M330.7 128.3h.01M334.8 174.3h.01M341.9 164.3h.01M344.9 150.8h.01M310.1 166.9h.01M356.5 163.9h.01M344.3 161.7h.01M335.5 160.2h.01M336.3 160.8h.01M317.8 148.8h.01M347.1 152.5h.01M298.0 158.3h.01M298.0 180.7h.01M350.0 165.2h.01M323.3 142.6h.01M332.0 157.0h.01M321.3 158.7h.01M349.3 164.3h.01M316.1 129.7h.01M336.2 148.6h.01M344.7 177.3h.01M367.7 160.4h.01M357.5 177.3h.01M337.1 160.2h.01M352.6 156.4h.01M326.7 147.5h.01M336.4 149.1h.01M351.6 152.7h.01M364.3 172.0h.01M312.6 170.4h.01M328.6 174.0h.01M346.2 156.4h.01M349.3 150.1h.01M342.7 161.8h.01M333.7 161.8h.01M317.4 163.9h.01M313.4 164.8h.01M345.5 165.8h.01M325.9 194.7h.01M332.3 159.0h.01M322.3 174.8h.01M327.7 169.5h.01M318.7 161.0h.01M329.7 168.7h.01M331.3 146.6h.01M345.4 142.5h.01M318.7 166.7h.01M301.3 166.7h.01M329.3 146.0h.01M341.6 165.1h.01M325.9 155.2h.01M352.2 166.7h.01M336.1 147.9h.01M319.2 150.1h.01M350.0 164.5h.01M342.9 174.6h.01M331.5 152.8h.01M329.9 181.0h.01M298.4 161.1h.01M345.7 158.3h.01M381.4 171.9h.01M351.9 146.6h.01M346.8 153.0h.01M338.3 160.1h.01M328.4 165.4h.01M368.2 170.4h.01M341.6 134.0h.01M358.0 170.9h.01M333.9 151.9h.01M350.0 147.8h.01M352.6 144.6h.01M320.3 158.0h.01M310.3 157.8h.01M347.7 141.7h.01M355.2 151.0h.01M348.1 160.5h.01M329.2 151.5h.01M305.7 149.4h.01M323.3 177.9h.01M356.9 141.2h.01M352.9 160.6h.01M330.7 163.5h.01M352.7 151.0h.01M332.7 159.9h.01M319.4 160.2h.01M336.4 149.6h.01M322.1 161.7h.01M354.3 162.0h.01M321.9 167.1h.01M341.1 165.2h.01M359.7 147.0h.01M335.3 150.7h.01M321.6 182.3h.01M355.5 136.5h.01M345.9 151.2h.01M359.4 159.0h.01M334.7 159.7h.01M345.1 158.3h.01M333.9 156.3h.01M347.5 144.3h.01M337.9 156.5h.01M328.9 166.9h.01M313.9 153.5h.01M322.1 164.6h.01M329.2 158.6h.01M345.2 138.6h.01M346.4 148.9h.01M333.2 156.6h.01M353.1 167.0h.01M371.0 160.1h.01M329.1 151.9h.01M350.2 177.5h.01M344.4 151.0h.01M343.1 161.1h.01M338.6 149.0h.01M298.0 151.5h.01M357.7 160.6h.01M298.0 158.1h.01M303.5 182.2h.01M341.6 143.4h.01M352.9 148.5h.01M348.5 158.3h.01M316.0 166.1h.01M313.0 174.3h.01M339.1 145.5h.01M304.1 177.6h.01M365.1 142.7h.01M368.8 160.0h.01M333.9 156.9h.01M333.0 175.4h.01M340.8 135.6h.01M377.1 168.7h.01M317.7 153.7h.01M321.1 158.6h.01M345.4 160.9h.01M326.8 148.3h.01M353.8 156.8h.01M380.0 148.2h.01M352.7 158.6h.01M323.8 174.5h.01M340.3 147.1h.01M332.0 170.4h.01M315.1 174.7h.01M350.8 154.6h.01M363.3 179.2h.01M349.2 160.1h.01M372.5 176.2h.01M320.7 155.5h.01M334.0 153.0h.01M310.0 169.0h.01M339.6 159.2h.01M364.4 151.1h.01M336.9 161.3h.01M329.9 156.6h.01M352.4 157.9h.01M363.0 148.8h.01M341.8 140.6h.01M335.8 149.4h.01M363.6 167.1h.01M347.6 180.5h.01M365.1 166.8h.01M325.0 140.3h.01M337.4 153.7h.01M325.8 154.4h.01M306.9 176.2h.01M316.5 149.8h.01M348.7 138.1h.01M355.4 169.5h.01M332.1 144.8h.01M329.1 135.3h.01M364.2 158.7h.01M324.1 146.9h.01M348.8 176.5h.01M313.9 150.9h.01M304.8 166.3h.01M341.0 185.8h.01M335.7 152.6h.01M324.6 168.5h.01M307.2 167.2h.01M342.7 151.8h.01M320.9 171.0h.01M373.3 152.5h.01M348.0 179.5h.01M326.3 154.9h.01M314.9 156.2h.01M336.5 152.8h.01M324.0 138.5h.01M312.5 145.9h.01M350.2 151.7h.01M321.8 166.1h.01M348.7 148.7h.01M326.1 166.2h.01M344.9 147.7h.01M342.6 157.6h.01M359.2 147.3h.01M354.8 163.3h.01M318.8 171.1h.01M355.3 141.7h.01M375.8 143.8h.01M320.5 154.0h.01M352.7 165.2h.01M336.2 175.0h.01M345.7 175.3h.01M391.9 160.4h.01M298.0 152.4h.01M317.4 159.1h.01M339.9 142.7h.01M315.9 154.7h.01M334.2 125.5h.01M356.7 158.4h.01M337.8 161.7h.01M318.3 157.4h.01M358.0 171.5h.01M346.9 154.5h.01M322.1 174.6h.01M348.1 152.7h.01M298.0 147.0h.01M300.6 173.7h.01M341.7 148.6h.01M332.6 190.8h.01M361.7 141.0h.01M335.4 142.4h.01M304.4 160.2h.01M385.2 177.8h.01M338.9 153.2h.01M341.9 171.2h.01M309.4 134.2h.01M374.9 161.6h.01M369.5 161.0h.01M367.0 150.2h.01M347.8 177.8h.01M358.1 152.1h.01M355.6 149.5h.01M309.9 164.7h.01M365.6 168.9h.01M313.2 169.2h.01M351.4 152.1h.01M298.0 171.1h.01M355.5 164.4h.01M303.7 138.8h.01M358.1 168.3h.01M347.8 154.8h.01M345.8 151.0h.01M331.8 146.8h.01M343.1 152.6h.01M356.9 167.3h.01M321.9 181.7h.01M315.7 163.8h.01M359.6 174.6h.01M298.0 171.0h.01M362.3 176.6h.01M298.0 149.2h.01M336.0 152.2h.01M364.7 149.2h.01M362.5 165.3h.01M309.0 145.1h.01M328.6 159.3h.01M357.8 155.6h.01M356.2 137.6h.01M298.0 153.6h.01M347.2 153.3h.01M317.8 163.5h.01M376.7 156.7h.01M323.5 147.0h.01M377.3 157.5h.01M350.2 173.9h.01M359.5 146.0h.01M357.1 169.0h.01M347.8 171.1h.01M326.8 157.0h.01M327.5 167.9h.01M324.9 163.1h.01M316.1 156.4h.01M330.8 156.5h.01M340.7 155.6h.01M333.6 131.1h.01M360.1 149.9h.01M333.1 147.2h.01M358.0 146.2h.01M348.1 173.3h.01M370.9 173.4h.01M350.4 142.4h.01M363.8 173.5h.01M354.8 168.5h.01M339.6 151.4h.01M359.7 174.6h.01M317.4 169.9h.01M343.0 169.6h.01M343.6 172.5h.01M358.6 169.6h.01M310.7 168.8h.01M339.2 143.6h.01M352.4 140.5h.01M356.1 180.1h.01M328.3 170.1h.01M347.3 166.6h.01M311.5 166.1h.01M341.0 167.8h.01M338.6 172.4h.01M343.9 167.1h.01M365.6 160.7h.01M358.2 161.3h.01M348.9 151.6h.01M353.9 174.1h.01M336.9 168.6h.01M347.1 144.2h.01M345.6 175.3h.01M329.0 135.5h.01M342.7 150.2h.01M376.1 157.9h.01M338.6 150.4h.01M343.6 151.2h.01M320.9 157.6h.01M322.7 175.3h.01M315.7 157.5h.01M325.2 140.8h.01M371.4 131.6h.01M367.3 140.4h.01M340.5 187.3h.01M298.0 140.9h.01M364.5 160.7h.01M328.0 158.0h.01M319.8 160.0h.01M368.0 153.6h.01M341.4 173.8h.01M377.7 151.0h.01M344.6 151.3h.01M326.1 153.4h.01M326.3 136.4h.01M299.7 149.2h.01M341.3 173.9h.01M328.3 156.3h.01M351.7 167.9h.01M336.5 157.8h.01M375.4 154.2h.01M329.1 137.8h.01M347.2 155.1h.01M376.1 154.2h.01M354.6 170.3h.01M371.0 141.8h.01M369.4 158.6h.01M336.7 154.5h.01M331.0 154.1h.01M298.0 164.9h.01M339.9 146.4h.01M337.5 187.7h.01M346.1 153.5h.01M372.2 148.3h.01M335.7 151.4h.01M334.1 167.7h.01M350.0 149.2h.01M336.2 159.5h.01M330.7 158.0h.01M324.6 149.1h.01M339.5 145.3h.01M346.8 156.0h.01M320.7 150.7h.01M329.3 156.4h.01M340.9 155.8h.01M321.7 176.5h.01M356.2 159.8h.01M357.1 162.5h.01M333.6 159.5h.01M390.4 170.9h.01M358.9 153.4h.01M350.3 186.9h.01M346.9 171.9h.01M363.0 166.5h.01M369.2 161.3h.01M348.2 150.5h.01M389.8 162.2h.01M340.7 175.9h.01M329.1 158.3h.01M323.4 158.7h.01M331.0 165.2h.01M336.1 150.8h.01M332.9 156.9h.01M328.6 170.2h.01M351.6 160.2h.01M315.5 164.9h.01M313.8 160.7h.01M339.5 150.9h.01M322.5 149.6h.01M378.3 155.0h.01M334.5 170.4h.01M346.6 171.6h.01M314.8 144.7h.01M402.9 157.8h.01M332.9 160.4h.01M357.7 143.4h.01M344.0 158.0h.01M351.5 160.5h.01M328.3 147.5h.01M298.0 170.6h.01M310.2 153.3h.01M370.6 153.1h.01M350.3 155.7h.01M352.0 158.7h.01M328.7 175.3h.01M333.4 141.6h.01M332.2 165.1h.01M317.1 168.2h.01M353.3 184.9h.01M326.2 166.6h.01M306.4 153.1h.01M340.5 163.4h.01M337.5 157.2h.01M326.7 152.8h.01M342.6 221.7h.01M346.8 229.4h.01M320.0 241.5h.01M335.7 202.6h.01M347.3 199.8h.01M336.2 231.9h.01M349.4 217.4h.01M334.2 206.6h.01M341.8 235.5h.01M340.8 241.5h.01M332.0 231.9h.01M337.2 193.0h.01M341.2 153.6h.01M338.0 237.0h.01M347.7 209.5h.01M346.7 213.6h.01M344.2 241.5h.01M342.0 236.2h.01M339.9 220.4h.01M347.6 216.2h.01M334.7 177.6h.01M329.2 229.7h.01M330.6 212.2h.01M345.5 224.8h.01M342.1 241.5h.01M339.7 198.1h.01M350.8 227.7h.01M340.8 165.4h.01M344.1 172.7h.01M342.0 224.8h.01M340.9 234.9h.01M340.6 199.8h.01M336.2 241.5h.01M325.7 215.3h.01M332.4 241.2h.01M333.0 197.6h.01M334.9 194.9h.01M344.8 241.5h.01M351.5 241.5h.01M341.9 194.1h.01M359.2 241.5h.01M323.7 182.2h.01M334.1 225.4h.01M340.9 191.8h.01M315.6 196.6h.01M338.4 214.1h.01M346.2 229.2h.01M335.0 218.8h.01M321.5 199.3h.01M346.8 204.5h.01M356.8 229.5h.01M320.2 211.1h.01M347.1 233.5h.01M321.8 187.8h.01M344.0 218.0h.01M334.0 188.8h.01M325.9 196.7h.01M338.5 184.3h.01M330.8 205.9h.01M353.9 154.7h.01M335.9 192.8h.01M340.8 188.4h.01M338.1 179.8h.01M345.9 210.1h.01M331.0 189.3h.01M357.1 209.0h.01M339.9 180.6h.01M340.1 199.3h.01M338.5 229.3h.01M339.8 220.3h.01M335.1 200.8h.01M333.7 176.3h.01M334.7 196.7h.01M340.7 231.1h.01M347.6 225.0h.01M341.2 159.6h.01M336.1 213.7h.01M342.3 184.3h.01M346.9 240.5h.01M343.2 212.2h.01M354.5 235.3h.01M338.4 241.5h.01M338.7 216.3h.01M332.3 219.3h.01M330.4 231.8h.01M340.4 195.8h.01M334.7 201.0h.01M344.6 166.5h.01M335.8 214.0h.01M339.0 224.7h.01M356.2 198.1h.01M346.3 203.8h.01M331.1 241.5h.01M329.2 216.2h.01M333.8 238.1h.01M349.6 188.9h.01M328.5 235.1h.01M338.9 241.2h.01M353.4 241.5h.01M334.5 201.3h.01M338.3 194.0h.01M344.0 215.1h.01M323.0 216.0h.01M350.5 195.5h.01M335.5 240.5h.01M335.4 210.9h.01M321.0 214.5h.01M330.7 234.5h.01M312.9 217.4h.01M349.8 219.4h.01M351.5 162.8h.01M330.0 224.8h.01M348.1 177.7h.01M342.7 220.0h.01M329.4 207.8h.01M327.9 234.0h.01M321.0 234.7h.01M323.1 192.8h.01M320.3 241.5h.01M343.3 187.9h.01M357.9 219.3h.01M342.9 241.5h.01M319.6 229.8h.01M333.9 193.8h.01M323.8 209.9h.01M328.9 192.6h.01M341.1 238.4h.01M334.4 206.4h.01M330.3 220.7h.01M320.5 207.9h.01M346.2 229.4h.01M341.6 222.3h.01M356.5 222.4h.01M324.3 218.7h.01M343.8 189.9h.01M344.4 238.5h.01M338.8 233.3h.01M330.2 179.8h.01M333.3 172.4h.01M337.9 182.6h.01M318.3 210.0h.01M344.3 230.8h.01M338.3 181.9h.01M334.2 230.4h.01M338.8 233.6h.01M338.7 238.6h.01M341.8 210.0h.01M339.3 231.9h.01M329.3 203.5h.01M331.4 205.2h.01M338.5 218.5h.01M336.9 211.8h.01M351.9 217.7h.01M331.3 241.5h.01M333.7 223.4h.01M334.5 211.4h.01M323.8 199.2h.01M338.8 156.8h.01M328.1 241.0h.01M333.1 225.3h.01M329.1 220.1h.01M335.8 208.2h.01M338.9 158.6h.01M312.9 210.4h.01M336.5 228.6h.01M340.3 218.3h.01M326.4 203.9h.01M332.7 203.2h.01M354.6 241.5h.01M332.8 202.2h.01M342.2 220.9h.01M327.1 197.4h.01M347.0 241.5h.01M319.7 177.3h.01M338.9 194.2h.01M333.4 226.1h.01M338.9 175.8h.01M336.7 227.4h.01M342.3 201.8h.01M325.8 212.0h.01M324.1 215.5h.01M341.3 235.8h.01M338.8 190.1h.01M315.9 241.5h.01M352.7 210.0h.01M335.1 177.1h.01M336.0 180.0h.01M320.9 157.2h.01M338.0 200.7h.01M340.8 222.1h.01M343.5 240.2h.01M327.1 230.6h.01M367.8 209.6h.01M344.8 241.5h.01M346.4 230.6h.01M355.9 203.8h.01M335.9 204.5h.01M316.3 241.5h.01M319.8 221.8h.01M335.8 197.9h.01M338.4 205.0h.01M335.7 195.2h.01M332.9 185.3h.01M343.2 180.5h.01M343.5 182.7h.01M333.7 203.5h.01M337.8 241.2h.01M341.6 168.5h.01M339.3 144.6h.01M322.9 203.8h.01M333.7 215.1h.01M332.4 241.5h.01M350.4 241.5h.01M328.6 198.8h.01M335.4 241.5h.01M334.2 217.1h.01M333.0 184.5h.01M321.5 190.5h.01M354.4 206.3h.01M336.1 241.5h.01M341.8 216.5h.01M339.9 241.5h.01M332.8 201.9h.01M362.6 240.3h.01M316.3 198.4h.01M335.9 232.6h.01M349.0 216.6h.01M323.5 214.9h.01M336.2 166.4h.01M339.6 185.6h.01M333.2 182.9h.01M333.1 178.2h.01M342.6 202.6h.01M334.9 241.5h.01M356.2 192.7h.01M342.8 222.0h.01M351.2 227.9h.01M343.5 237.5h.01M328.2 231.7h.01M335.7 198.8h.01M336.9 215.6h.01M337.0 220.8h.01M320.5 203.1h.01M342.6 233.4h.01M341.7 192.3h.01M337.5 222.8h.01M324.7 169.3h.01M352.9 199.0h.01M333.3 192.8h.01M331.8 186.8h.01M316.0 221.6h.01M343.4 145.4h.01M330.7 214.2h.01M346.4 236.6h.01M335.1 163.2h.01M330.1 239.9h.01M346.3 205.9h.01M324.8 207.0h.01M323.5 196.9h.01M319.5 226.7h.01M320.3 237.4h.01M322.1 214.5h.01M347.0 205.8h.01M349.8 240.3h.01M337.8 211.2h.01M342.9 218.9h.01M347.7 203.8h.01M348.2 221.2h.01M343.5 224.8h.01M332.6 195.9h.01M333.8 182.4h.01M345.1 209.1h.01M369.1 183.2h.01M349.3 210.4h.01M311.5 238.3h.01M351.5 207.1h.01M344.4 155.2h.01M332.1 191.4h.01M318.1 218.7h.01M330.3 218.0h.01M343.7 195.4h.01M340.2 241.5h.01M336.2 226.6h.01M339.3 196.0h.01M338.6 241.5h.01M334.4 234.7h.01M320.2 241.5h.01M342.1 227.3h.01M325.5 219.7h.01M334.3 186.0h.01M324.6 215.6h.01M342.3 187.7h.01M331.1 238.0h.01M329.4 196.4h.01M341.6 241.5h.01M346.7 211.6h.01M348.4 241.5h.01M335.8 178.9h.01M333.2 203.4h.01M332.7 183.9h.01M340.0 187.1h.01M322.5 214.2h.01M331.8 172.1h.01M341.6 228.7h.01M303.5 211.5h.01M329.2 201.2h.01M324.4 205.0h.01M329.9 202.6h.01M343.7 241.5h.01M336.1 208.4h.01M338.5 210.2h.01M336.4 203.3h.01M344.9 237.7h.01M350.0 220.5h.01M326.8 218.4h.01M329.6 171.0h.01M340.6 211.5h.01M330.8 239.0h.01M344.3 193.6h.01M331.8 241.4h.01M350.4 221.2h.01M336.0 220.8h.01M349.9 163.0h.01M337.9 228.5h.01M324.1 201.8h.01M335.5 210.6h.01M324.4 239.5h.01M337.0 241.5h.01M326.9 241.5h.01M348.8 221.4h.01M321.9 215.8h.01M342.0 205.1h.01M322.1 179.4h.01M327.1 218.7h.01M324.8 229.4h.01M328.8 168.9h.01M327.9 241.5h.01M339.1 212.9h.01M347.5 190.2h.01M341.1 217.3h.01M319.1 172.6h.01M334.7 146.8h.01M343.9 207.6h.01M334.1 241.5h.01M341.1 206.6h.01M328.4 241.5h.01M334.2 228.1h.01M344.8 205.1h.01M325.9 194.1h.01M336.4 229.1h.01M335.3 206.8h.01M332.9 225.1h.01M340.8 231.5h.01M349.3 241.5h.01M334.6 233.7h.01M330.7 216.0h.01M334.4 241.5h.01M350.3 226.5h.01M328.4 180.4h.01M326.7 203.7h.01M331.5 182.7h.01M343.9 241.5h.01M337.0 214.0h.01M343.6 173.3h.01M325.8 223.5h.01M334.8 218.2h.01M326.8 200.8h.01M327.3 197.0h.01M340.3 224.3h.01M334.9 221.0h.01M357.1 203.5h.01M348.7 168.6h.01M337.4 221.8h.01M334.5 201.1h.01M322.8 184.8h.01M320.1 210.6h.01M347.9 233.4h.01M321.2 130.7h.01M338.8 219.8h.01M340.9 216.0h.01M345.4 231.2h.01M337.0 241.5h.01M320.5 234.1h.01M324.5 210.2h.01M360.1 241.5h.01M323.7 226.4h.01M337.0 210.7h.01M347.6 218.1h.01M310.3 236.3h.01M331.8 241.5h.01M350.9 200.0h.01M323.1 207.0h.01M337.3 181.6h.01M351.8 235.2h.01M332.1 209.3h.01M332.2 241.5h.01M339.1 241.5h.01M334.4 219.1h.01M332.1 220.6h.01M335.4 197.2h.01M339.8 197.8h.01M334.1 215.5h.01M334.5 208.7h.01M336.7 241.5h.01M333.8 199.2h.01M334.8 229.3h.01M334.2 209.8h.01M340.7 217.4h.01M320.4 224.1h.01M310.5 187.8h.01M347.8 232.7h.01M338.2 241.5h.01M336.4 241.0h.01M321.4 210.5h.01M330.8 194.7h.01M353.3 235.5h.01M340.5 202.2h.01M329.0 220.0h.01M329.2 172.1h.01M333.6 179.0h.01M334.9 210.0h.01M341.6 209.4h.01M345.6 191.1h.01M337.4 173.3h.01M328.8 222.7h.01M343.1 175.1h.01M344.5 197.2h.01M336.7 231.8h.01M346.6 213.3h.01M327.4 222.4h.01M342.3 217.4h.01M338.6 218.2h.01M335.5 209.8h.01M322.5 191.0h.01M330.4 240.3h.01M321.8 218.7h.01M328.5 217.1h.01M326.6 241.5h.01M346.1 190.3h.01M315.8 240.5h.01M345.5 219.4h.01M343.5 184.1h.01M326.8 200.7h.01M332.1 205.0h.01M359.0 180.1h.01M329.3 202.5h.01M336.0 233.7h.01M334.1 241.5h.01M337.6 221.7h.01M334.6 217.3h.01M353.4 210.8h.01M331.3 197.1h.01M342.4 205.1h.01M346.0 222.9h.01M339.3 181.4h.01M333.9 209.1h.01M317.2 217.2h.01M338.1 219.8h.01M335.8 179.3h.01M332.9 241.5h.01M334.5 227.4h.01M327.6 194.0h.01M349.6 203.9h.01M329.7 232.7h.01M335.4 237.1h.01M341.0 196.9h.01M321.2 191.6h.01M318.6 241.5h.01M321.6 226.2h.01M334.8 212.6h.01M315.1 202.9h.01M336.4 210.7h.01M336.1 192.0h.01M329.6 236.9h.01M325.4 219.4h.01M343.1 222.4h.01M345.7 241.5h.01M350.7 223.6h.01M347.3 189.8h.01M330.6 200.5h.01M339.1 239.4h.01M322.5 241.5h.01M331.6 219.9h.01M318.0 207.0h.01M338.8 235.6h.01M323.5 190.2h.01M350.6 192.9h.01M333.5 211.1h.01M336.9 225.2h.01M344.1 219.0h.01M345.5 221.4h.01M337.5 185.4h.01M337.9 205.3h.01M330.6 212.7h.01M346.2 205.5h.01M324.7 200.7h.01M346.4 227.7h.01M338.2 207.4h.01M334.9 194.1h.01M344.8 239.9h.01M334.2 217.3h.01M340.0 175.5h.01M347.3 224.7h.01M340.7 241.5h.01M326.0 236.4h.01M345.5 241.5h.01M343.6 241.5h.01M351.5 224.6h.01M343.3 198.4h.01M329.3 239.5h.01M341.3 187.0h.01M343.0 217.0h.01M329.6 229.2h.01M348.1 222.1h.01M334.3 205.9h.01M345.1 187.8h.01M323.7 241.5h.01M345.9 232.1h.01M333.5 201.2h.01M329.5 189.8h.01M343.5 218.2h.01M345.5 217.1h.01M325.8 219.1h.01M348.7 241.5h.01M354.4 197.8h.01M338.5 225.4h.01M312.8 241.5h.01M344.1 176.9h.01M328.0 208.7h.01M342.0 241.5h.01M330.8 184.7h.01M354.6 234.3h.01M339.7 167.7h.01M320.2 205.7h.01M321.6 210.7h.01M353.0 202.1h.01M344.9 226.7h.01M340.7 228.7h.01M325.9 237.5h.01M345.6 206.3h.01M333.0 197.7h.01M352.3 241.5h.01M329.4 200.6h.01M340.0 228.5h.01M343.2 199.1h.01M338.2 227.8h.01M350.6 241.5h.01M347.4 234.0h.01M348.1 241.5h.01M340.5 198.1h.01M331.9 216.7h.01M339.9 221.1h.01M332.7 213.7h.01M321.8 234.4h.01M337.5 234.3h.01M314.2 221.4h.01M320.5 241.5h.01M343.7 194.7h.01M333.4 200.8h.01M333.2 162.6h.01M344.1 220.0h.01M339.6 208.3h.01M330.8 225.3h.01M356.6 197.4h.01M349.5 195.1h.01M351.9 216.7h.01M342.5 200.1h.01M335.2 222.8h.01M329.9 222.4h.01M333.5 213.2h.01M336.6 233.0h.01M333.8 182.3h.01M328.6 212.8h.01M341.4 241.5h.01M330.0 234.9h.01M347.3 205.7h.01M341.1 181.4h.01M332.5 217.2h.01M326.9 217.2h.01M325.5 220.4h.01M351.2 185.0h.01M316.7 198.6h.01M329.9 238.0h.01M336.9 132.1h.01M340.9 236.9h.01M336.2 241.5h.01M327.6 229.2h.01M352.5 219.0h.01M339.1 227.0h.01M333.8 168.5h.01M345.1 184.7h.01M341.0 197.7h.01M356.0 191.5h.01M338.8 187.4h.01M339.6 241.5h.01M343.5 194.5h.01M346.0 238.5h.01M339.6 168.6h.01M356.2 164.9h.01M332.9 216.8h.01M342.3 231.0h.01M353.5 187.1h.01M320.1 209.4h.01M352.6 241.5h.01M342.9 241.5h.01M346.7 194.0h.01M345.5 241.5h.01M329.8 241.5h.01M346.8 239.4h.01M321.4 179.8h.01M338.3 198.1h.01M335.3 226.0h.01M336.4 213.7h.01M343.3 217.3h.01M337.0 227.0h.01M333.1 221.4h.01M332.5 234.2h.01M337.3 241.5h.01M330.0 221.8h.01M339.2 207.1h.01M331.4 215.7h.01M337.9 187.6h.01M343.0 218.9h.01M334.4 241.5h.01M336.1 167.8h.01M324.8 171.3h.01M343.2 239.8h.01M331.2 199.9h.01M320.1 213.2h.01M334.1 226.8h.01M327.0 241.5h.01M330.8 239.3h.01M327.8 239.7h.01M333.2 232.8h.01M336.1 195.6h.01M341.6 226.7h.01M345.7 241.5h.01M333.6 152.4h.01M333.7 167.7h.01M324.2 230.2h.01M339.0 187.1h.01M353.3 208.5h.01M342.9 223.1h.01M332.6 241.5h.01M327.7 215.3h.01M347.9 221.5h.01M337.2 241.5h.01M329.9 198.4h.01M338.8 182.0h.01M313.9 241.5h.01M351.6 163.3h.01M340.9 176.9h.01M345.4 185.3h.01M339.3 234.2h.01M338.1 235.2h.01M355.8 229.0h.01M331.1 241.5h.01M335.3 196.3h.01M338.4 210.1h.01M344.2 201.1h.01M341.3 216.5h.01M343.8 215.8h.01M353.5 186.9h.01M342.2 223.9h.01M348.5 230.3h.01M340.1 233.3h.01M321.3 211.3h.01M334.6 220.9h.01M361.8 208.2h.01M338.3 171.2h.01M347.3 241.5h.01M325.1 241.5h.01M343.9 192.8h.01M354.9 208.7h.01M339.7 221.3h.01M335.1 226.5h.01M331.1 218.8h.01M333.0 215.0h.01M323.7 222.1h.01M342.4 180.2h.01M328.2 221.4h.01M327.4 210.6h.01M322.2 241.5h.01M329.6 241.5h.01M335.2 226.2h.01M347.2 206.9h.01M335.0 235.6h.01M358.6 194.3h.01M339.3 241.5h.01M340.8 209.0h.01M349.8 218.1h.01M338.1 193.0h.01M351.0 197.3h.01M337.0 241.5h.01M352.0 229.1h.01M328.6 209.0h.01M343.0 241.1h.01M352.5 211.2h.01M320.1 221.8h.01M337.3 224.5h.01M337.7 241.5h.01M342.3 211.2h.01M323.8 222.1h.01M334.6 219.1h.01M361.9 241.5h.01M328.3 189.4h.01M331.4 196.0h.01M338.5 199.6h.01M324.9 241.5h.01M319.5 179.3h.01M351.2 241.5h.01M321.6 179.4h.01M348.9 219.4h.01M339.9 240.6h.01M341.2 232.6h.01M357.0 202.9h.01M326.8 216.2h.01M322.5 205.0h.01M348.9 216.7h.01M349.2 185.9h.01M341.7 241.5h.01M329.4 188.5h.01M325.1 208.2h.01M335.3 186.3h.01M344.0 211.9h.01M356.7 187.5h.01M346.9 241.5h.01M355.4 200.6h.01M356.1 208.0h.01M329.0 241.5h.01M356.7 205.4h.01M336.4 240.3h.01M339.9 221.2h.01M335.9 197.7h.01M333.7 200.4h.01M328.4 227.5h.01M339.1 233.7h.01M346.9 234.6h.01M344.2 241.5h.01M336.2 233.3h.01M328.9 230.0h.01M345.5 210.4h.01M342.4 215.0h.01M351.7 190.9h.01M341.9 202.4h.01M347.3 215.7h.01M327.9 207.1h.01M334.9 170.6h.01M343.3 187.6h.01M315.6 241.5h.01M341.0 185.3h.01M341.0 241.5h.01M343.0 224.1h.01M354.4 230.1h.01M325.5 231.0h.01M340.1 204.9h.01M335.3 196.7h.01M330.9 203.6h.01M334.0 233.0h.01M330.8 189.9h.01M359.2 217.2h.01M352.9 222.5h.01M316.4 228.2h.01M329.4 225.4h.01M327.1 183.6h.01M322.1 241.5h.01M349.6 201.3h.01M320.7 232.3h.01M332.7 213.6h.01M345.5 211.5h.01M334.7 202.3h.01M319.4 241.5h.01M342.7 207.2h.01M331.6 186.1h.01M339.5 184.5h.01M345.8 201.1h.01M338.4 240.9h.01M340.5 207.0h.01M325.7 217.6h.01M340.2 241.5h.01M324.2 235.3h.01M359.1 237.4h.01M323.3 231.1h.01M337.3 217.1h.01M335.5 221.4h.01M333.2 228.1h.01M330.9 221.7h.01M347.9 218.5h.01M344.6 204.3h.01M334.1 194.6h.01M350.5 210.4h.01M350.2 197.6h.01M336.3 180.6h.01M344.9 238.2h.01M325.5 191.6h.01M325.1 237.3h.01M332.6 230.1h.01M361.2 215.8h.01M346.3 241.5h.01M341.1 182.7h.01M336.8 217.3h.01M320.5 241.5h.01M339.1 223.7h.01M355.3 197.8h.01M338.1 185.3h.01M315.7 217.9h.01M328.0 181.3h.01M347.4 235.1h.01M340.2 230.4h.01M340.0 162.6h.01M349.7 203.5h.01M360.4 241.5h.01M346.1 233.2h.01M338.6 190.9h.01M346.9 185.9h.01M335.6 186.9h.01M333.0 196.0h.01M332.1 227.0h.01M327.6 221.2h.01M331.2 241.5h.01M359.4 240.5h.01M327.7 156.6h.01M349.6 210.8h.01M341.6 204.0h.01M343.5 198.0h.01M346.2 186.2h.01M318.5 142.9h.01M339.5 241.5h.01M360.1 193.9h.01M349.2 241.4h.01M344.1 205.4h.01M320.9 228.1h.01M335.8 230.2h.01M351.0 241.5h.01M331.6 200.0h.01M344.4 220.4h.01M336.5 205.7h.01M342.0 230.6h.01M340.1 241.5h.01M319.7 194.0h.01M334.3 235.5h.01M334.7 207.1h.01M333.7 177.1h.01M333.6 151.8h.01M356.5 193.7h.01M335.5 226.6h.01M345.1 219.6h.01M335.3 197.0h.01M363.1 206.9h.01M317.5 217.4h.01M364.2 235.2h.01M373.3 192.1h.01M347.9 214.0h.01M334.9 201.7h.01M326.8 185.2h.01M349.4 162.7h.01M341.4 187.2h.01M331.0 223.7h.01M336.7 216.7h.01M338.1 203.3h.01M327.1 216.8h.01M328.9 183.5h.01M351.9 218.5h.01M340.8 241.5h.01M338.9 238.9h.01M338.9 241.5h.01M334.7 225.2h.01M357.2 215.3h.01M337.6 185.8h.01M347.5 200.8h.01M334.4 241.5h.01M343.9 146.7h.01M320.2 230.7h.01M336.9 209.4h.01M344.5 158.0h.01M340.0 226.3h.01M330.2 189.0h.01M342.5 199.6h.01M352.7 190.9h.01M315.0 224.7h.01M339.2 241.5h.01M338.6 201.6h.01M339.5 169.8h.01M326.9 154.0h.01M350.6 241.5h.01M327.5 206.7h.01M337.0 238.4h.01M344.0 220.5h.01M345.7 188.3h.01M352.7 162.4h.01M330.9 176.0h.01M345.0 198.4h.01M341.2 233.7h.01M342.3 228.6h.01M317.5 213.2h.01M313.5 157.4h.01M335.0 213.8h.01M339.7 211.5h.01M327.0 209.1h.01M317.6 177.4h.01M346.8 241.5h.01M334.5 181.0h.01M354.0 225.9h.01M339.2 199.8h.01M319.2 241.5h.01M336.9 196.5h.01M359.4 196.8h.01M339.4 236.6h.01M346.4 190.7h.01M331.9 230.7h.01M322.0 203.9h.01M346.4 212.8h.01M343.4 239.8h.01M331.2 235.4h.01M349.9 202.9h.01M329.0 226.0h.01M346.0 227.3h.01M338.4 232.4h.01M341.5 201.8h.01M338.8 241.5h.01M340.8 197.9h.01M339.7 183.8h.01M347.3 207.1h.01M348.2 217.2h.01M335.0 241.5h.01M342.0 193.7h.01M338.7 212.4h.01M343.0 199.5h.01M314.7 216.3h.01M340.7 208.7h.01M331.2 241.5h.01M349.2 194.5h.01M338.3 199.3h.01M344.9 226.4h.01M325.7 214.7h.01M332.7 239.8h.01M358.1 201.5h.01M326.2 236.5h.01M334.7 202.5h.01M317.3 195.8h.01M345.3 234.5h.01M333.0 220.6h.01M343.8 219.8h.01M333.8 188.5h.01M344.4 200.5h.01M323.7 221.0h.01M355.5 199.1h.01M338.8 190.3h.01M350.1 198.8h.01M332.7 212.8h.01M334.6 185.2h.01M344.1 235.0h.01M353.3 181.5h.01M326.2 208.3h.01M330.7 217.6h.01M330.6 200.0h.01M332.0 212.1h.01M342.5 171.8h.01M349.5 201.4h.01M343.5 227.6h.01M350.5 218.8h.01M326.8 206.2h.01M309.0 222.9h.01M339.3 205.1h.01M350.1 203.9h.01M338.3 231.7h.01M348.4 204.3h.01M332.8 197.4h.01M343.3 232.8h.01M334.9 241.5h.01M343.9 167.6h.01M335.4 241.5h.01M355.5 241.5h.01M332.1 197.7h.01M342.7 183.1h.01M343.3 232.0h.01M329.2 183.6h.01M320.4 178.7h.01M320.7 180.8h.01M341.4 209.6h.01M336.8 229.6h.01M336.9 197.5h.01M334.0 228.2h.01M333.9 215.4h.01M337.4 201.1h.01M347.9 186.4h.01M341.8 175.4h.01M352.6 180.3h.01M328.6 235.5h.01M325.4 202.9h.01M341.2 212.6h.01M322.9 241.5h.01M331.0 241.5h.01M346.1 220.8h.01M341.4 227.4h.01M336.9 209.1h.01M349.3 217.8h.01M331.9 177.7h.01M327.1 183.2h.01M348.3 194.3h.01M350.9 241.5h.01M337.8 184.7h.01M341.6 186.0h.01M343.0 241.5h.01M335.5 235.5h.01M316.6 165.4h.01M342.9 211.6h.01M333.4 241.5h.01M339.6 215.8h.01M336.3 240.2h.01M348.1 187.0h.01M340.9 224.1h.01M336.9 182.6h.01M316.4 171.6h.01M332.5 208.1h.01M351.8 228.0h.01M355.4 213.1h.01M344.8 199.5h.01M338.3 182.7h.01M334.8 206.2h.01M317.6 228.5h.01M328.7 216.8h.01M341.0 216.9h.01M333.2 204.8h.01M342.6 185.6h.01M341.6 197.4h.01M351.0 178.9h.01M348.9 188.8h.01M342.6 203.0h.01M344.0 210.5h.01M350.0 214.1h.01M344.0 230.5h.01M329.8 241.5h.01M337.7 241.5h.01M341.9 177.6h.01M354.3 209.0h.01M337.5 201.9h.01M317.5 219.8h.01M326.8 226.5h.01M354.1 241.5h.01M320.7 213.8h.01M338.8 218.5h.01M334.0 231.7h.01M335.5 184.7h.01M355.2 191.2h.01M330.3 196.6h.01M324.3 212.8h.01M335.6 203.0h.01M334.4 202.0h.01M341.4 241.5h.01M332.6 181.1h.01M330.3 232.4h.01M336.7 216.0h.01M335.2 227.0h.01M328.2 210.5h.01M327.5 222.8h.01M336.8 241.5h.01M345.1 208.5h.01M337.9 211.9h.01M329.6 212.7h.01M329.8 191.3h.01M330.6 241.5h.01M332.4 204.0h.01M357.3 231.2h.01M342.6 191.3h.01M333.9 216.9h.01M324.0 226.4h.01M339.3 234.5h.01M353.3 189.5h.01M348.9 234.9h.01M334.2 178.2h.01M343.4 201.2h.01M317.5 241.5h.01M335.7 214.5h.01M336.6 238.5h.01M335.0 182.8h.01M329.0 188.6h.01M332.1 215.0h.01M321.5 220.9h.01M349.9 241.5h.01M323.8 231.6h.01M328.2 161.0h.01M359.8 208.3h.01M331.6 241.5h.01M349.5 241.5h.01M349.4 214.4h.01M330.3 222.1h.01M335.7 185.2h.01M323.1 238.5h.01M342.6 174.5h.01M355.6 147.3h.01M344.5 203.2h.01M322.2 241.5h.01M359.9 188.2h.01M335.7 207.0h.01M347.8 219.6h.01M338.1 241.5h.01M336.6 205.8h.01M350.4 221.4h.01M355.6 217.3h.01M342.4 192.9h.01M350.2 241.5h.01M328.0 222.2h.01M335.4 196.5h.01M334.5 221.6h.01M329.5 178.3h.01M345.5 226.7h.01M333.3 179.7h.01M331.2 172.9h.01M337.7 241.5h.01M331.0 205.5h.01M318.0 184.3h.01M334.2 213.0h.01M320.3 241.5h.01M350.7 224.7h.01M343.7 166.0h.01M342.3 174.5h.01M337.0 241.5h.01M329.9 221.0h.01M348.6 221.1h.01M335.6 209.5h.01M345.4 223.6h.01M337.6 173.8h.01M342.1 197.2h.01M340.2 239.4h.01M326.9 241.5h.01M326.9 204.0h.01M338.0 215.5h.01M324.6 209.1h.01M332.5 212.1h.01M334.2 228.9h.01M339.4 241.5h.01M335.2 168.4h.01M346.9 178.9h.01M336.7 241.5h.01M322.2 224.9h.01M331.3 158.8h.01M321.5 207.8h.01M340.2 216.3h.01M352.9 229.8h.01M333.3 233.9h.01M343.2 216.6h.01M350.6 188.4h.01M334.7 236.2h.01M376.0 198.4h.01M346.6 234.7h.01M347.1 241.5h.01M344.2 219.2h.01M344.4 191.7h.01M341.4 176.3h.01M321.1 227.8h.01M325.3 241.5h.01M331.7 239.8h.01M330.3 221.8h.01M347.7 241.5h.01M345.1 241.5h.01M338.7 231.4h.01M343.4 208.5h.01M335.6 218.3h.01M334.0 180.6h.01M332.4 229.3h.01M335.7 223.0h.01M327.9 189.1h.01M334.2 196.3h.01M348.7 208.1h.01M316.3 187.8h.01M332.6 231.4h.01M363.4 211.6h.01M343.3 241.5h.01M338.5 237.9h.01M331.0 238.2h.01M332.5 197.1h.01M353.2 241.5h.01M349.2 199.8h.01M348.3 210.8h.01M347.1 206.9h.01M334.4 212.0h.01M338.9 214.2h.01M323.3 200.5h.01M333.3 241.5h.01M314.1 170.0h.01M331.1 145.8h.01M320.6 241.5h.01M318.5 206.9h.01M341.1 241.5h.01M351.2 222.8h.01M348.0 241.5h.01M323.8 200.6h.01M319.4 189.2h.01M335.4 241.5h.01M339.4 218.1h.01M331.6 241.5h.01M340.5 241.5h.01M317.7 211.2h.01M329.8 237.7h.01M339.7 203.6h.01M349.0 217.3h.01M339.1 198.4h.01M337.7 221.9h.01M334.8 231.8h.01M330.1 241.5h.01M337.0 179.5h.01M332.1 241.5h.01M333.9 199.5h.01M335.6 219.1h.01M319.7 222.7h.01M343.4 241.5h.01M351.6 193.8h.01M352.6 226.1h.01M354.5 186.0h.01M316.2 216.2h.01M334.3 233.6h.01M335.2 190.0h.01M343.4 167.0h.01M334.6 209.7h.01M337.8 241.5h.01M327.6 198.7h.01M348.4 213.5h.01M326.7 200.7h.01M338.0 237.8h.01M358.9 214.4h.01M339.5 185.0h.01M334.3 171.1h.01M349.0 229.5h.01M346.0 183.6h.01M336.2 234.4h.01M337.4 241.5h.01M341.8 193.2h.01M353.5 169.0h.01M333.3 239.4h.01M342.9 230.2h.01M331.1 241.5h.01M316.5 183.1h.01M321.3 207.7h.01M341.6 210.7h.01M327.7 204.1h.01M335.4 241.5h.01M347.2 220.7h.01M327.9 182.8h.01M335.8 241.5h.01M334.8 189.2h.01M324.8 200.8h.01M337.2 204.9h.01M343.0 214.6h.01M322.0 172.2h.01M332.9 234.5h.01M340.5 241.5h.01M342.9 180.1h.01M340.1 190.0h.01M359.2 241.5h.01M344.6 213.3h.01M345.6 222.4h.01M333.4 152.0h.01M342.2 222.2h.01M345.9 196.4h.01M338.1 241.5h.01M333.7 209.4h.01M349.5 218.4h.01M332.6 241.5h.01M329.3 192.1h.01M339.7 239.3h.01M342.4 222.4h.01M336.2 224.3h.01M331.1 189.3h.01M341.4 218.0h.01M333.2 205.9h.01M332.6 241.5h.01M334.2 220.5h.01M321.9 193.8h.01M329.0 201.8h.01M325.6 235.9h.01M344.1 204.9h.01M342.5 212.2h.01M320.4 235.5h.01M327.6 204.9h.01M336.2 241.5h.01M354.8 227.2h.01M338.2 206.3h.01M334.7 225.0h.01M345.8 241.5h.01M337.9 239.6h.01M333.8 206.6h.01M320.7 206.1h.01M345.7 223.9h.01M332.4 214.7h.01M339.7 215.9h.01M355.7 223.0h.01M341.1 194.0h.01M338.2 231.8h.01M327.0 209.2h.01M344.6 200.5h.01M330.7 241.5h.01M342.7 226.4h.01M339.9 239.5h.01M346.5 225.7h.01M337.9 186.6h.01M317.4 172.0h.01M321.8 194.9h.01M347.4 227.2h.01M336.0 207.5h.01M334.7 209.2h.01M340.9 218.2h.01M329.4 203.7h.01M345.5 202.3h.01M352.0 204.7h.01M351.2 209.0h.01M330.4 185.9h.01M342.3 226.4h.01M357.9 211.1h.01M340.3 216.6h.01M354.0 201.1h.01M341.5 235.6h.01M341.0 175.3h.01M341.3 203.6h.01M329.8 236.9h.01M346.2 220.1h.01M334.0 218.7h.01M330.6 189.2h.01M347.3 184.2h.01M325.1 217.3h.01M324.4 214.7h.01M349.5 135.6h.01M322.5 241.5h.01M339.4 197.5h.01M328.7 205.5h.01M334.9 202.4h.01M339.4 201.4h.01M329.7 209.2h.01M320.6 215.3h.01M319.9 241.5h.01M340.7 212.7h.01M339.9 224.7h.01M326.0 241.5h.01M338.8 213.0h.01M331.3 202.8h.01M330.1 241.5h.01M334.5 203.2h.01M338.9 209.6h.01M341.0 209.7h.01M342.1 217.9h.01M328.8 241.5h.01M332.8 241.5h.01M338.9 230.6h.01M317.7 207.5h.01M329.7 241.5h.01M347.9 195.7h.01M356.2 216.4h.01M344.3 241.5h.01M344.8 220.6h.01M338.9 183.0h.01M332.5 218.1h.01M322.7 220.6h.01M350.1 236.1h.01M338.7 183.6h.01M341.4 241.5h.01M327.4 189.9h.01M355.5 234.9h.01M337.6 188.6h.01M334.4 196.0h.01M336.8 221.9h.01M358.1 198.1h.01M335.4 210.7h.01M337.3 240.9h.01M346.6 209.7h.01M344.6 189.8h.01M343.8 239.0h.01M337.1 210.2h.01M335.9 173.6h.01M345.8 221.4h.01M333.3 217.8h.01M336.7 194.5h.01M349.2 217.7h.01M332.2 214.7h.01M332.4 211.9h.01M315.3 208.9h.01M325.4 176.6h.01M336.4 225.5h.01M348.7 217.9h.01M348.5 189.7h.01M330.1 223.6h.01M323.1 241.5h.01M335.1 187.7h.01M335.3 224.0h.01M334.2 163.7h.01M362.3 212.4h.01M338.4 241.5h.01M340.6 188.5h.01M339.2 186.7h.01M333.2 223.1h.01M333.9 220.3h.01M352.3 200.9h.01M334.1 228.2h.01M338.9 196.2h.01M345.6 227.8h.01M341.7 241.5h.01M357.2 187.9h.01M345.4 241.5h.01M322.5 241.5h.01M332.1 205.5h.01M325.5 241.5h.01M352.1 206.7h.01M333.3 229.7h.01M324.0 241.5h.01M334.9 225.1h.01M334.4 226.4h.01M339.2 194.5h.01M342.4 183.2h.01M346.2 206.8h.01M330.5 203.7h.01M349.3 223.8h.01M338.3 165.3h.01M323.1 229.1h.01M343.5 193.5h.01M330.8 194.7h.01M327.8 241.5h.01M314.3 193.8h.01M325.0 188.4h.01M349.1 241.5h.01M356.5 184.3h.01M335.3 232.5h.01M340.9 233.4h.01M319.8 196.1h.01M337.0 192.7h.01M329.8 205.8h.01M326.6 237.3h.01M332.3 235.3h.01M326.0 216.8h.01M329.4 214.0h.01M336.9 172.9h.01M345.3 213.0h.01M327.1 220.9h.01M312.6 199.7h.01M349.9 187.7h.01M344.6 241.5h.01M342.9 221.3h.01M320.0 225.7h.01M348.8 193.5h.01M339.4 241.5h.01M333.3 206.8h.01M327.9 201.3h.01M338.5 168.5h.01M334.9 203.4h.01M342.9 241.5h.01M342.8 197.5h.01M347.4 178.5h.01M335.1 220.4h.01M351.4 227.7h.01M327.3 203.1h.01M337.2 241.5h.01M330.4 241.5h.01M330.7 223.1h.01M334.3 229.2h.01M352.4 198.2h.01M317.0 222.2h.01M328.0 208.5h.01M331.3 185.2h.01M337.4 202.7h.01M318.6 195.2h.01M345.7 201.3h.01M343.2 181.6h.01M332.6 225.0h.01M329.6 221.4h.01M326.9 204.5h.01M350.6 225.1h.01M348.9 197.9h.01M328.2 163.2h.01M354.1 189.9h.01M344.8 200.0h.01M338.1 165.2h.01M336.6 227.5h.01M338.8 149.1h.01M350.1 233.4h.01M320.2 223.5h.01M346.0 209.0h.01M342.6 194.5h.01M337.9 202.6h.01M329.9 232.1h.01M338.5 241.5h.01M329.6 222.2h.01M334.3 215.5h.01M321.7 179.1h.01M336.1 220.9h.01M315.6 151.0h.01M336.3 206.6h.01M324.6 228.6h.01M333.9 228.2h.01M335.6 201.8h.01M342.6 237.6h.01M330.1 235.3h.01M325.4 207.2h.01M333.0 200.7h.01M344.1 202.8h.01M344.6 224.2h.01M347.7 217.1h.01M346.7 216.7h.01M344.4 226.1h.01M324.6 212.4h.01M356.6 179.3h.01M341.4 223.3h.01M332.4 210.0h.01M325.8 241.5h.01M336.5 212.5h.01M324.3 186.9h.01M333.6 197.1h.01M345.1 202.3h.01M341.0 185.7h.01M345.9 241.5h.01M307.5 186.7h.01M342.0 234.3h.01M349.8 199.9h.01M338.1 204.3h.01M340.2 189.1h.01M332.0 203.7h.01M339.1 239.9h.01M343.9 178.1h.01M328.7 234.1h.01M337.5 204.6h.01M338.2 208.0h.01M332.1 229.6h.01M329.9 241.5h.01M356.7 201.1h.01M337.4 241.5h.01M326.3 209.5h.01M338.7 241.4h.01M341.1 193.7h.01M343.9 241.5h.01M348.6 241.5h.01M336.7 224.6h.01M349.2 227.2h.01M347.5 234.6h.01M344.7 219.3h.01M335.3 241.5h.01M354.3 182.9h.01M332.6 228.0h.01M334.5 219.6h.01M335.2 173.1h.01M339.0 179.8h.01M348.3 211.4h.01M340.7 211.1h.01M333.2 206.8h.01M346.9 180.5h.01M331.2 218.1h.01M332.9 219.0h.01M339.5 196.6h.01M334.3 241.5h.01M330.9 179.8h.01M328.9 241.5h.01M334.6 241.5h.01M335.9 231.8h.01M332.9 176.1h.01M335.7 241.5h.01M333.6 227.6h.01M340.2 210.8h.01M359.2 225.4h.01M335.2 213.6h.01M323.9 198.1h.01M343.6 175.4h.01M351.1 169.4h.01M334.1 234.6h.01M337.3 186.3h.01M348.3 214.6h.01M333.2 196.3h.01M334.3 212.8h.01M319.9 199.1h.01M330.3 174.7h.01M347.0 208.7h.01M354.2 241.5h.01M355.8 223.6h.01M331.8 211.3h.01M326.4 241.5h.01M334.4 204.1h.01M331.1 241.5h.01M333.0 232.8h.01M339.4 184.7h.01M325.5 218.1h.01M329.1 193.3h.01M341.7 237.2h.01M341.9 219.8h.01M341.8 202.7h.01M323.7 199.6h.01M339.2 197.3h.01M347.6 216.3h.01M334.9 173.6h.01M327.4 223.6h.01M333.0 220.1h.01M348.3 187.0h.01M347.1 180.8h.01M327.7 204.2h.01M329.7 192.9h.01M339.8 193.8h.01M349.5 169.3h.01M350.9 234.2h.01M313.9 190.6h.01M335.4 199.2h.01M331.9 221.5h.01M338.6 212.2h.01M355.1 177.0h.01M339.7 187.3h.01M329.3 240.1h.01M353.4 214.3h.01M342.9 199.5h.01M329.8 213.2h.01M322.5 223.5h.01M341.6 201.2h.01M334.1 212.6h.01M326.5 177.6h.01M340.6 235.4h.01M317.9 214.6h.01M333.2 191.6h.01M326.9 240.4h.01M321.4 237.6h.01M310.3 235.2h.01M309.2 210.8h.01M335.4 222.2h.01M314.3 183.6h.01M302.4 195.7h.01M312.4 184.2h.01M348.4 225.1h.01M321.6 195.7h.01M317.9 211.5h.01M339.6 199.7h.01M324.9 211.9h.01M349.8 192.6h.01M328.2 191.7h.01M316.7 181.6h.01M319.9 208.6h.01M327.3 219.2h.01M298.0 173.2h.01M316.9 230.2h.01M326.5 241.5h.01M335.2 188.0h.01M326.4 199.8h.01M336.4 184.1h.01M317.8 232.6h.01M317.1 241.5h.01M300.1 212.3h.01M359.8 160.2h.01M344.6 240.5h.01M329.8 165.6h.01M327.5 216.4h.01M311.5 213.5h.01M308.0 202.5h.01M332.1 197.9h.01M321.8 187.6h.01M326.4 196.0h.01M330.0 228.4h.01M303.2 215.8h.01M339.3 197.6h.01M319.3 185.6h.01M347.5 183.0h.01M314.5 195.4h.01M343.7 221.1h.01M341.8 218.1h.01M324.1 211.3h.01M318.0 195.7h.01M332.0 191.9h.01M327.5 203.5h.01M325.3 220.7h.01M313.5 173.4h.01M298.0 179.4h.01M307.0 208.7h.01M308.9 175.4h.01M321.1 227.1h.01M324.7 230.1h.01M335.1 195.7h.01M327.9 220.5h.01M318.8 181.3h.01M322.0 177.8h.01M349.8 208.4h.01M336.9 240.0h.01M329.8 229.0h.01M350.5 241.5h.01M332.2 241.5h.01M342.9 216.0h.01M331.0 210.6h.01M341.1 182.4h.01M339.0 209.3h.01M298.0 200.8h.01M344.7 218.1h.01M310.5 175.3h.01M322.1 198.8h.01M354.1 165.2h.01M316.2 230.3h.01M331.8 162.6h.01M339.3 241.5h.01M310.9 233.7h.01M302.0 211.6h.01M335.1 241.5h.01M298.0 155.5h.01M328.2 217.5h.01M335.8 198.5h.01M331.9 241.5h.01M323.4 162.7h.01M313.1 174.5h.01M323.2 213.8h.01M325.5 180.4h.01M334.4 186.3h.01M332.2 200.1h.01M337.9 199.4h.01M325.7 202.6h.01M328.1 192.3h.01M368.5 163.2h.01M327.4 189.4h.01M318.0 194.4h.01M317.7 215.4h.01M303.8 195.5h.01M307.1 183.6h.01M304.5 241.5h.01M328.9 179.9h.01M298.7 240.0h.01M327.8 168.5h.01M303.1 213.8h.01M310.4 162.4h.01M325.1 223.6h.01M324.0 223.5h.01M335.5 204.8h.01M329.5 202.7h.01M316.1 183.7h.01M321.9 216.8h.01M336.2 187.6h.01M325.6 218.7h.01M340.0 187.3h.01M312.5 241.5h.01M313.2 168.5h.01M305.4 183.1h.01M339.2 177.1h.01M349.3 226.1h.01M318.0 223.4h.01M315.8 231.5h.01M306.9 197.1h.01M341.8 234.9h.01M320.6 194.3h.01M328.8 206.2h.01M326.7 225.7h.01M301.6 215.0h.01M298.0 198.1h.01M347.9 241.5h.01M343.3 222.5h.01M340.6 241.5h.01M322.2 167.1h.01M312.5 148.8h.01M325.4 175.4h.01M310.7 214.6h.01M330.0 198.5h.01M322.6 201.5h.01M318.4 147.5h.01M329.6 224.2h.01M321.1 169.6h.01M309.9 211.6h.01M312.6 221.3h.01M323.7 197.2h.01M320.3 241.5h.01M336.9 191.4h.01M328.5 193.8h.01M330.2 151.0h.01M304.8 204.7h.01M321.6 237.7h.01M304.4 200.4h.01M316.3 166.1h.01M333.2 168.6h.01M315.2 226.0h.01M319.1 166.5h.01M328.1 179.6h.01M318.6 209.4h.01M342.0 206.8h.01M317.0 241.5h.01M321.6 222.4h.01M345.9 179.7h.01M327.6 214.5h.01M322.8 213.5h.01M353.8 179.8h.01M329.6 226.6h.01M345.9 228.2h.01M334.7 200.2h.01M335.7 197.2h.01M364.3 198.9h.01M333.6 196.4h.01M320.0 216.1h.01M324.0 227.5h.01M325.4 195.1h.01M344.5 187.0h.01M341.0 220.0h.01M329.7 172.6h.01M326.7 186.6h.01M329.4 235.6h.01M343.3 200.8h.01M354.9 229.3h.01M330.6 160.3h.01M311.3 195.0h.01M306.7 207.8h.01M310.9 151.4h.01M355.2 198.7h.01M306.6 187.7h.01M319.7 157.5h.01M327.7 199.2h.01M313.1 170.3h.01M328.0 150.6h.01M298.0 167.3h.01M333.4 232.9h.01M330.9 213.4h.01M342.5 180.2h.01M355.9 179.9h.01M298.0 210.4h.01M356.9 225.9h.01M342.4 198.9h.01M315.3 199.9h.01M345.1 143.1h.01M331.4 194.4h.01M310.8 177.8h.01M319.2 231.9h.01M305.2 195.4h.01M337.8 210.1h.01M322.4 194.0h.01M347.8 175.8h.01M322.9 190.2h.01M321.8 241.5h.01M310.6 167.8h.01M354.0 196.5h.01M321.8 210.5h.01M346.4 225.1h.01M348.5 186.9h.01M332.7 225.9h.01M328.6 148.2h.01M321.1 238.8h.01M326.7 241.5h.01M335.1 180.7h.01M338.9 212.4h.01M346.5 199.9h.01M327.7 191.9h.01M312.7 175.2h.01M315.0 210.3h.01M322.2 194.5h.01M337.9 211.5h.01M342.1 224.0h.01M316.8 210.4h.01M320.0 167.0h.01M298.0 186.1h.01M298.0 241.5h.01M334.6 214.1h.01M367.5 199.8h.01M313.2 206.0h.01M312.7 241.5h.01M309.4 170.6h.01M326.4 189.9h.01M301.0 213.7h.01M361.8 214.0h.01M323.5 188.1h.01M345.2 222.4h.01M310.0 189.2h.01M343.4 180.9h.01M298.0 227.4h.01M305.6 153.4h.01M332.3 168.9h.01M357.4 210.8h.01M327.6 224.8h.01M311.2 234.2h.01M326.2 171.4h.01M299.4 228.3h.01M339.6 227.3h.01M328.4 193.3h.01M327.0 198.8h.01M312.6 225.1h.01M339.8 230.8h.01M298.0 227.6h.01M336.9 160.1h.01M314.4 191.2h.01M303.8 186.8h.01M313.9 198.5h.01M333.4 189.5h.01M343.9 176.6h.01M366.4 151.3h.01M335.1 172.3h.01M325.6 227.7h.01M323.9 223.6h.01M331.2 162.5h.01M316.7 233.4h.01M315.8 164.0h.01M330.5 213.4h.01M334.7 232.4h.01M298.0 217.8h.01M326.4 241.5h.01M320.0 226.5h.01M326.6 201.8h.01M350.4 241.5h.01M358.0 220.6h.01M334.1 195.8h.01M346.8 194.4h.01M341.7 206.4h.01M298.0 241.5h.01M330.9 241.5h.01M298.0 197.8h.01M298.0 198.2h.01M323.0 207.8h.01M320.4 241.5h.01M344.8 232.0h.01M321.7 241.5h.01M300.9 224.4h.01M321.3 178.5h.01M305.9 205.2h.01M337.3 195.6h.01M323.3 194.5h.01M348.5 183.9h.01M329.2 241.5h.01M353.2 203.0h.01M314.9 217.6h.01M316.2 172.7h.01M316.2 241.5h.01M325.9 241.5h.01M347.6 200.5h.01M332.1 199.8h.01M305.5 180.3h.01M329.6 187.7h.01M298.0 189.5h.01M323.2 217.6h.01M315.9 199.0h.01M352.0 150.5h.01M334.6 194.1h.01M344.5 240.2h.01M326.1 210.9h.01M340.9 213.5h.01M318.6 220.2h.01M332.2 217.0h.01M329.3 223.1h.01M329.3 239.7h.01M326.7 227.8h.01M310.4 191.8h.01M334.8 202.0h.01M324.5 237.2h.01M317.6 193.2h.01M327.7 237.8h.01M338.1 193.6h.01M327.9 173.4h.01M323.8 204.9h.01M342.1 177.6h.01M304.3 241.5h.01M336.6 208.9h.01M319.2 241.5h.01M325.9 182.6h.01M327.1 241.5h.01M355.1 212.5h.01M298.0 153.4h.01M338.7 228.3h.01M334.5 171.9h.01M329.6 207.0h.01M318.6 186.2h.01M326.8 184.4h.01M353.6 200.3h.01M300.2 221.5h.01M349.5 216.2h.01M343.8 212.9h.01M337.6 205.2h.01M338.9 183.0h.01M347.2 172.1h.01M298.0 168.8h.01M323.2 219.1h.01M333.0 208.8h.01M311.5 205.3h.01M331.7 211.2h.01M358.6 218.1h.01M327.1 187.9h.01M318.7 219.8h.01M316.7 176.5h.01M321.6 232.2h.01M313.9 221.1h.01M314.9 217.0h.01M327.8 185.3h.01M350.2 207.3h.01M334.4 166.0h.01M348.3 241.5h.01M314.8 196.5h.01M330.9 193.8h.01M331.7 210.7h.01M308.4 220.7h.01M305.9 178.2h.01M324.4 173.0h.01M367.6 213.7h.01M326.3 219.1h.01M313.9 240.9h.01M342.0 214.4h.01M332.6 225.4h.01M305.6 197.4h.01M316.2 202.2h.01M323.8 223.0h.01M299.6 219.8h.01M312.0 229.9h.01M303.4 167.6h.01M344.4 190.5h.01M306.7 223.6h.01M324.3 208.1h.01M309.7 167.4h.01M311.7 155.9h.01M313.0 140.8h.01M312.9 183.0h.01M345.0 185.7h.01M330.0 197.4h.01M340.8 224.6h.01M316.9 222.7h.01M313.2 179.0h.01M326.1 194.4h.01M344.0 203.9h.01M355.4 203.5h.01M318.1 231.3h.01M298.0 227.1h.01M332.7 239.8h.01M298.4 215.8h.01M321.8 241.5h.01M344.4 202.5h.01M312.1 201.2h.01M309.4 222.2h.01M328.2 224.2h.01M306.2 233.7h.01M330.8 236.6h.01M315.3 241.5h.01M337.5 241.5h.01M314.1 225.4h.01M337.0 219.7h.01M307.1 185.6h.01M349.9 187.0h.01M341.3 209.8h.01M327.9 213.1h.01M319.3 211.4h.01M328.8 236.0h.01M303.3 211.5h.01M315.0 213.6h.01M343.0 193.7h.01M322.7 179.2h.01M344.8 221.4h.01M331.2 193.3h.01M307.5 213.0h.01M298.0 153.5h.01M327.7 220.7h.01M315.5 173.1h.01M320.1 196.2h.01M362.1 205.2h.01M328.3 186.8h.01M315.7 187.1h.01M322.2 184.4h.01M331.7 192.4h.01M311.4 211.2h.01M306.9 241.5h.01M361.4 214.7h.01M347.7 188.5h.01M331.5 240.8h.01M349.2 160.7h.01M317.0 208.2h.01M314.1 237.3h.01M317.0 232.1h.01M308.4 219.1h.01M311.0 196.3h.01M329.0 188.5h.01M329.1 201.8h.01M324.1 237.4h.01M321.3 160.4h.01M342.6 207.9h.01M341.5 231.3h.01M336.5 200.4h.01M347.1 170.6h.01M334.3 216.7h.01M326.9 196.7h.01M335.2 189.6h.01M341.9 173.4h.01M359.1 219.3h.01M324.5 205.0h.01M326.6 210.7h.01M308.0 203.4h.01M316.7 178.9h.01M306.6 198.9h.01M321.4 177.5h.01M322.9 224.2h.01M341.9 222.6h.01M319.1 224.8h.01M298.0 196.1h.01M333.6 189.2h.01M348.1 179.3h.01M320.0 241.1h.01M302.8 228.6h.01M319.9 180.3h.01M323.0 206.2h.01M358.1 184.9h.01M330.7 213.1h.01M328.9 222.7h.01M316.9 200.3h.01M350.4 165.9h.01M298.8 183.4h.01M299.8 186.2h.01M332.0 241.5h.01M349.8 240.5h.01M335.4 219.9h.01M324.6 188.3h.01M326.7 191.2h.01M346.7 188.9h.01M324.3 224.7h.01M337.2 165.1h.01M324.9 227.7h.01M333.1 175.1h.01M298.0 231.7h.01M298.0 219.9h.01M354.5 207.9h.01M333.8 208.2h.01M325.9 198.1h.01M347.8 241.5h.01M319.8 198.3h.01M361.8 206.4h.01M344.2 211.1h.01M305.2 197.1h.01M324.8 238.4h.01M314.7 186.8h.01M316.1 189.6h.01M345.6 168.3h.01M341.9 215.3h.01M331.7 197.6h.01M345.1 210.1h.01M331.8 225.9h.01M306.4 190.1h.01M315.7 186.5h.01M305.9 192.8h.01M330.4 241.5h.01M308.2 156.8h.01M329.9 173.3h.01M310.0 232.0h.01M321.5 221.1h.01M348.2 234.0h.01M337.7 213.6h.01M319.9 205.9h.01M331.3 177.6h.01M319.8 204.3h.01M323.0 204.1h.01M317.4 180.7h.01M322.2 233.8h.01M307.3 240.0h.01M328.1 173.0h.01M315.4 224.9h.01M341.1 221.2h.01M324.2 232.1h.01M299.2 204.7h.01M330.6 206.6h.01M305.4 240.4h.01M309.8 185.4h.01M298.0 227.8h.01M359.4 179.7h.01M304.5 222.0h.01M339.7 204.5h.01M322.4 219.4h.01M339.5 186.8h.01M339.1 205.8h.01M318.4 215.6h.01M317.9 241.0h.01M315.8 216.5h.01M322.0 200.4h.01M329.8 190.0h.01M356.1 237.8h.01M323.2 240.8h.01M332.8 241.3h.01M305.7 241.5h.01M316.3 241.5h.01M318.5 234.0h.01M321.5 228.1h.01M310.4 160.5h.01M326.4 200.2h.01M306.7 151.8h.01M322.6 188.3h.01M312.8 211.3h.01M330.9 169.3h.01M340.3 198.0h.01M336.4 193.3h.01M330.3 184.5h.01M333.3 208.2h.01M324.0 183.4h.01M323.4 185.5h.01M374.1 221.0h.01M337.5 206.9h.01M344.3 208.7h.01M342.8 217.2h.01M364.7 214.6h.01M298.6 239.3h.01M327.3 213.3h.01M312.2 152.8h.01M314.2 194.9h.01M298.0 209.2h.01M338.5 224.1h.01M320.7 214.6h.01M318.6 206.2h.01M334.2 233.7h.01M320.2 241.5h.01M316.8 241.1h.01M309.3 202.0h.01M325.1 218.7h.01M350.0 221.1h.01M332.2 204.8h.01M325.1 227.8h.01M331.8 193.0h.01M338.6 218.3h.01M315.4 226.2h.01M345.9 216.9h.01M331.9 195.0h.01M328.8 191.3h.01M328.9 241.5h.01M331.7 182.9h.01M344.0 211.4h.01M311.4 173.1h.01M325.6 198.2h.01M317.6 229.8h.01M326.9 178.5h.01M365.8 183.1h.01M367.9 215.9h.01M317.5 215.9h.01M320.7 208.1h.01M345.4 187.1h.01M360.5 186.0h.01M381.6 179.1h.01M372.3 215.8h.01M367.4 220.0h.01M385.6 199.1h.01M360.0 172.8h.01M348.3 200.3h.01M339.4 208.5h.01M365.5 222.9h.01M364.7 202.8h.01M321.3 173.1h.01M348.1 185.1h.01M348.3 241.5h.01M366.6 227.1h.01M354.1 241.5h.01M348.9 217.3h.01M335.0 177.7h.01M376.5 179.8h.01M349.5 207.7h.01M342.5 200.7h.01M351.5 199.4h.01M367.7 217.2h.01M356.1 157.6h.01M334.8 236.1h.01M355.0 193.7h.01M362.3 228.9h.01M360.7 194.5h.01M358.8 227.2h.01M359.4 241.5h.01M338.8 172.9h.01M348.7 196.8h.01M358.2 216.4h.01M366.0 241.5h.01M339.2 239.0h.01M363.9 189.2h.01M362.9 202.7h.01M341.7 206.9h.01M371.7 241.5h.01M341.7 159.9h.01M363.8 201.0h.01M329.1 198.5h.01M348.7 222.0h.01M357.4 231.7h.01M366.5 226.5h.01M343.7 223.4h.01M355.8 227.2h.01M345.6 168.1h.01M360.3 191.7h.01M333.4 218.3h.01M351.2 219.4h.01M366.5 173.1h.01M332.1 180.8h.01M367.7 220.2h.01M370.3 183.5h.01M343.6 226.6h.01M351.4 241.5h.01M311.9 206.5h.01M341.9 217.2h.01M323.4 212.1h.01M377.2 230.7h.01M302.3 241.5h.01M358.3 216.0h.01M340.1 122.3h.01M376.7 198.6h.01M356.0 179.2h.01M358.8 199.4h.01M367.7 190.6h.01M329.5 226.1h.01M339.9 230.0h.01M371.7 193.8h.01M362.4 203.6h.01M362.9 221.5h.01M336.6 187.1h.01M365.6 218.8h.01M349.6 210.4h.01M352.3 223.4h.01M357.6 165.7h.01M365.9 214.3h.01M340.1 178.1h.01M345.3 209.9h.01M368.8 199.6h.01M383.9 211.6h.01M381.9 209.0h.01M396.2 229.1h.01M351.6 202.0h.01M344.4 235.5h.01M357.4 189.8h.01M329.5 211.6h.01M348.0 208.5h.01M356.3 201.3h.01M371.5 197.1h.01M350.2 214.7h.01M371.0 204.2h.01M374.9 222.6h.01M355.9 198.8h.01M352.9 241.5h.01M367.9 241.5h.01M330.0 191.4h.01M341.8 218.9h.01M324.5 184.3h.01M355.4 233.2h.01M360.4 203.3h.01M355.3 208.9h.01M349.1 216.0h.01M366.2 136.0h.01M354.2 213.7h.01M330.2 241.5h.01M378.9 128.0h.01M326.0 213.4h.01M364.2 192.2h.01M363.1 171.4h.01M377.2 241.5h.01M359.2 201.9h.01M356.0 178.2h.01M337.0 194.1h.01M386.4 168.0h.01M336.5 204.9h.01M378.9 191.8h.01M343.4 241.5h.01M368.8 207.8h.01M333.9 193.8h.01M353.9 177.5h.01M331.9 182.8h.01M369.5 196.6h.01M349.9 220.3h.01M340.5 241.5h.01M330.7 200.7h.01M351.6 222.7h.01M339.8 159.2h.01M365.9 241.5h.01M368.3 205.5h.01M339.7 161.4h.01M339.7 168.4h.01M362.6 192.7h.01M370.2 228.5h.01M345.3 241.5h.01M362.2 202.0h.01M348.8 181.1h.01M338.7 213.0h.01M374.3 214.6h.01M315.1 173.7h.01M336.0 204.6h.01M346.0 206.9h.01M372.7 210.2h.01M347.5 223.5h.01M311.6 172.2h.01M340.0 146.2h.01M342.0 204.7h.01M326.4 186.7h.01M324.1 159.4h.01M319.7 217.8h.01M337.8 219.1h.01M356.9 215.3h.01M372.8 220.7h.01M336.3 180.9h.01M339.5 189.6h.01M350.5 217.8h.01M359.4 200.7h.01M370.8 188.3h.01M356.2 152.9h.01M339.2 213.2h.01M367.4 182.4h.01M319.7 192.0h.01M369.1 165.3h.01M374.2 177.4h.01M348.7 235.5h.01M338.1 214.1h.01M340.2 189.6h.01M330.3 215.2h.01M352.8 196.6h.01M316.1 213.3h.01M337.1 153.7h.01M354.3 194.1h.01M386.0 204.8h.01M361.8 216.7h.01M365.1 187.2h.01M363.2 217.6h.01M362.4 196.8h.01M338.4 239.1h.01M365.7 143.9h.01M347.9 218.6h.01M398.4 188.2h.01M331.2 187.7h.01M360.2 187.3h.01M345.2 183.8h.01M344.5 207.5h.01M351.0 202.9h.01M352.9 172.2h.01M367.5 169.6h.01M347.7 175.5h.01M344.2 152.6h.01M376.9 167.3h.01M360.5 196.4h.01M330.8 154.4h.01M328.8 195.1h.01M344.9 228.9h.01M356.8 203.3h.01M364.7 195.6h.01M357.8 182.1h.01M355.2 230.3h.01M346.0 202.6h.01M363.0 200.9h.01M323.3 193.1h.01M349.1 203.6h.01M352.3 211.4h.01M331.4 239.8h.01M362.5 174.4h.01M357.0 172.9h.01M318.6 198.9h.01M374.5 216.4h.01M328.1 204.6h.01M334.1 219.5h.01M358.4 196.2h.01M323.2 179.3h.01M350.8 195.6h.01M338.5 177.4h.01M350.0 218.1h.01M341.5 187.2h.01M353.0 203.5h.01M328.3 194.8h.01M341.0 189.7h.01M370.7 200.9h.01M362.1 223.3h.01M346.1 202.0h.01M343.5 207.7h.01M337.5 190.5h.01M350.1 197.7h.01M360.6 241.5h.01M364.3 189.5h.01M368.1 187.1h.01M399.3 218.8h.01M350.2 171.7h.01M356.3 196.2h.01M335.3 217.1h.01M356.4 180.8h.01M332.9 223.5h.01M370.3 160.0h.01M369.3 220.4h.01M348.1 174.6h.01M358.7 204.8h.01M350.6 196.1h.01M344.3 224.6h.01M414.3 144.7h.01M417.6 145.1h.01M414.3 148.9h.01M418.5 169.4h.01M424.1 147.3h.01M416.8 144.7h.01M413.5 150.4h.01M417.3 146.8h.01M414.5 133.6h.01M418.4 154.7h.01M430.3 155.3h.01M416.0 159.8h.01M416.8 150.0h.01M415.1 157.0h.01M410.5 170.3h.01M419.7 159.4h.01M420.4 137.3h.01M413.1 158.4h.01M420.9 180.3h.01M414.1 147.5h.01M418.3 142.3h.01M408.7 152.3h.01M412.7 138.7h.01M414.7 146.5h.01M420.4 143.3h.01M417.2 163.3h.01M415.9 124.4h.01M416.3 158.5h.01M417.4 154.9h.01M402.3 133.1h.01M413.8 159.2h.01M415.0 156.6h.01M424.6 149.4h.01M416.7 136.7h.01M417.2 138.0h.01M420.5 157.4h.01M408.9 153.4h.01M421.9 154.5h.01M429.0 163.8h.01M411.0 158.4h.01M417.3 145.1h.01M410.3 164.4h.01M420.5 162.8h.01M420.2 140.8h.01M416.7 142.1h.01M418.1 147.8h.01M419.8 136.9h.01M414.5 124.7h.01M425.7 144.5h.01M414.0 158.1h.01M417.0 140.5h.01M429.5 143.7h.01M417.1 117.3h.01M422.7 121.2h.01M425.9 141.6h.01M422.9 144.8h.01M423.5 154.0h.01M399.8 151.8h.01M407.9 142.6h.01M419.8 163.2h.01M419.4 151.6h.01M413.5 153.9h.01M418.1 175.6h.01M408.4 149.1h.01M416.8 143.8h.01M414.1 149.3h.01M410.4 150.9h.01M408.0 151.6h.01M412.6 140.9h.01M419.6 162.2h.01M410.2 152.4h.01M421.3 146.6h.01M408.4 167.0h.01M417.4 146.2h.01M416.8 155.8h.01M408.5 159.8h.01M410.3 170.8h.01M419.8 152.3h.01M422.0 166.0h.01M424.1 162.3h.01M421.1 149.7h.01M412.5 170.6h.01M411.1 134.3h.01M423.9 169.1h.01M418.2 147.2h.01M422.8 157.5h.01M413.7 128.4h.01M418.7 148.4h.01M415.0 152.6h.01M402.2 155.3h.01M379.2 151.0h.01M384.7 125.4h.01M398.3 126.3h.01M382.8 136.6h.01M399.2 105.3h.01M397.1 116.5h.01M398.0 104.2h.01M388.7 119.6h.01M381.8 126.2h.01M397.1 104.3h.01M386.4 125.7h.01M398.5 113.4h.01M388.7 119.0h.01M390.4 118.5h.01M389.4 124.4h.01M394.3 108.5h.01M395.7 114.3h.01M386.6 119.9h.01M394.3 116.5h.01M387.2 129.6h.01M381.8 138.0h.01M386.8 124.7h.01M397.7 107.7h.01M390.8 123.4h.01M389.9 118.6h.01M395.1 108.7h.01M393.5 124.6h.01M411.9 85.1h.01M391.5 131.6h.01M392.8 123.1h.01M394.0 113.0h.01M384.7 120.9h.01M397.0 110.0h.01M399.3 104.1h.01M400.7 102.8h.01M389.6 116.9h.01M394.9 107.0h.01M402.2 93.8h.01M396.4 121.5h.01M394.0 112.1h.01M391.8 135.8h.01M398.9 114.9h.01M387.9 131.0h.01M393.4 105.6h.01M398.6 128.6h.01M412.3 145.1h.01M382.6 175.0h.01M411.7 139.1h.01M401.6 161.8h.01M402.4 147.6h.01M422.2 138.6h.01M376.8 131.1h.01M411.0 149.9h.01M395.2 140.6h.01M395.0 133.0h.01M385.2 133.1h.01M390.0 126.5h.01M395.2 174.5h.01M419.4 150.5h.01M385.3 138.6h.01M382.8 155.2h.01M408.0 152.5h.01M390.3 132.1h.01M384.6 172.2h.01M398.3 137.9h.01M386.8 143.2h.01M389.6 170.8h.01M391.4 152.5h.01M381.3 144.4h.01M391.2 161.1h.01M383.5 166.1h.01M400.8 140.7h.01M388.8 149.3h.01M382.1 145.7h.01M367.7 148.5h.01M410.1 150.2h.01M404.8 160.6h.01M401.0 141.6h.01M394.8 141.9h.01M360.1 146.3h.01M400.6 161.0h.01M385.7 159.9h.01M400.9 157.7h.01M377.1 115.5h.01M388.8 148.5h.01M389.0 147.5h.01M375.7 169.3h.01M385.4 128.0h.01M389.7 128.0h.01M381.6 147.3h.01M424.7 221.6h.01M429.4 235.7h.01M415.7 236.5h.01M420.6 241.5h.01M414.6 241.5h.01M408.0 174.2h.01M419.6 218.2h.01M422.7 210.8h.01M411.2 192.6h.01M416.3 233.8h.01M425.4 216.6h.01M410.6 235.9h.01M404.5 218.7h.01M418.6 214.6h.01M426.5 181.5h.01M419.3 241.5h.01M426.1 232.7h.01M423.0 211.6h.01M405.7 222.3h.01M412.2 197.6h.01M416.7 235.6h.01M412.8 234.0h.01M429.9 190.4h.01M418.6 241.5h.01M424.0 211.2h.01M414.6 193.7h.01M419.3 187.4h.01M413.3 219.8h.01M405.8 202.5h.01M424.3 199.1h.01M424.5 208.2h.01M415.5 198.3h.01M414.3 206.2h.01M402.2 229.9h.01M420.7 229.3h.01M416.5 215.1h.01M420.7 210.8h.01M410.3 216.2h.01M422.4 218.0h.01M416.2 222.2h.01M412.7 219.0h.01M403.3 206.2h.01M422.6 211.5h.01M409.9 207.6h.01M417.1 232.3h.01M419.2 217.8h.01M415.7 228.5h.01M427.7 199.1h.01M410.8 216.1h.01M424.0 218.6h.01M424.8 187.9h.01M429.4 212.5h.01M415.3 227.8h.01M424.6 239.1h.01M417.6 208.4h.01M422.2 205.2h.01M414.8 188.2h.01M420.0 174.3h.01M409.0 172.5h.01M413.7 220.1h.01M409.6 206.6h.01M404.3 206.1h.01M421.4 221.2h.01M415.8 229.6h.01M419.1 238.4h.01M418.7 233.4h.01M411.0 215.7h.01M420.3 164.9h.01M429.3 212.9h.01M421.6 177.3h.01M416.0 197.0h.01M418.4 198.2h.01M421.9 214.5h.01M419.2 217.9h.01M419.5 239.4h.01M424.3 212.6h.01M418.8 213.0h.01M411.6 209.0h.01M420.7 158.0h.01M420.9 193.2h.01M407.3 241.5h.01M415.4 231.8h.01M408.1 223.8h.01M417.1 215.7h.01M430.3 241.5h.01M413.6 221.1h.01M415.4 241.5h.01M416.7 214.1h.01M420.8 224.0h.01M415.3 204.3h.01M426.7 241.5h.01M417.9 223.7h.01M422.9 210.9h.01M416.9 205.5h.01M411.9 206.6h.01M416.1 216.0h.01M415.7 204.3h.01M413.0 216.6h.01M415.2 202.9h.01M423.5 228.6h.01M414.3 218.8h.01M428.8 214.7h.01M409.8 232.7h.01M412.6 214.3h.01M404.9 208.4h.01M407.1 215.9h.01M426.2 204.1h.01M410.3 234.3h.01M410.1 195.7h.01M409.6 179.5h.01M409.1 210.2h.01M415.8 229.7h.01M427.8 205.2h.01M416.6 228.8h.01M424.9 241.5h.01M418.3 201.9h.01M406.6 207.0h.01M426.1 241.5h.01M419.4 191.2h.01M423.3 184.1h.01M414.2 214.4h.01M416.2 239.4h.01M422.2 210.4h.01M422.0 209.6h.01M421.7 215.4h.01M421.4 227.4h.01M428.7 196.1h.01M427.9 212.3h.01M414.3 204.0h.01M423.9 210.4h.01M408.4 196.4h.01M391.2 172.4h.01M398.3 210.1h.01M410.0 165.9h.01M437.6 185.0h.01M443.8 201.4h.01M409.2 219.5h.01M398.1 195.3h.01M362.9 215.0h.01M377.9 226.5h.01M347.8 200.0h.01M414.8 215.0h.01M406.6 211.4h.01M403.3 197.5h.01M392.2 231.0h.01M414.4 216.1h.01M405.0 200.4h.01M390.8 210.0h.01M392.0 241.5h.01M421.0 241.5h.01M405.2 162.2h.01M416.1 227.3h.01M405.4 186.2h.01M380.3 179.9h.01M404.0 200.3h.01M407.3 239.6h.01M377.1 228.0h.01M390.9 180.8h.01M374.4 241.5h.01M398.9 171.6h.01M368.7 230.7h.01M374.0 200.0h.01M413.7 236.3h.01M399.4 211.2h.01M403.0 200.3h.01M383.2 191.5h.01M400.5 181.6h.01M417.3 188.3h.01M411.3 160.4h.01M423.9 216.7h.01M371.1 199.9h.01M422.3 185.5h.01M392.2 198.8h.01M399.0 192.8h.01M369.9 200.4h.01M419.8 192.5h.01M397.9 236.2h.01M426.6 194.2h.01M377.3 201.5h.01M413.7 202.5h.01" fill="none" stroke="#000" stroke-width="1.45" stroke-linecap="square"/>
<g stroke="#1a1a1a" stroke-width="1" fill="none">
<path d="M297.5 31.5V242.5H508.0"/>
<path d="M377.5 31.5V242.5M297.5 176.5H508.0" stroke="#2a2a2a" stroke-width="1"/>
<path d="M297.5 241.0v3.5M298.0 242.5h-3.5M313.3 241.5v2.2M297.5 226.6h-2.2M322.6 241.5v2.2M297.5 217.3h-2.2M329.2 241.5v2.2M297.5 210.7h-2.2M334.3 241.5v2.2M297.5 205.6h-2.2M338.5 241.5v2.2M297.5 201.5h-2.2M342.0 241.5v2.2M297.5 197.9h-2.2M345.0 241.5v2.2M297.5 194.9h-2.2M347.7 241.5v2.2M297.5 192.2h-2.2M350.1 241.0v3.5M298.0 189.8h-3.5M366.0 241.5v2.2M297.5 173.9h-2.2M375.2 241.5v2.2M297.5 164.6h-2.2M381.8 241.5v2.2M297.5 158.0h-2.2M386.9 241.5v2.2M297.5 152.9h-2.2M391.1 241.5v2.2M297.5 148.7h-2.2M394.6 241.5v2.2M297.5 145.2h-2.2M397.7 241.5v2.2M297.5 142.1h-2.2M400.3 241.5v2.2M297.5 139.4h-2.2M402.8 241.0v3.5M298.0 137.0h-3.5M418.6 241.5v2.2M297.5 121.1h-2.2M427.9 241.5v2.2M297.5 111.8h-2.2M434.4 241.5v2.2M297.5 105.2h-2.2M439.5 241.5v2.2M297.5 100.1h-2.2M443.7 241.5v2.2M297.5 96.0h-2.2M447.2 241.5v2.2M297.5 92.4h-2.2M450.3 241.5v2.2M297.5 89.4h-2.2M453.0 241.5v2.2M297.5 86.7h-2.2M455.4 241.0v3.5M298.0 84.2h-3.5M471.2 241.5v2.2M297.5 68.4h-2.2M480.5 241.5v2.2M297.5 59.1h-2.2M487.1 241.5v2.2M297.5 52.5h-2.2M492.2 241.5v2.2M297.5 47.4h-2.2M496.3 241.5v2.2M297.5 43.2h-2.2M499.8 241.5v2.2M297.5 39.7h-2.2M502.9 241.5v2.2M297.5 36.6h-2.2M505.6 241.5v2.2M297.5 33.9h-2.2M508.0 241.0v3.5M298.0 31.5h-3.5" stroke-width="1"/>
</g>
<text class="tk" x="294.0" y="251.5">10<tspan class="sp" dy="-2.6">0</tspan></text>
<text class="tk" x="346.6" y="251.5">10<tspan class="sp" dy="-2.6">1</tspan></text>
<text class="tk" x="284.3" y="192.9">10<tspan class="sp" dy="-2.6">1</tspan></text>
<text class="tk" x="399.2" y="251.5">10<tspan class="sp" dy="-2.6">2</tspan></text>
<text class="tk" x="284.3" y="140.2">10<tspan class="sp" dy="-2.6">2</tspan></text>
<text class="tk" x="451.9" y="251.5">10<tspan class="sp" dy="-2.6">3</tspan></text>
<text class="tk" x="284.3" y="87.5">10<tspan class="sp" dy="-2.6">3</tspan></text>
<text class="tk" x="504.5" y="251.5">10<tspan class="sp" dy="-2.6">4</tspan></text>
<text class="tk" x="284.3" y="34.7">10<tspan class="sp" dy="-2.6">4</tspan></text>
<text class="pc" x="298.5" y="40.4">16.40%</text>
<text class="pc" text-anchor="end" x="506.5" y="39.8">5.25%</text>
<rect x="298.5" y="231.0" width="28.5" height="8.5" fill="#fff"/>
<text class="pc" x="299.5" y="237.7">72.69%</text>
<text class="pc" text-anchor="end" x="506.5" y="237.5">5.66%</text>
<text class="tt" text-anchor="middle" x="407.8" y="29.4">BALB/c</text>
<path d="M75.1 423.8h.01M86.1 414.8h.01M84.0 424.5h.01M84.6 407.9h.01M94.5 406.5h.01M134.1 382.0h.01M92.2 410.2h.01M97.2 408.3h.01M82.8 405.7h.01M93.0 413.6h.01M83.7 402.4h.01M86.6 402.1h.01M98.5 423.5h.01M82.8 418.0h.01M95.1 402.7h.01M85.8 410.8h.01M82.7 390.4h.01M96.8 398.3h.01M106.5 414.1h.01M98.2 389.9h.01M81.3 411.2h.01M96.2 411.1h.01M88.4 406.8h.01M94.1 430.2h.01M101.5 400.1h.01M83.0 419.5h.01M100.5 399.1h.01M79.0 413.4h.01M93.4 416.5h.01M103.5 408.8h.01M93.3 424.5h.01M74.9 411.2h.01M88.5 424.0h.01M78.5 415.7h.01M87.0 422.8h.01M112.9 408.4h.01M94.6 397.5h.01M85.7 411.6h.01M88.4 413.6h.01M95.9 419.6h.01M99.3 416.8h.01M79.9 414.5h.01M89.1 423.9h.01M99.3 420.1h.01M82.2 432.6h.01M110.6 400.2h.01M93.0 408.7h.01M88.0 412.9h.01M79.3 429.3h.01M98.3 416.9h.01M93.2 427.0h.01M87.1 417.7h.01M78.4 399.3h.01M114.4 404.1h.01M108.2 420.1h.01M67.9 421.3h.01M108.8 433.2h.01M103.6 406.6h.01M94.1 408.0h.01M96.0 408.9h.01M80.9 414.1h.01M84.0 412.2h.01M90.4 418.9h.01M101.9 405.1h.01M95.2 399.2h.01M70.5 411.6h.01M92.5 421.7h.01M106.2 412.9h.01M76.3 412.4h.01M91.3 419.9h.01M104.3 408.3h.01M81.5 414.5h.01M115.4 394.9h.01M89.7 393.6h.01M82.0 392.9h.01M106.3 418.1h.01M124.1 386.9h.01M99.8 400.2h.01M106.4 407.0h.01M88.6 406.7h.01M103.5 396.3h.01M74.5 415.3h.01M91.5 418.0h.01M120.0 399.3h.01M108.1 425.7h.01M74.9 427.2h.01M88.5 403.8h.01M112.0 403.5h.01M93.3 406.7h.01M99.5 414.5h.01M84.2 421.0h.01M96.0 410.6h.01M59.8 418.8h.01M107.8 403.5h.01M99.9 421.1h.01M93.3 437.4h.01M105.2 407.9h.01M102.0 415.7h.01M97.3 419.4h.01M101.8 405.6h.01M96.8 405.1h.01M91.3 400.8h.01M84.4 424.7h.01M76.3 416.2h.01M108.5 388.5h.01M100.0 415.5h.01M90.9 430.1h.01M83.0 431.7h.01M87.4 408.1h.01M83.4 415.4h.01M105.1 407.8h.01M96.8 419.6h.01M108.0 412.4h.01M88.8 414.4h.01M93.9 397.5h.01M115.9 407.5h.01M111.5 402.0h.01M92.1 405.8h.01M97.5 406.6h.01M88.1 424.5h.01M84.6 403.1h.01M123.0 406.4h.01M93.2 391.9h.01M72.7 413.3h.01M92.1 425.2h.01M97.2 420.6h.01M99.2 390.3h.01M95.3 410.0h.01M97.3 414.1h.01M86.9 390.9h.01M88.0 414.4h.01M98.8 433.3h.01M96.4 416.4h.01M108.1 408.9h.01M91.7 416.8h.01M77.1 413.6h.01M90.8 420.4h.01M66.1 415.9h.01M108.5 425.1h.01M94.6 405.0h.01M92.0 445.6h.01M87.7 408.4h.01M96.7 403.4h.01M96.5 398.3h.01M92.0 413.8h.01M88.9 416.7h.01M110.1 404.7h.01M87.2 410.5h.01M98.2 411.2h.01M91.8 411.8h.01M92.7 426.2h.01M96.4 408.6h.01M103.3 399.8h.01M94.3 422.1h.01M91.2 412.9h.01M101.9 406.2h.01M105.0 401.9h.01M87.4 406.2h.01M88.8 413.7h.01M84.4 414.6h.01M98.8 426.6h.01M96.8 418.7h.01M97.5 403.2h.01M111.0 392.2h.01M105.3 401.4h.01M108.2 385.9h.01M95.1 415.1h.01M107.1 392.8h.01M73.3 442.1h.01M74.1 395.6h.01M105.9 406.1h.01M94.1 417.0h.01M84.7 421.8h.01M73.5 408.6h.01M66.9 434.4h.01M109.5 415.0h.01M93.8 423.9h.01M101.3 407.5h.01M79.1 411.4h.01M94.0 408.0h.01M91.8 404.3h.01M108.6 402.1h.01M98.5 421.5h.01M89.8 406.7h.01M108.3 398.0h.01M109.5 421.6h.01M81.1 444.4h.01M93.4 393.8h.01M90.0 403.6h.01M80.3 426.4h.01M97.4 407.6h.01M75.0 417.9h.01M80.2 407.9h.01M91.3 405.4h.01M91.4 415.7h.01M86.1 427.8h.01M90.9 397.2h.01M98.7 400.9h.01M90.8 404.5h.01M88.8 428.3h.01M92.9 405.8h.01M95.5 409.0h.01M83.3 401.0h.01M85.6 395.3h.01M97.5 416.3h.01M105.0 402.2h.01M95.0 401.1h.01M79.9 436.6h.01M85.9 413.6h.01M88.2 414.4h.01M83.2 410.3h.01M91.6 408.3h.01M118.2 408.6h.01M80.4 414.5h.01M103.2 392.5h.01M97.8 399.4h.01M103.0 391.4h.01M95.5 414.8h.01M112.9 392.1h.01M96.5 395.1h.01M92.2 404.0h.01M91.1 422.9h.01M92.3 404.4h.01M87.9 441.2h.01M88.7 414.4h.01M92.9 430.8h.01M110.3 418.0h.01M102.1 417.0h.01M99.0 406.9h.01M98.1 407.2h.01M77.6 415.8h.01M100.0 412.1h.01M111.3 420.1h.01M124.4 413.5h.01M106.3 411.3h.01M80.9 431.0h.01M105.3 395.4h.01M96.5 415.9h.01M91.0 428.6h.01M72.7 420.0h.01M72.3 410.1h.01M85.1 406.1h.01M117.2 399.8h.01M100.2 417.7h.01M101.3 387.9h.01M90.1 406.2h.01M88.7 408.2h.01M89.4 400.7h.01M78.6 422.2h.01M109.7 404.2h.01M90.1 417.8h.01M88.7 411.2h.01M80.4 395.8h.01M101.0 388.0h.01M98.6 422.3h.01M93.4 408.1h.01M79.9 420.4h.01M89.8 420.9h.01M108.8 400.4h.01M84.0 406.1h.01M95.5 392.9h.01M93.6 439.0h.01M96.7 428.8h.01M116.1 407.3h.01M84.4 441.8h.01M110.0 409.2h.01M101.7 417.4h.01M100.0 405.2h.01M102.3 408.9h.01M101.8 417.8h.01M88.0 422.5h.01M91.9 409.2h.01M98.4 416.5h.01M94.1 414.7h.01M93.4 410.7h.01M87.8 392.6h.01M91.4 420.9h.01M115.7 414.4h.01M111.7 406.4h.01M93.0 416.1h.01M88.1 429.0h.01M86.3 404.9h.01M106.9 400.6h.01M83.4 433.1h.01M96.0 413.4h.01M97.9 429.7h.01M105.8 408.7h.01M85.7 409.4h.01M112.0 409.7h.01M88.8 413.5h.01M98.9 419.0h.01M103.1 423.0h.01M90.9 403.8h.01M88.5 404.3h.01M105.0 416.1h.01M80.5 432.8h.01M85.5 407.6h.01M105.9 404.0h.01M88.0 409.5h.01M108.2 417.3h.01M83.9 421.9h.01M99.6 422.3h.01M91.4 416.8h.01M98.2 384.8h.01M97.8 377.7h.01M95.8 413.6h.01M105.1 405.7h.01M88.5 415.5h.01M117.7 406.3h.01M75.9 421.6h.01M74.3 431.3h.01M98.7 401.0h.01M109.8 390.7h.01M117.0 403.0h.01M81.2 405.7h.01M76.5 406.1h.01M95.0 416.3h.01M85.4 404.9h.01M93.4 409.3h.01M102.6 421.9h.01M86.9 438.9h.01M94.9 400.3h.01M96.1 414.6h.01M110.1 386.9h.01M67.3 421.4h.01M96.3 399.5h.01M88.2 416.0h.01M86.8 398.3h.01M87.4 417.7h.01M100.3 405.0h.01M75.9 409.7h.01M102.4 389.2h.01M82.2 382.7h.01M106.9 412.8h.01M103.5 414.9h.01M121.6 381.9h.01M89.9 435.8h.01M93.1 401.1h.01M81.6 407.4h.01M86.2 396.8h.01M92.7 412.4h.01M79.5 430.2h.01M99.5 404.3h.01M106.7 398.8h.01M98.4 412.1h.01M71.0 407.7h.01M95.1 419.7h.01M118.1 412.0h.01M117.0 420.5h.01M92.0 425.8h.01M97.4 420.9h.01M98.6 395.8h.01M116.8 395.3h.01M105.6 409.3h.01M78.7 408.7h.01M88.1 420.3h.01M94.5 416.6h.01M93.8 411.3h.01M76.3 415.6h.01M100.6 394.4h.01M81.0 419.8h.01M53.9 410.5h.01M97.7 401.4h.01M99.6 423.0h.01M88.7 402.9h.01M95.3 430.1h.01M123.0 389.6h.01M85.0 409.0h.01M100.2 408.6h.01M91.6 410.1h.01M107.1 401.6h.01M100.8 405.4h.01M100.7 406.9h.01M87.5 420.6h.01M77.8 409.0h.01M90.7 418.1h.01M98.7 404.1h.01M122.2 383.8h.01M82.7 392.4h.01M84.2 412.3h.01M89.1 412.7h.01M89.2 416.9h.01M99.7 411.8h.01M70.2 404.9h.01M89.3 407.8h.01M113.2 408.9h.01M77.0 414.3h.01M110.1 405.6h.01M97.7 403.0h.01M112.4 390.7h.01M79.1 419.8h.01M106.2 421.7h.01M94.1 429.6h.01M95.1 425.6h.01M104.8 389.3h.01M124.8 409.4h.01M90.9 412.4h.01M94.4 397.1h.01M136.4 398.0h.01M94.8 411.0h.01M107.3 396.8h.01M89.2 414.6h.01M81.8 412.1h.01M96.1 420.5h.01M90.4 419.5h.01M88.1 403.8h.01M85.4 414.3h.01M108.1 406.9h.01M106.0 391.5h.01M92.0 425.4h.01M97.7 408.0h.01M87.6 416.4h.01M104.1 406.5h.01M92.6 413.7h.01M84.3 424.6h.01M99.2 407.8h.01M69.3 426.1h.01M90.9 403.5h.01M81.7 406.6h.01M94.0 420.9h.01M95.7 398.0h.01M108.7 396.7h.01M100.7 396.0h.01M93.2 402.6h.01M95.6 430.2h.01M109.6 384.6h.01M84.1 407.0h.01M100.3 407.4h.01M87.3 433.1h.01M97.3 409.3h.01M96.0 406.6h.01M93.7 388.0h.01M103.6 414.1h.01M73.6 406.8h.01M91.3 405.3h.01M83.4 407.1h.01M83.0 419.2h.01M93.5 422.9h.01M111.6 390.5h.01M78.5 426.7h.01M85.8 424.6h.01M100.4 408.3h.01M91.4 430.4h.01M71.7 418.7h.01M76.2 410.7h.01M93.4 408.8h.01M89.3 419.8h.01M77.0 419.9h.01M87.6 422.4h.01M85.6 403.6h.01M89.9 419.2h.01M85.4 419.1h.01M98.6 411.4h.01M93.4 420.6h.01M70.5 426.4h.01M54.0 412.1h.01M78.5 415.7h.01M67.6 425.7h.01M76.4 415.6h.01M110.1 405.4h.01M80.2 415.6h.01M67.3 433.4h.01M71.2 420.5h.01M103.8 402.4h.01M106.6 404.3h.01M116.2 391.1h.01M92.8 399.5h.01M89.9 412.1h.01M103.3 412.3h.01M93.0 416.9h.01M79.7 424.3h.01M82.4 417.1h.01M90.9 421.0h.01M89.1 396.1h.01M100.1 392.5h.01M87.1 416.1h.01M99.6 411.6h.01M95.3 427.9h.01M103.1 409.1h.01M80.2 412.3h.01M86.3 406.7h.01M98.5 412.0h.01M104.8 388.8h.01M102.2 404.0h.01M103.3 406.5h.01M98.7 399.5h.01M89.5 419.6h.01M91.7 412.7h.01M92.5 430.5h.01M92.5 403.0h.01M115.2 412.4h.01M93.8 393.9h.01M97.7 421.0h.01M105.0 398.3h.01M103.3 392.6h.01M78.4 428.8h.01M96.6 409.3h.01M90.0 413.6h.01M97.6 391.9h.01M68.5 426.5h.01M76.9 418.7h.01M85.1 429.0h.01M108.7 422.5h.01M101.3 400.6h.01M97.0 397.8h.01M90.9 401.6h.01M107.1 418.5h.01M102.7 385.9h.01M100.0 398.9h.01M88.1 426.3h.01M90.1 417.6h.01M62.3 428.0h.01M104.8 399.8h.01M89.9 412.0h.01M93.3 394.5h.01M91.6 404.1h.01M91.2 399.6h.01M83.1 427.8h.01M71.7 426.6h.01M91.3 410.4h.01M91.6 410.0h.01M82.3 397.0h.01M100.7 413.3h.01M110.7 389.8h.01M96.1 425.5h.01M97.3 413.6h.01M84.5 437.4h.01M94.1 403.0h.01M84.8 423.1h.01M97.4 404.6h.01M89.0 413.3h.01M94.5 407.4h.01M119.7 407.9h.01M91.2 433.5h.01M95.7 411.0h.01M93.1 422.6h.01M114.0 395.6h.01M103.0 401.1h.01M111.2 416.0h.01M88.0 416.7h.01M79.1 424.9h.01M99.5 403.1h.01M97.5 408.2h.01M84.4 419.1h.01M100.8 417.4h.01M96.8 420.6h.01M83.7 404.3h.01M93.9 389.5h.01M84.9 425.5h.01M91.8 400.3h.01M89.0 414.2h.01M84.8 409.2h.01M114.8 410.7h.01M102.8 401.9h.01M68.2 412.9h.01M87.0 418.9h.01M96.7 411.8h.01M90.8 385.2h.01M72.8 428.4h.01M91.9 427.6h.01M93.6 417.3h.01M96.7 428.9h.01M96.8 424.6h.01M93.6 405.9h.01M95.3 415.0h.01M100.8 429.5h.01M85.6 420.3h.01M75.9 433.4h.01M93.1 418.3h.01M89.7 401.1h.01M90.2 410.8h.01M102.9 403.7h.01M91.6 405.7h.01M110.1 392.8h.01M81.8 434.8h.01M82.6 422.1h.01M78.6 417.6h.01M101.4 410.4h.01M108.0 397.7h.01M101.5 425.5h.01M103.2 407.3h.01M96.4 401.5h.01M114.2 378.7h.01M85.4 426.3h.01M107.9 429.1h.01M80.1 408.9h.01M95.1 409.2h.01M71.7 421.7h.01M95.6 422.1h.01M102.1 404.1h.01M114.1 392.3h.01M112.8 387.2h.01M79.1 431.3h.01M94.0 413.1h.01M75.7 436.6h.01M80.3 419.1h.01M91.0 400.5h.01M90.7 405.3h.01M87.9 425.5h.01M91.1 406.9h.01M118.4 379.0h.01M94.8 418.9h.01M108.5 365.4h.01M85.2 406.4h.01M92.6 406.4h.01M75.6 405.3h.01M105.3 412.1h.01M86.0 408.3h.01M90.8 417.9h.01M106.8 407.3h.01M85.9 417.4h.01M76.5 413.3h.01M84.6 417.9h.01M98.9 398.4h.01M78.3 419.6h.01M92.7 403.9h.01M107.6 410.0h.01M80.2 442.3h.01M93.4 421.5h.01M93.7 404.9h.01M114.5 409.3h.01M92.2 403.6h.01M101.0 406.5h.01M99.0 406.3h.01M100.5 421.9h.01M107.7 401.2h.01M97.6 401.9h.01M81.5 431.7h.01M100.5 411.0h.01M100.9 418.6h.01M101.5 410.0h.01M95.6 409.6h.01M91.0 406.1h.01M98.8 419.1h.01M97.0 403.1h.01M84.9 410.4h.01M89.4 424.9h.01M112.0 384.6h.01M109.5 406.3h.01M76.4 413.2h.01M99.7 404.3h.01M101.8 412.7h.01M87.6 425.2h.01M88.7 428.5h.01M91.4 408.1h.01M106.1 409.7h.01M91.2 427.1h.01M94.2 405.9h.01M99.0 422.4h.01M91.4 416.7h.01M104.5 406.4h.01M82.0 410.9h.01M70.1 423.1h.01M82.9 419.6h.01M86.8 408.2h.01M103.6 410.7h.01M93.2 407.6h.01M89.3 425.1h.01M93.3 414.9h.01M75.3 427.7h.01M92.4 418.3h.01M94.8 385.4h.01M97.8 418.6h.01M88.0 410.3h.01M105.2 410.5h.01M86.0 398.4h.01M88.3 420.0h.01M96.4 422.2h.01M84.0 428.5h.01M81.5 396.3h.01M89.6 413.7h.01M88.7 433.0h.01M97.6 425.3h.01M93.9 410.7h.01M99.8 401.4h.01M98.2 420.7h.01M105.9 409.7h.01M61.6 426.2h.01M96.1 409.3h.01M96.4 434.5h.01M81.0 423.7h.01M101.5 403.0h.01M95.4 412.9h.01M112.2 412.8h.01M105.0 409.0h.01M84.2 406.7h.01M92.9 412.5h.01M100.5 415.1h.01M114.6 423.5h.01M76.4 416.9h.01M126.2 395.2h.01M91.5 414.7h.01M93.8 392.7h.01M128.6 409.9h.01M74.0 424.0h.01M62.8 418.2h.01M91.1 423.2h.01M99.0 400.2h.01M104.1 401.6h.01M86.9 431.1h.01M96.6 423.0h.01M124.4 407.0h.01M85.4 402.5h.01M93.1 403.6h.01M94.6 414.6h.01M124.9 396.6h.01M69.5 422.0h.01M87.0 434.5h.01M94.0 432.3h.01M112.1 402.5h.01M119.0 416.9h.01M95.2 393.9h.01M86.3 426.8h.01M94.1 412.7h.01M98.7 429.0h.01M96.9 400.8h.01M98.8 405.3h.01M84.9 403.2h.01M82.2 406.3h.01M95.0 406.8h.01M105.6 418.8h.01M84.2 435.0h.01M75.8 425.5h.01M79.0 425.3h.01M93.0 415.6h.01M102.9 394.1h.01M97.5 412.3h.01M89.2 404.7h.01M105.2 400.0h.01M97.6 391.9h.01M95.7 411.6h.01M90.1 391.5h.01M96.0 419.8h.01M95.1 404.9h.01M122.7 394.1h.01M109.2 405.2h.01M98.5 404.7h.01M83.6 397.8h.01M55.6 428.8h.01M87.1 407.3h.01M104.9 418.2h.01M111.3 391.9h.01M89.3 417.2h.01M84.6 410.6h.01M101.3 386.4h.01M102.5 412.3h.01M103.2 422.9h.01M93.8 413.8h.01M80.1 402.1h.01M80.4 410.0h.01M112.7 423.1h.01M106.7 399.9h.01M91.4 415.3h.01M89.8 407.9h.01M60.3 418.3h.01M113.6 411.0h.01M83.0 412.0h.01M100.9 400.8h.01M70.2 441.2h.01M105.4 402.7h.01M109.6 415.1h.01M98.8 422.7h.01M105.3 426.5h.01M91.2 417.5h.01M101.0 398.5h.01M86.3 412.2h.01M68.5 436.4h.01M107.6 410.3h.01M101.5 408.9h.01M89.7 405.8h.01M80.2 426.0h.01M80.3 420.2h.01M99.7 389.0h.01M97.5 405.1h.01M96.3 415.4h.01M107.5 400.5h.01M101.2 394.8h.01M76.1 445.6h.01M108.9 419.6h.01M85.1 431.6h.01M77.1 424.6h.01M89.1 404.6h.01M79.4 409.1h.01M101.6 409.5h.01M100.8 408.7h.01M68.7 423.3h.01M74.9 421.1h.01M104.4 403.6h.01M78.5 417.1h.01M97.9 401.3h.01M102.0 405.5h.01M99.0 402.7h.01M87.2 412.3h.01M77.5 418.6h.01M114.6 417.1h.01M78.9 427.1h.01M87.4 422.1h.01M103.1 410.8h.01M98.9 423.0h.01M117.3 398.3h.01M87.3 408.7h.01M95.1 404.5h.01M103.0 394.4h.01M75.7 409.4h.01M81.7 392.2h.01M101.9 408.3h.01M94.3 411.3h.01M108.5 404.0h.01M108.5 408.4h.01M88.9 411.1h.01M76.0 423.8h.01M83.9 422.5h.01M100.1 418.1h.01M89.1 415.9h.01M96.1 411.7h.01M90.5 410.2h.01M86.9 384.1h.01M93.0 408.8h.01M84.3 426.6h.01M93.5 434.4h.01M89.0 404.9h.01M81.4 415.8h.01M105.5 418.4h.01M95.2 424.3h.01M107.3 398.2h.01M73.8 414.3h.01M94.2 416.2h.01M127.1 398.9h.01M99.7 403.5h.01M64.9 416.6h.01M85.9 413.3h.01M87.7 406.6h.01M72.4 417.9h.01M93.4 418.7h.01M92.6 408.8h.01M102.9 415.6h.01M88.4 415.6h.01M105.5 401.6h.01M87.9 416.7h.01M66.5 413.4h.01M67.2 435.4h.01M93.5 388.6h.01M88.5 424.0h.01M95.3 409.1h.01M89.0 410.5h.01M86.0 427.3h.01M83.9 399.6h.01M76.6 422.2h.01M112.4 409.7h.01M75.2 403.3h.01M107.6 392.3h.01M105.1 397.9h.01M86.8 457.5h.01M99.2 416.5h.01M83.7 419.8h.01M115.4 403.9h.01M98.2 412.8h.01M81.0 413.4h.01M77.0 429.1h.01M88.4 411.1h.01M93.0 425.4h.01M102.9 409.9h.01M89.7 399.2h.01M100.8 412.4h.01M95.0 424.3h.01M98.3 402.9h.01M96.8 416.5h.01M88.4 404.2h.01M116.8 403.9h.01M78.3 418.1h.01M78.2 426.2h.01M97.2 424.6h.01M93.2 401.8h.01M112.9 396.2h.01M94.6 421.9h.01M88.1 418.5h.01M75.1 416.5h.01M92.9 419.1h.01M106.1 421.9h.01M97.9 425.1h.01M83.2 419.6h.01M81.3 438.6h.01M92.5 411.2h.01M102.9 400.3h.01M97.2 410.8h.01M101.5 411.3h.01M83.8 400.5h.01M92.6 400.7h.01M104.6 397.3h.01M76.9 413.6h.01M112.6 390.5h.01M59.4 438.0h.01M88.0 411.8h.01M94.3 430.0h.01M102.8 418.0h.01M105.7 402.3h.01M107.5 400.3h.01M101.2 407.2h.01M106.3 402.1h.01M88.5 409.2h.01M93.7 395.9h.01M100.1 410.5h.01M95.8 411.5h.01M78.5 422.5h.01M95.9 420.3h.01M90.8 419.6h.01M105.3 425.4h.01M91.6 408.6h.01M98.2 428.7h.01M79.4 426.4h.01M88.3 423.6h.01M97.0 417.0h.01M88.1 419.1h.01M73.5 426.8h.01M93.2 439.8h.01M73.9 435.0h.01M84.7 399.5h.01M110.1 427.5h.01M99.0 385.9h.01M89.1 424.4h.01M111.4 393.2h.01M80.0 405.4h.01M75.0 412.9h.01M83.3 424.7h.01M89.8 394.3h.01M96.2 407.9h.01M90.8 406.7h.01M101.3 415.5h.01M101.2 401.4h.01M88.6 416.4h.01M95.0 430.9h.01M98.4 409.8h.01M120.7 380.0h.01M79.3 411.2h.01M67.6 412.9h.01M76.4 422.1h.01M100.5 398.4h.01M89.4 402.5h.01M103.9 394.5h.01M86.6 424.1h.01M75.9 421.3h.01M94.8 406.0h.01M95.0 416.3h.01M80.4 434.1h.01M100.7 422.4h.01M92.7 395.2h.01M87.8 419.6h.01M98.4 419.1h.01M96.1 407.6h.01M93.9 419.9h.01M84.3 422.4h.01M74.8 398.5h.01M70.8 413.7h.01M110.6 428.0h.01M86.3 398.0h.01M73.6 424.3h.01M94.0 409.0h.01M91.2 424.2h.01M102.0 417.8h.01M107.0 407.0h.01M104.3 410.0h.01M97.3 402.1h.01M71.2 419.1h.01M109.1 403.6h.01M93.3 406.1h.01M108.9 424.2h.01M102.1 399.4h.01M85.6 407.1h.01M97.0 414.5h.01M110.0 409.8h.01M104.0 399.2h.01M111.0 435.9h.01M112.9 395.9h.01M64.2 433.0h.01M83.9 423.9h.01M110.4 399.8h.01M103.0 403.2h.01M113.4 401.3h.01M116.6 386.2h.01M83.9 427.9h.01M95.5 406.5h.01M115.6 425.1h.01M93.9 410.9h.01M97.8 401.0h.01M83.4 413.6h.01M98.0 399.8h.01M98.2 409.1h.01M97.1 405.4h.01M109.2 412.1h.01M90.5 410.4h.01M90.3 414.1h.01M108.1 394.6h.01M80.2 431.4h.01M77.3 418.9h.01M103.8 392.0h.01M73.4 418.5h.01M108.7 410.8h.01M94.7 407.7h.01M90.2 415.9h.01M98.2 410.1h.01M71.7 423.2h.01M99.1 404.9h.01M81.7 403.4h.01M100.9 435.1h.01M104.9 442.6h.01M106.5 436.9h.01M70.4 440.8h.01M67.7 466.0h.01M91.8 434.7h.01M61.3 443.3h.01M109.5 395.7h.01M74.9 415.6h.01M73.0 448.9h.01M129.3 404.8h.01M107.0 419.3h.01M113.4 379.9h.01M77.3 445.9h.01M70.8 445.4h.01M75.7 444.5h.01M97.7 416.4h.01M70.7 420.9h.01M109.2 423.8h.01M72.7 483.8h.01M54.4 419.9h.01M96.8 405.1h.01M85.7 416.4h.01M56.3 432.1h.01M63.1 410.4h.01M110.6 403.8h.01M98.0 445.2h.01M105.8 432.4h.01M81.2 398.6h.01M88.8 431.9h.01M75.7 406.1h.01M103.3 404.9h.01M94.7 415.2h.01M53.0 452.9h.01M98.0 433.6h.01M57.5 421.5h.01M91.4 410.3h.01M118.8 387.3h.01M99.8 389.6h.01M54.3 400.6h.01M97.0 410.7h.01M72.0 407.2h.01M55.8 407.3h.01M65.6 417.6h.01M77.7 380.0h.01M72.2 445.1h.01M75.6 421.8h.01M70.5 410.6h.01M83.3 398.5h.01M81.3 392.8h.01M91.3 394.3h.01M97.6 440.9h.01M53.0 434.7h.01M76.2 443.4h.01M73.6 417.3h.01M78.4 445.0h.01M53.0 436.1h.01M86.0 413.5h.01M79.3 439.1h.01M100.5 452.7h.01M71.2 388.1h.01M72.9 418.7h.01M75.2 444.2h.01M129.6 429.0h.01M53.0 440.9h.01M71.0 422.9h.01M100.7 428.7h.01M82.6 427.3h.01M99.1 433.4h.01M125.3 368.2h.01M68.2 411.6h.01M100.4 426.1h.01M100.9 396.4h.01M79.5 433.7h.01M82.8 414.9h.01M89.3 451.7h.01M53.0 450.7h.01M89.4 406.6h.01M97.0 422.8h.01M108.0 407.6h.01M103.2 405.7h.01M90.2 434.6h.01M82.2 433.6h.01M71.9 441.2h.01M73.8 409.4h.01M81.5 421.1h.01M67.1 436.4h.01M81.4 433.0h.01M54.0 398.4h.01M78.5 404.2h.01M81.2 432.2h.01M106.2 448.5h.01M99.6 409.4h.01M94.9 412.7h.01M94.7 403.1h.01M110.8 429.5h.01M78.2 397.6h.01M89.5 412.6h.01M88.9 409.3h.01M73.1 433.3h.01M113.5 399.4h.01M80.0 429.2h.01M80.9 414.2h.01M127.2 407.0h.01M91.2 413.4h.01M82.0 381.0h.01M101.7 418.4h.01M64.6 452.1h.01M78.4 411.1h.01M67.1 441.4h.01M84.6 416.6h.01M57.5 405.9h.01M90.9 421.8h.01M53.0 406.4h.01M88.5 470.5h.01M68.9 382.2h.01M99.3 413.5h.01M57.6 432.3h.01M79.3 404.8h.01M57.7 420.0h.01M85.7 390.2h.01M103.7 399.3h.01M112.0 428.2h.01M80.2 428.2h.01M72.1 421.0h.01M116.9 411.9h.01M100.3 406.0h.01M83.6 439.5h.01M60.0 428.2h.01M53.0 401.5h.01M75.6 438.1h.01M98.3 405.7h.01M81.4 425.5h.01M53.0 429.8h.01M111.0 444.6h.01M72.2 414.8h.01M65.3 413.3h.01M79.0 434.5h.01M85.6 405.5h.01M100.4 438.0h.01M71.8 417.7h.01M81.9 392.6h.01M86.7 434.3h.01M122.9 425.7h.01M78.3 419.6h.01M96.2 436.6h.01M66.8 425.7h.01M97.1 386.1h.01M111.5 418.4h.01M101.5 421.4h.01M79.1 420.9h.01M89.8 437.9h.01M78.8 402.1h.01M70.1 404.7h.01M99.3 405.1h.01M114.5 424.7h.01M82.4 445.8h.01M76.8 417.0h.01M99.8 435.7h.01M64.2 466.6h.01M95.6 399.8h.01M80.7 439.1h.01M88.6 437.9h.01M131.6 439.2h.01M124.5 434.7h.01M71.0 449.7h.01M70.4 439.8h.01M97.5 407.4h.01M70.4 419.5h.01M92.6 446.7h.01M86.1 457.0h.01M102.2 411.4h.01M72.4 424.5h.01M74.5 421.4h.01M100.5 427.8h.01M104.5 410.7h.01M67.8 398.0h.01M53.0 415.2h.01M86.5 419.7h.01M85.3 460.1h.01M63.4 418.5h.01M75.5 407.0h.01M112.3 422.8h.01M110.4 403.1h.01M122.9 464.2h.01M68.0 423.3h.01M82.8 433.5h.01M59.4 431.9h.01M100.0 412.7h.01M53.0 411.3h.01M77.6 437.3h.01M73.1 402.9h.01M97.9 430.3h.01M100.2 424.4h.01M106.7 432.8h.01M53.0 427.2h.01M101.0 424.3h.01M114.8 415.4h.01M99.6 401.5h.01M85.6 413.8h.01M65.6 400.1h.01M90.1 431.4h.01M72.9 401.4h.01M68.1 437.4h.01M61.6 444.2h.01M53.0 428.7h.01M99.0 445.7h.01M77.1 409.9h.01M57.2 440.1h.01M83.1 415.5h.01M77.3 428.3h.01M86.4 445.0h.01M53.0 439.0h.01M75.1 422.4h.01M79.5 422.2h.01M100.9 427.8h.01M56.9 422.6h.01M94.8 494.6h.01M90.1 497.7h.01M79.5 519.3h.01M85.0 526.5h.01M99.1 474.0h.01M104.1 520.5h.01M95.9 526.5h.01M94.9 498.3h.01M85.3 496.8h.01M110.0 526.5h.01M88.6 497.1h.01M73.3 486.1h.01M85.6 482.0h.01M80.5 496.5h.01M97.8 455.1h.01M68.6 526.5h.01M100.0 494.0h.01M75.9 471.4h.01M88.6 497.8h.01M108.3 483.0h.01M97.9 526.5h.01M87.6 495.6h.01M88.6 516.6h.01M104.2 526.5h.01M99.1 484.0h.01M98.1 526.5h.01M88.4 476.6h.01M92.5 490.0h.01M87.6 498.3h.01M105.5 516.5h.01M75.9 485.3h.01M91.5 506.0h.01M84.3 507.2h.01M81.9 504.4h.01M109.2 522.0h.01M64.3 477.6h.01M86.1 487.4h.01M91.8 502.6h.01M120.1 509.2h.01M87.7 486.1h.01M72.3 507.9h.01M85.2 515.8h.01M82.8 466.9h.01M100.6 509.6h.01M96.4 526.0h.01M97.6 482.7h.01M116.4 496.9h.01M108.8 453.4h.01M96.2 515.7h.01M86.0 496.8h.01M75.5 477.7h.01M101.8 526.5h.01M95.8 513.8h.01M89.1 456.8h.01M104.2 501.8h.01M94.9 477.1h.01M92.3 493.9h.01M95.8 482.0h.01M72.4 501.0h.01M115.2 526.0h.01M104.2 480.0h.01M86.6 477.8h.01M94.2 526.5h.01M95.2 526.5h.01M90.5 521.7h.01M111.0 526.5h.01M86.3 514.5h.01M82.3 491.5h.01M97.8 513.0h.01M101.9 484.3h.01M111.4 487.0h.01M109.0 517.9h.01M81.9 484.1h.01M99.2 459.7h.01M106.5 475.2h.01M100.4 503.1h.01M86.2 471.8h.01M100.2 504.0h.01M96.0 471.7h.01M101.0 481.9h.01M89.3 495.1h.01M104.6 509.7h.01M105.3 494.8h.01M95.4 478.2h.01M94.7 475.5h.01M92.8 480.1h.01M82.4 513.7h.01M90.6 461.6h.01M94.9 511.5h.01M101.2 480.1h.01M100.4 493.7h.01M97.0 480.6h.01M85.5 525.8h.01M98.9 493.6h.01M96.1 511.4h.01M76.0 497.2h.01M78.9 499.8h.01M67.9 501.7h.01M112.2 526.5h.01M83.5 509.5h.01M101.6 493.1h.01M85.0 514.2h.01M99.9 526.0h.01M88.6 511.4h.01M84.9 499.7h.01M85.4 503.8h.01M92.7 525.3h.01M95.7 504.3h.01M77.4 506.7h.01M93.3 526.5h.01M82.2 487.7h.01M85.9 484.8h.01M83.3 499.9h.01M93.8 502.0h.01M115.2 484.5h.01M95.7 497.0h.01M90.5 501.9h.01M106.5 514.2h.01M83.2 497.9h.01M69.7 511.3h.01M90.2 502.8h.01M76.4 506.4h.01M81.4 489.7h.01M98.1 487.4h.01M85.8 494.8h.01M92.1 524.8h.01M81.1 454.9h.01M96.4 507.8h.01M94.5 503.6h.01M90.8 479.1h.01M83.0 472.7h.01M83.0 478.7h.01M89.3 490.9h.01M102.8 480.8h.01M107.4 488.2h.01M78.9 519.8h.01M76.9 517.2h.01M94.8 526.5h.01M68.6 476.2h.01M77.3 489.0h.01M78.3 521.3h.01M96.3 492.4h.01M93.8 497.6h.01M98.6 491.9h.01M97.0 477.0h.01M92.9 471.0h.01M88.9 472.4h.01M103.8 509.8h.01M83.1 458.0h.01M103.5 475.8h.01M98.3 478.2h.01M76.0 485.7h.01M79.2 499.3h.01M99.5 512.7h.01M80.4 525.7h.01M100.9 526.5h.01M113.8 457.9h.01M80.1 526.5h.01M77.0 503.9h.01M92.8 493.9h.01M82.3 510.2h.01M81.2 496.2h.01M97.8 505.1h.01M102.8 498.3h.01M94.7 513.2h.01M78.0 522.0h.01M72.5 495.9h.01M86.0 496.3h.01M86.3 514.7h.01M89.9 482.8h.01M96.2 493.9h.01M75.3 477.7h.01M102.8 462.1h.01M86.1 469.3h.01M100.0 472.7h.01M103.6 484.5h.01M94.0 481.4h.01M100.9 513.2h.01M87.1 470.8h.01M71.9 495.0h.01M95.0 512.3h.01M76.4 507.9h.01M95.4 500.8h.01M85.5 519.2h.01M111.3 511.6h.01M86.7 487.4h.01M75.4 489.8h.01M107.8 489.0h.01M88.9 476.7h.01M96.8 522.9h.01M87.5 501.9h.01M91.1 494.4h.01M91.8 511.9h.01M71.6 517.4h.01M85.5 514.8h.01M86.6 497.2h.01M89.8 510.9h.01M82.6 510.6h.01M103.7 501.1h.01M87.3 521.2h.01M87.2 500.1h.01M91.2 494.4h.01M97.1 523.3h.01M106.9 526.5h.01M94.2 469.5h.01M74.3 487.4h.01M85.8 473.6h.01M91.9 526.5h.01M90.7 493.0h.01M92.8 480.8h.01M74.2 495.1h.01M125.8 485.6h.01M90.0 510.8h.01M81.0 511.5h.01M100.1 499.1h.01M83.5 462.4h.01M88.1 488.5h.01M93.9 486.1h.01M94.6 519.2h.01M101.8 519.3h.01M93.9 484.3h.01M97.8 489.1h.01M89.2 489.6h.01M89.3 526.5h.01M92.3 463.5h.01M85.9 503.6h.01M101.6 498.7h.01M89.2 486.0h.01M94.5 482.0h.01M81.6 494.5h.01M109.9 493.9h.01M76.9 460.5h.01M76.9 504.5h.01M75.8 526.5h.01M85.9 469.2h.01M99.4 520.5h.01M94.2 509.5h.01M72.5 525.2h.01M105.8 503.2h.01M94.4 474.3h.01M104.0 523.6h.01M110.2 494.4h.01M102.1 508.2h.01M83.4 474.3h.01M109.2 481.0h.01M72.3 447.3h.01M92.7 514.4h.01M87.1 433.8h.01M103.5 490.7h.01M85.7 456.3h.01M99.0 520.2h.01M88.2 477.6h.01M105.1 465.7h.01M104.2 488.2h.01M82.1 514.5h.01M97.8 494.3h.01M106.8 506.9h.01M94.5 521.3h.01M84.0 512.2h.01M97.4 484.7h.01M79.9 504.7h.01M83.1 495.8h.01M104.4 485.7h.01M84.6 477.3h.01M92.0 509.6h.01M76.6 501.1h.01M87.5 497.0h.01M85.6 480.3h.01M99.9 491.4h.01M92.4 526.5h.01M92.5 526.5h.01M91.9 466.1h.01M105.6 525.0h.01M114.1 478.9h.01M83.9 482.0h.01M106.1 486.6h.01M100.6 506.3h.01M90.8 450.5h.01M98.5 495.4h.01M103.5 487.9h.01M77.2 483.2h.01M104.3 462.9h.01M83.5 514.0h.01M89.7 521.4h.01M76.6 495.3h.01M92.6 486.2h.01M85.7 502.3h.01M106.1 519.1h.01M95.5 480.8h.01M95.7 465.6h.01M89.9 477.5h.01M89.0 501.7h.01M83.6 520.3h.01M94.8 488.1h.01M94.1 497.3h.01M83.3 493.6h.01M92.3 512.2h.01M105.0 517.2h.01M84.0 490.6h.01M85.0 488.5h.01M108.2 455.9h.01M115.2 506.9h.01M97.6 486.3h.01M90.9 504.0h.01M91.6 519.0h.01M93.2 496.6h.01M84.3 450.8h.01M108.3 482.6h.01M99.5 510.7h.01M89.6 511.5h.01M89.5 526.5h.01M98.0 468.3h.01M92.7 523.3h.01M101.3 506.0h.01M97.5 526.5h.01M94.6 526.5h.01M77.7 526.5h.01M94.5 518.3h.01M78.7 500.9h.01M89.7 521.1h.01M85.3 477.3h.01M92.7 493.4h.01M82.3 479.1h.01M90.9 507.1h.01M87.4 526.5h.01M109.2 514.1h.01M101.6 494.1h.01M92.2 504.8h.01M81.6 526.5h.01M73.8 485.6h.01M101.6 495.8h.01M99.9 493.0h.01M103.2 482.3h.01M86.8 496.0h.01M91.5 526.5h.01M92.9 510.5h.01M92.9 513.2h.01M94.5 472.9h.01M95.5 508.4h.01M109.9 493.5h.01M92.9 482.9h.01M80.7 502.8h.01M98.3 473.2h.01M93.0 512.6h.01M88.7 464.4h.01M97.9 503.4h.01M96.2 523.4h.01M108.4 518.7h.01M101.6 449.0h.01M96.5 489.1h.01M81.3 502.7h.01M96.0 479.2h.01M99.0 494.5h.01M113.2 490.1h.01M112.5 492.9h.01M97.2 482.2h.01M78.4 522.0h.01M95.7 477.8h.01M105.3 522.4h.01M102.1 509.9h.01M87.3 473.7h.01M86.0 526.5h.01M74.1 493.1h.01M75.6 494.2h.01M106.4 505.8h.01M93.2 504.8h.01M97.1 489.7h.01M86.9 474.7h.01M78.4 526.5h.01M77.5 486.2h.01M89.1 524.0h.01M78.9 471.2h.01M98.3 521.4h.01M90.8 514.8h.01M104.7 516.9h.01M75.3 512.0h.01M76.7 456.4h.01M76.3 503.5h.01M91.7 475.0h.01M78.5 479.2h.01M96.3 517.9h.01M100.6 514.3h.01M90.9 526.5h.01M73.5 493.6h.01M85.2 492.3h.01M97.9 519.5h.01M102.1 526.5h.01M96.5 522.3h.01M87.3 500.2h.01M81.5 496.8h.01M90.2 505.4h.01M63.8 454.3h.01M86.3 481.7h.01M104.1 490.7h.01M78.2 483.8h.01M101.1 505.1h.01M80.8 526.5h.01M86.7 491.6h.01M98.0 526.5h.01M98.3 497.4h.01M88.9 489.4h.01M85.9 496.2h.01M94.5 491.6h.01M105.8 502.0h.01M90.2 515.0h.01M76.0 450.6h.01M87.0 486.2h.01M87.1 469.2h.01M84.5 499.1h.01M89.9 493.7h.01M82.1 481.8h.01M93.5 493.9h.01M70.3 474.7h.01M95.8 476.4h.01M100.0 462.6h.01M92.0 484.1h.01M96.5 480.2h.01M94.4 497.4h.01M97.9 455.5h.01M87.3 461.1h.01M88.7 507.2h.01M92.4 506.8h.01M82.6 498.2h.01M101.9 517.3h.01M81.7 485.1h.01M83.1 500.5h.01M98.8 499.2h.01M105.4 510.1h.01M80.3 505.9h.01M96.0 478.4h.01M87.1 526.5h.01M104.5 477.1h.01M97.5 493.6h.01M80.8 518.7h.01M85.1 488.8h.01M97.1 507.2h.01M96.2 485.9h.01M94.1 459.1h.01M90.6 503.3h.01M89.6 466.0h.01M105.0 473.9h.01M88.6 490.2h.01M96.0 493.9h.01M95.9 497.8h.01M101.5 476.9h.01M98.1 486.0h.01M101.2 501.1h.01M76.0 494.6h.01M88.4 472.4h.01M86.5 524.8h.01M103.0 497.3h.01M93.6 484.5h.01M84.7 502.0h.01M100.9 500.9h.01M87.3 517.8h.01M94.1 526.5h.01M83.5 490.5h.01M98.7 475.8h.01M89.1 436.6h.01M88.9 467.8h.01M77.7 495.5h.01M103.1 475.8h.01M90.5 484.7h.01M98.8 489.6h.01M99.6 521.4h.01M96.1 507.6h.01M103.5 471.6h.01M81.8 484.6h.01M82.8 488.4h.01M97.7 504.7h.01M89.7 522.6h.01M87.8 483.9h.01M83.3 471.9h.01M83.0 526.5h.01M96.8 486.7h.01M98.2 501.4h.01M80.1 478.2h.01M83.9 523.4h.01M92.7 494.1h.01M88.7 458.0h.01M95.8 482.7h.01M68.4 489.7h.01M65.4 512.4h.01M83.8 487.7h.01M90.5 483.5h.01M82.0 515.8h.01M97.9 483.5h.01M97.7 506.6h.01M88.2 503.0h.01M85.9 486.0h.01M105.3 514.9h.01M80.3 526.5h.01M90.6 491.2h.01M79.5 492.7h.01M105.5 526.5h.01M86.1 492.8h.01M78.7 496.0h.01M98.2 489.2h.01M99.4 526.5h.01M80.2 523.1h.01M104.2 429.1h.01M89.8 500.0h.01M81.1 526.5h.01M83.3 476.4h.01M100.0 526.5h.01M107.1 459.2h.01M94.9 496.5h.01M109.3 480.1h.01M103.7 505.3h.01M97.6 475.4h.01M88.4 498.1h.01M83.7 479.3h.01M84.0 471.8h.01M96.4 495.7h.01M80.3 463.6h.01M74.3 483.4h.01M88.0 490.2h.01M94.7 492.2h.01M98.6 515.9h.01M96.5 502.0h.01M81.2 479.6h.01M96.2 509.7h.01M88.4 526.5h.01M93.5 475.5h.01M81.7 486.8h.01M109.8 524.7h.01M84.1 504.0h.01M90.1 501.5h.01M99.0 467.1h.01M103.2 503.4h.01M90.5 484.6h.01M73.4 493.8h.01M69.7 526.5h.01M87.1 472.3h.01M94.9 463.5h.01M91.4 486.6h.01M91.4 501.2h.01M89.2 498.4h.01M98.8 505.3h.01M86.2 491.0h.01M93.8 488.0h.01M86.9 488.7h.01M110.1 464.8h.01M107.6 470.6h.01M101.1 513.3h.01M95.8 502.1h.01M96.8 502.8h.01M106.2 514.4h.01M95.8 475.8h.01M104.9 526.5h.01M94.1 475.2h.01M93.4 502.8h.01M99.7 449.3h.01M113.1 462.9h.01M90.0 510.9h.01M92.5 510.4h.01M90.1 485.8h.01M82.9 504.5h.01M102.4 512.3h.01M103.0 519.9h.01M98.3 524.8h.01M91.8 525.0h.01M105.5 506.0h.01M87.6 526.5h.01M112.9 466.5h.01M109.7 522.0h.01M93.6 516.6h.01M81.4 483.9h.01M101.2 526.5h.01M79.9 504.2h.01M84.9 486.3h.01M61.8 491.0h.01M107.1 502.3h.01M91.5 485.8h.01M81.0 503.3h.01M82.9 506.6h.01M93.8 488.1h.01M92.2 496.3h.01M98.7 477.8h.01M99.9 474.2h.01M79.1 487.1h.01M80.4 495.6h.01M89.7 486.1h.01M99.4 514.2h.01M88.3 507.7h.01M88.9 464.8h.01M89.9 490.6h.01M85.9 486.2h.01M77.6 514.7h.01M104.1 497.7h.01M81.1 480.9h.01M87.7 492.7h.01M105.1 503.1h.01M96.9 494.7h.01M86.2 485.0h.01M84.3 503.8h.01M87.1 523.2h.01M80.5 494.0h.01M80.9 488.1h.01M73.0 486.9h.01M109.1 497.2h.01M109.0 457.1h.01M100.3 494.8h.01M112.0 475.7h.01M90.4 474.2h.01M78.0 526.5h.01M90.4 447.0h.01M81.1 480.8h.01M76.1 477.6h.01M103.7 526.5h.01M90.1 467.8h.01M102.5 487.4h.01M107.9 479.2h.01M83.0 497.4h.01M85.1 495.4h.01M92.7 526.5h.01M92.1 486.8h.01M81.1 526.5h.01M104.7 460.6h.01M86.4 510.6h.01M102.6 495.5h.01M104.3 437.9h.01M98.1 493.4h.01M123.3 496.1h.01M102.6 483.7h.01M91.5 440.3h.01M75.0 514.4h.01M92.1 452.8h.01M103.4 519.3h.01M94.7 482.2h.01M109.3 466.2h.01M104.4 484.6h.01M87.6 491.2h.01M81.9 526.5h.01M87.3 525.5h.01M82.3 477.8h.01M90.2 521.8h.01M75.2 489.3h.01M102.0 522.8h.01M99.2 504.1h.01M85.4 425.7h.01M92.1 500.6h.01M93.5 484.5h.01M84.1 481.0h.01M92.4 469.6h.01M85.7 481.1h.01M90.5 526.5h.01M74.9 496.2h.01M101.3 485.5h.01M91.6 509.1h.01M91.7 493.1h.01M87.6 505.7h.01M111.6 442.3h.01M89.4 522.0h.01M77.3 526.5h.01M93.0 525.4h.01M87.4 516.5h.01M97.1 500.3h.01M96.4 520.1h.01M84.8 506.7h.01M93.2 526.5h.01M87.6 492.0h.01M83.2 470.5h.01M93.1 463.5h.01M93.3 495.2h.01M86.6 469.5h.01M101.4 482.9h.01M75.0 464.2h.01M94.8 525.2h.01M105.2 462.5h.01M103.0 526.5h.01M92.2 451.6h.01M88.2 477.9h.01M109.2 462.2h.01M93.9 481.7h.01M97.4 514.7h.01M86.9 506.0h.01M88.7 501.8h.01M101.5 446.9h.01M85.5 483.1h.01M76.4 487.9h.01M72.0 470.3h.01M103.4 507.2h.01M78.9 498.6h.01M87.6 525.7h.01M71.2 461.8h.01M106.1 500.9h.01M84.3 488.5h.01M82.0 490.9h.01M93.6 484.9h.01M100.7 481.0h.01M98.4 475.4h.01M86.9 504.5h.01M87.5 490.3h.01M82.4 526.5h.01M101.5 523.0h.01M107.9 489.4h.01M93.5 444.5h.01M91.1 499.7h.01M86.7 515.3h.01M103.0 492.8h.01M80.1 494.3h.01M90.1 509.4h.01M96.7 484.4h.01M80.6 479.9h.01M88.9 491.1h.01M78.3 498.0h.01M98.0 526.5h.01M93.3 500.0h.01M100.6 441.8h.01M96.2 474.3h.01M101.3 470.6h.01M88.7 485.1h.01M101.3 526.5h.01M83.6 466.6h.01M88.5 501.1h.01M83.7 514.6h.01M81.3 455.6h.01M96.7 492.8h.01M104.0 513.2h.01M88.8 502.0h.01M89.9 512.9h.01M86.0 486.5h.01M106.5 517.3h.01M74.1 525.8h.01M79.2 520.9h.01M97.1 489.3h.01M78.0 467.5h.01M108.7 480.3h.01M81.5 520.5h.01M92.4 499.9h.01M83.5 503.7h.01M86.9 526.5h.01M73.3 514.9h.01M92.5 505.5h.01M63.7 526.5h.01M99.5 509.1h.01M104.8 491.0h.01M100.2 526.5h.01M105.1 514.7h.01M103.8 506.6h.01M83.8 510.1h.01M103.3 473.8h.01M83.9 510.1h.01M106.3 497.5h.01M81.5 459.2h.01M99.6 512.3h.01M80.5 471.1h.01M105.7 500.6h.01M66.6 497.2h.01M90.7 519.6h.01M78.8 486.8h.01M93.8 523.2h.01M94.6 505.8h.01M99.8 506.5h.01M79.8 526.5h.01M86.2 495.3h.01M87.9 526.5h.01M90.7 461.4h.01M83.2 480.8h.01M77.2 487.1h.01M111.5 454.3h.01M81.1 494.1h.01M105.0 510.6h.01M86.3 458.4h.01M82.1 503.1h.01M77.9 506.8h.01M89.7 482.2h.01M91.4 506.3h.01M87.1 481.9h.01M113.4 450.3h.01M87.8 487.9h.01M96.9 502.7h.01M83.8 504.4h.01M89.1 460.3h.01M85.1 479.3h.01M93.5 496.8h.01M89.4 525.3h.01M97.1 458.8h.01M73.6 517.3h.01M92.9 510.2h.01M92.7 484.9h.01M97.1 505.4h.01M90.8 522.1h.01M116.3 496.7h.01M88.0 473.2h.01M99.0 489.0h.01M77.0 521.2h.01M78.4 523.9h.01M83.9 526.5h.01M88.1 521.2h.01M83.0 512.5h.01M91.2 499.7h.01M99.3 498.9h.01M87.5 487.1h.01M89.5 467.8h.01M100.2 486.0h.01M83.3 511.6h.01M104.7 506.6h.01M78.6 492.2h.01M96.8 526.5h.01M117.3 512.4h.01M94.1 479.3h.01M96.1 455.1h.01M82.7 505.6h.01M89.1 478.1h.01M107.6 491.8h.01M89.3 491.5h.01M74.1 493.0h.01M76.7 486.1h.01M67.9 499.6h.01M93.6 472.1h.01M74.5 450.6h.01M76.9 518.7h.01M94.1 496.6h.01M73.2 473.5h.01M85.0 526.5h.01M82.9 508.2h.01M77.1 504.8h.01M79.9 466.5h.01M84.3 483.0h.01M95.5 489.5h.01M100.7 485.0h.01M97.9 482.2h.01M109.2 525.7h.01M109.0 453.0h.01M105.8 457.9h.01M94.6 496.5h.01M100.7 476.0h.01M85.1 511.9h.01M99.9 483.2h.01M99.0 519.6h.01M91.0 488.5h.01M99.7 517.5h.01M92.4 521.7h.01M94.0 481.4h.01M85.3 506.8h.01M82.1 506.7h.01M84.6 502.5h.01M103.5 526.5h.01M77.1 502.6h.01M98.3 469.8h.01M94.2 493.5h.01M75.1 462.2h.01M88.7 499.4h.01M82.5 467.5h.01M86.4 514.1h.01M108.3 509.5h.01M92.3 504.3h.01M103.7 483.8h.01M79.4 465.1h.01M75.5 496.5h.01M84.4 518.4h.01M87.7 508.5h.01M91.1 491.3h.01M79.5 453.7h.01M114.3 486.4h.01M98.5 514.8h.01M100.3 474.0h.01M98.8 524.2h.01M76.8 526.5h.01M88.2 473.2h.01M91.5 475.4h.01M90.8 508.3h.01M95.2 499.1h.01M84.0 513.9h.01M103.4 482.1h.01M82.2 489.3h.01M87.2 503.0h.01M90.2 499.4h.01M100.5 510.7h.01M78.1 478.5h.01M83.7 526.5h.01M71.0 462.6h.01M84.1 496.0h.01M80.9 456.5h.01M101.3 473.4h.01M90.7 501.9h.01M89.0 468.7h.01M92.5 511.3h.01M91.7 519.9h.01M95.6 511.9h.01M104.9 484.2h.01M99.5 504.6h.01M79.4 473.2h.01M82.4 492.7h.01M95.1 510.3h.01M97.0 523.6h.01M100.8 471.8h.01M83.1 482.4h.01M90.7 498.0h.01M120.5 519.5h.01M106.1 506.0h.01M94.4 492.0h.01M86.4 485.3h.01M95.6 526.2h.01M82.4 506.5h.01M89.0 526.5h.01M90.6 482.4h.01M98.7 511.5h.01M79.7 526.5h.01M107.2 487.2h.01M84.3 526.5h.01M74.7 494.6h.01M81.6 478.6h.01M78.4 494.4h.01M90.3 517.1h.01M100.5 491.1h.01M77.9 490.8h.01M113.6 497.3h.01M96.4 498.9h.01M88.6 492.4h.01M63.2 507.8h.01M84.6 469.5h.01M106.1 490.8h.01M97.5 526.5h.01M98.0 505.5h.01M80.6 526.5h.01M92.5 485.9h.01M71.0 503.3h.01M74.2 506.2h.01M99.7 513.5h.01M96.1 447.1h.01M84.4 501.0h.01M111.8 517.6h.01M79.4 507.6h.01M78.6 465.1h.01M102.6 474.4h.01M90.6 503.0h.01M91.0 515.8h.01M82.0 497.4h.01M91.2 483.0h.01M108.2 471.0h.01M85.1 499.4h.01M79.8 518.1h.01M91.7 519.9h.01M85.1 526.5h.01M82.0 488.0h.01M93.5 469.3h.01M94.2 473.4h.01M101.9 482.6h.01M95.2 440.7h.01M90.8 497.7h.01M109.1 482.7h.01M95.3 487.6h.01M87.0 490.8h.01M97.9 498.5h.01M85.9 472.1h.01M95.0 465.7h.01M83.0 477.9h.01M90.7 510.8h.01M89.3 505.4h.01M91.7 505.5h.01M93.0 472.1h.01M88.3 489.0h.01M85.0 502.7h.01M103.2 473.3h.01M87.2 526.5h.01M94.8 521.7h.01M82.0 482.5h.01M86.3 490.4h.01M89.5 489.3h.01M99.8 471.7h.01M79.6 471.8h.01M98.7 516.8h.01M92.2 526.5h.01M102.8 482.4h.01M89.5 494.5h.01M95.0 478.0h.01M96.3 444.6h.01M99.9 452.6h.01M97.9 462.4h.01M87.9 526.5h.01M111.2 470.9h.01M79.1 486.9h.01M61.0 524.1h.01M77.0 464.0h.01M69.5 481.3h.01M101.5 514.6h.01M86.4 495.3h.01M95.7 462.2h.01M97.2 481.1h.01M91.3 519.0h.01M81.0 450.1h.01M93.7 526.5h.01M67.3 526.5h.01M88.9 494.1h.01M84.0 460.8h.01M96.5 518.1h.01M94.2 484.8h.01M79.5 522.8h.01M101.8 503.0h.01M104.5 481.4h.01M102.5 494.6h.01M93.6 516.9h.01M83.9 490.2h.01M93.0 500.4h.01M89.9 526.5h.01M108.5 504.4h.01M95.6 503.8h.01M91.8 526.5h.01M98.8 505.5h.01M79.2 494.1h.01M88.7 464.5h.01M101.3 521.4h.01M100.4 526.5h.01M75.6 482.4h.01M88.1 485.3h.01M100.5 480.3h.01M96.9 479.2h.01M72.6 513.9h.01M104.0 487.4h.01M92.1 515.2h.01M83.5 472.3h.01M104.1 498.6h.01M89.9 507.5h.01M99.0 501.8h.01M80.4 458.1h.01M103.5 497.3h.01M82.6 520.4h.01M83.0 497.2h.01M92.3 488.0h.01M85.0 488.7h.01M74.2 471.0h.01M92.8 492.4h.01M82.2 510.2h.01M104.0 480.7h.01M100.1 505.7h.01M83.3 484.1h.01M101.2 471.3h.01M72.7 471.6h.01M104.1 480.1h.01M93.2 497.2h.01M90.3 499.1h.01M76.1 492.9h.01M89.2 526.5h.01M74.4 523.2h.01M78.4 508.4h.01M93.6 468.2h.01M105.1 519.2h.01M87.9 525.8h.01M84.5 513.8h.01M93.3 484.7h.01M99.7 494.0h.01M102.7 456.4h.01M106.3 483.8h.01M78.7 521.7h.01M97.9 495.5h.01M83.0 479.2h.01M98.6 489.9h.01M86.4 516.5h.01M106.2 514.8h.01M83.2 516.8h.01M93.8 478.2h.01M95.3 514.6h.01M81.1 488.2h.01M89.3 524.5h.01M78.9 526.5h.01M84.2 489.5h.01M103.8 526.5h.01M70.7 485.9h.01M92.3 522.0h.01M75.2 472.1h.01M88.8 505.5h.01M95.0 499.9h.01M88.1 488.7h.01M89.8 511.2h.01M97.6 490.8h.01M103.9 453.6h.01M82.9 506.6h.01M103.8 493.0h.01M72.4 509.0h.01M92.9 474.7h.01M98.9 526.5h.01M97.0 492.6h.01M87.8 497.3h.01M68.7 505.3h.01M96.6 519.0h.01M82.1 487.4h.01M93.8 470.6h.01M92.8 500.2h.01M68.1 526.5h.01M82.9 481.3h.01M88.4 517.7h.01M93.2 476.4h.01M107.8 505.9h.01M86.4 502.6h.01M82.5 486.0h.01M99.5 507.7h.01M89.6 492.1h.01M92.1 526.5h.01M79.7 507.9h.01M68.8 483.8h.01M94.8 467.2h.01M88.2 524.2h.01M92.0 471.0h.01M89.3 522.0h.01M90.4 517.1h.01M81.6 470.2h.01M114.8 491.4h.01M75.7 500.5h.01M82.0 495.2h.01M77.6 482.1h.01M89.3 485.5h.01M97.5 517.9h.01M86.7 484.3h.01M63.9 477.1h.01M87.5 491.4h.01M90.5 488.9h.01M89.5 504.8h.01M60.1 487.3h.01M72.4 522.2h.01M85.8 503.1h.01M104.4 483.9h.01M78.8 502.1h.01M65.6 482.6h.01M87.0 467.5h.01M72.7 482.2h.01M74.2 499.1h.01M70.2 501.7h.01M91.8 480.8h.01M87.5 477.9h.01M79.1 499.1h.01M60.9 460.6h.01M61.2 470.5h.01M67.0 505.4h.01M72.0 467.9h.01M55.9 488.3h.01M89.0 500.8h.01M90.2 479.4h.01M71.4 462.4h.01M80.0 487.1h.01M74.4 510.4h.01M82.0 472.0h.01M85.2 492.8h.01M81.4 484.1h.01M86.8 479.9h.01M70.4 478.2h.01M68.5 510.7h.01M86.8 490.0h.01M91.5 484.3h.01M93.1 479.7h.01M60.3 462.4h.01M98.7 491.2h.01M67.1 518.5h.01M72.2 489.4h.01M88.9 452.0h.01M97.8 483.3h.01M71.7 494.9h.01M76.4 477.7h.01M72.2 498.0h.01M81.8 526.5h.01M80.1 469.8h.01M84.9 510.2h.01M69.8 484.1h.01M62.7 476.0h.01M82.6 480.8h.01M101.4 479.9h.01M72.9 496.6h.01M99.2 489.4h.01M82.2 459.8h.01M92.8 526.5h.01M80.7 473.9h.01M117.3 485.8h.01M75.2 478.1h.01M59.3 484.1h.01M75.7 431.5h.01M73.0 499.1h.01M89.3 498.7h.01M55.6 502.3h.01M90.8 516.7h.01M79.1 504.2h.01M71.5 489.9h.01M91.7 497.4h.01M90.2 479.9h.01M87.1 481.7h.01M90.8 487.4h.01M82.1 524.1h.01M73.1 481.3h.01M72.2 501.0h.01M83.1 507.3h.01M71.4 506.0h.01M68.7 473.0h.01M68.2 497.0h.01M53.0 502.3h.01M76.7 478.2h.01M70.6 457.6h.01M78.0 463.5h.01M89.2 485.7h.01M56.6 475.1h.01M80.8 480.4h.01M81.3 491.7h.01M74.1 511.7h.01M67.4 486.3h.01M93.4 479.5h.01M53.0 496.5h.01M53.0 511.5h.01M92.5 482.8h.01M86.8 492.4h.01M83.2 505.5h.01M84.2 467.8h.01M53.0 477.7h.01M86.6 484.9h.01M79.2 492.2h.01M82.9 520.9h.01M83.6 506.3h.01M74.0 519.3h.01M104.2 511.1h.01M93.6 483.5h.01M83.5 466.1h.01M67.7 503.2h.01M79.8 458.4h.01M81.7 484.4h.01M90.7 495.4h.01M85.2 518.0h.01M88.5 463.1h.01M81.3 497.2h.01M82.9 518.4h.01M85.7 484.0h.01M92.5 462.0h.01M102.6 491.5h.01M84.5 502.6h.01M63.1 493.8h.01M83.5 489.0h.01M85.3 508.0h.01M88.9 502.8h.01M83.6 481.2h.01M62.2 486.7h.01M90.9 463.8h.01M99.1 516.0h.01M100.2 475.6h.01M69.0 518.3h.01M103.1 499.3h.01M95.8 492.3h.01M74.9 479.7h.01M77.3 506.3h.01M80.8 493.0h.01M100.1 472.6h.01M75.0 488.3h.01M80.4 482.8h.01M91.5 474.2h.01M90.4 484.7h.01M65.5 475.2h.01M82.7 474.4h.01M91.1 467.2h.01M91.9 484.8h.01M90.7 483.9h.01M64.3 472.4h.01M71.9 501.1h.01M69.9 509.4h.01M68.2 499.6h.01M99.2 459.7h.01M92.8 486.9h.01M55.8 493.7h.01M94.3 497.5h.01M102.0 513.4h.01M78.0 497.5h.01M63.3 491.7h.01M89.4 503.5h.01M68.7 496.7h.01M71.8 501.9h.01M71.0 512.6h.01M74.9 481.1h.01M67.0 472.1h.01M53.0 485.4h.01M84.5 525.9h.01M67.1 495.6h.01M79.2 493.8h.01M58.8 492.1h.01M53.1 488.2h.01M67.0 486.8h.01M74.7 479.5h.01M96.1 505.2h.01M64.3 490.8h.01M59.8 516.7h.01M76.2 480.4h.01M97.6 477.1h.01M94.1 497.4h.01M91.2 484.9h.01M77.1 487.5h.01M84.6 495.5h.01M76.2 500.4h.01M74.7 463.4h.01M75.1 442.3h.01M90.4 475.6h.01M106.8 441.8h.01M56.9 484.0h.01M85.8 497.6h.01M109.3 497.6h.01M83.1 475.2h.01M69.6 492.7h.01M96.5 495.2h.01M85.3 474.8h.01M88.1 508.0h.01M82.9 461.5h.01M96.0 483.1h.01M106.3 487.8h.01M86.0 468.0h.01M103.6 474.4h.01M66.2 518.1h.01M78.4 503.5h.01M64.5 461.0h.01M86.2 491.8h.01M83.1 483.3h.01M83.0 495.6h.01M80.9 468.9h.01M58.3 499.5h.01M99.3 517.5h.01M108.0 492.9h.01M65.9 475.7h.01M69.1 478.9h.01M79.7 523.0h.01M84.1 489.0h.01M81.4 518.4h.01M82.8 483.3h.01M76.2 512.5h.01M83.3 515.3h.01M85.9 486.9h.01M75.7 525.3h.01M86.9 514.6h.01M79.8 492.9h.01M87.6 504.7h.01M88.2 496.7h.01M70.0 474.7h.01M74.3 472.3h.01M74.0 486.3h.01M66.0 499.6h.01M91.1 485.8h.01M79.8 520.1h.01M98.0 511.4h.01M82.4 472.0h.01M73.7 471.5h.01M61.6 497.3h.01M77.1 499.5h.01M86.5 485.8h.01M55.7 475.5h.01M69.1 490.6h.01M63.9 486.5h.01M64.8 473.4h.01M67.8 467.3h.01M79.4 476.1h.01M70.5 526.5h.01M86.9 461.8h.01M66.7 468.1h.01M79.5 483.8h.01M82.3 491.1h.01M94.1 487.8h.01M71.4 504.7h.01M60.2 486.1h.01M76.0 501.5h.01M69.5 523.5h.01M66.2 516.6h.01M67.1 460.1h.01M92.8 495.8h.01M92.1 474.3h.01M71.8 480.5h.01M101.5 484.4h.01M83.0 492.9h.01M81.1 463.1h.01M101.1 494.6h.01M69.1 474.4h.01M69.8 473.5h.01M67.8 501.5h.01M79.2 512.2h.01M69.8 473.6h.01M58.8 465.5h.01M90.8 509.9h.01M72.5 472.3h.01M68.7 517.8h.01M85.6 493.5h.01M76.1 486.0h.01M80.2 483.6h.01M79.3 462.0h.01M60.4 492.7h.01M65.8 497.4h.01M53.0 443.2h.01M86.2 491.1h.01M58.6 481.9h.01M91.1 486.5h.01M58.3 488.5h.01M75.7 497.6h.01M79.3 486.3h.01M77.0 499.2h.01M76.9 472.3h.01M94.6 491.7h.01M76.5 467.7h.01M82.1 473.8h.01M53.0 479.7h.01M69.3 506.1h.01M57.8 470.0h.01M60.6 470.4h.01M80.4 486.7h.01M83.3 487.9h.01M86.7 474.6h.01M84.5 487.4h.01M73.4 500.1h.01M89.4 511.1h.01M102.5 482.0h.01M57.4 518.6h.01M70.0 449.7h.01M91.3 497.5h.01M78.3 501.0h.01M88.2 506.4h.01M81.0 481.6h.01M69.8 508.1h.01M67.1 478.4h.01M87.7 515.1h.01M73.5 504.3h.01M95.2 489.0h.01M94.8 484.6h.01M78.3 489.1h.01M90.3 499.2h.01M73.9 520.3h.01M68.3 519.2h.01M53.0 474.5h.01M98.9 504.3h.01M74.3 468.5h.01M57.5 485.1h.01M82.8 490.8h.01M64.8 480.8h.01M86.8 492.0h.01M77.3 464.8h.01M53.0 499.5h.01M102.2 495.3h.01M96.6 467.1h.01M87.0 484.5h.01M63.1 486.9h.01M111.3 459.6h.01M75.0 466.2h.01M82.9 514.7h.01M53.0 492.8h.01M60.6 478.8h.01M83.7 458.2h.01M68.2 504.3h.01M84.7 478.3h.01M64.3 505.2h.01M91.6 510.3h.01M63.6 489.8h.01M88.2 499.7h.01M70.6 520.7h.01M74.0 517.6h.01M77.3 499.0h.01M98.9 491.2h.01M90.2 477.7h.01M78.3 485.0h.01M81.5 477.1h.01M75.3 454.6h.01M90.4 507.6h.01M63.4 461.1h.01M104.5 482.5h.01M78.7 482.2h.01M83.0 485.5h.01M82.4 473.7h.01M93.2 498.2h.01M91.3 474.2h.01M89.7 523.8h.01M53.0 502.0h.01M105.3 513.5h.01M85.9 511.5h.01M120.3 504.6h.01M73.4 477.3h.01M82.5 509.4h.01M82.0 451.6h.01M66.0 496.1h.01M82.3 496.6h.01M86.1 457.9h.01M103.1 526.5h.01M60.6 469.8h.01M82.8 491.0h.01M68.7 466.1h.01M82.3 514.1h.01M78.5 508.4h.01M71.6 508.2h.01M65.7 480.7h.01M73.4 455.7h.01M72.4 465.7h.01M81.3 492.4h.01M73.4 496.9h.01M94.9 488.8h.01M79.2 487.1h.01M63.5 446.1h.01M66.8 509.4h.01M92.3 470.5h.01M92.6 467.8h.01M70.1 488.0h.01M97.2 453.1h.01M61.6 457.2h.01M61.5 503.8h.01M78.2 498.8h.01M64.0 484.8h.01M82.6 477.8h.01M87.5 472.1h.01M86.3 493.9h.01M86.6 493.8h.01M90.2 496.4h.01M83.2 496.4h.01M54.7 473.2h.01M92.1 490.5h.01M56.6 473.0h.01M83.7 479.8h.01M74.2 504.9h.01M77.8 468.5h.01M77.9 501.8h.01M71.7 507.7h.01M101.5 505.2h.01M66.6 471.8h.01M122.2 501.2h.01M78.3 498.7h.01M77.1 513.1h.01M65.4 460.7h.01M55.3 513.8h.01M90.1 464.1h.01M95.5 492.3h.01M68.5 470.6h.01M61.5 483.4h.01M76.3 485.4h.01M77.5 505.1h.01M85.6 482.4h.01M93.2 509.5h.01M73.4 494.6h.01M60.5 481.1h.01M78.4 490.8h.01M81.7 519.1h.01M96.9 503.0h.01M69.7 456.1h.01M80.4 485.4h.01M90.7 469.3h.01M85.7 505.8h.01M63.4 501.8h.01M70.2 510.0h.01M80.4 455.8h.01M69.2 497.2h.01M62.7 459.9h.01M53.0 486.9h.01M92.7 508.0h.01M93.5 486.4h.01M62.9 486.7h.01M86.5 501.0h.01M59.0 473.0h.01M95.0 472.0h.01M140.9 485.5h.01M110.1 478.4h.01M98.6 498.0h.01M89.7 508.2h.01M85.3 490.4h.01M102.7 448.0h.01M83.5 468.7h.01M99.4 503.2h.01M125.9 499.3h.01M108.0 495.2h.01M113.4 467.8h.01M87.0 508.6h.01M106.2 504.7h.01M102.9 487.3h.01M92.7 526.5h.01M103.1 484.9h.01M76.2 488.0h.01M114.6 504.5h.01M93.8 526.2h.01M110.9 466.4h.01M101.7 471.1h.01M104.4 483.6h.01M111.5 482.7h.01M135.1 473.2h.01M93.0 507.2h.01M99.1 472.4h.01M90.2 482.3h.01M115.4 519.6h.01M109.6 470.0h.01M112.6 492.0h.01M131.6 478.5h.01M129.7 493.2h.01M120.7 482.3h.01M125.1 489.6h.01M86.9 488.1h.01M92.9 470.2h.01M107.1 503.8h.01M116.7 494.1h.01M87.8 524.5h.01M134.2 511.9h.01M93.9 479.4h.01M105.1 499.9h.01M100.9 481.1h.01M114.7 524.0h.01M78.0 475.7h.01M104.4 469.7h.01M90.1 476.2h.01M97.9 506.3h.01M104.9 484.2h.01M106.2 520.9h.01M103.1 505.7h.01M84.8 522.9h.01M94.8 469.5h.01M123.5 526.5h.01M95.5 469.9h.01M102.9 502.9h.01M95.1 509.7h.01M110.6 458.8h.01M80.5 516.9h.01M95.6 454.4h.01M108.0 454.6h.01M112.4 468.8h.01M103.8 485.1h.01M99.1 505.2h.01M114.8 471.7h.01M121.7 462.6h.01M94.6 479.8h.01M107.8 499.9h.01M81.5 502.1h.01M106.8 474.4h.01M100.7 499.4h.01M99.5 517.9h.01M117.2 510.8h.01M99.3 499.0h.01M108.3 506.8h.01M89.9 504.4h.01M124.3 501.4h.01M104.0 486.4h.01M114.4 487.3h.01M124.4 450.9h.01M98.9 502.3h.01M117.8 497.6h.01M111.5 499.5h.01M104.5 516.1h.01M122.7 507.0h.01M93.5 503.4h.01M130.6 507.6h.01M108.5 485.9h.01M114.5 500.8h.01M101.9 484.1h.01M111.9 526.5h.01M113.2 480.0h.01M123.6 493.6h.01M103.6 460.3h.01M84.6 511.8h.01M108.9 477.5h.01M98.0 493.1h.01M82.9 498.4h.01M126.3 475.7h.01M108.3 479.5h.01M114.2 491.3h.01M107.9 498.9h.01M106.7 515.5h.01M93.1 458.6h.01M117.0 520.6h.01M80.2 487.8h.01M131.1 478.2h.01M119.2 516.1h.01M83.5 460.4h.01M83.5 480.7h.01M87.1 494.6h.01M99.2 501.7h.01M111.3 481.3h.01M104.0 501.2h.01M101.5 485.1h.01M75.1 454.2h.01M104.1 478.9h.01M107.7 526.5h.01M95.5 472.8h.01M101.6 467.3h.01M101.7 490.5h.01M116.6 497.6h.01M86.2 505.8h.01M88.2 508.9h.01M103.5 499.8h.01M100.8 525.4h.01M98.4 490.4h.01M106.5 509.3h.01M113.7 487.1h.01M124.7 526.5h.01M94.9 521.9h.01M104.5 490.6h.01M126.0 458.8h.01M107.8 464.1h.01M104.0 468.1h.01M109.5 508.7h.01M93.4 475.5h.01M101.4 510.7h.01M115.2 494.8h.01M105.9 443.0h.01M126.9 517.3h.01M92.2 506.0h.01M128.2 511.5h.01M92.4 480.0h.01M96.7 489.6h.01M69.8 452.4h.01M93.7 466.8h.01M95.1 501.0h.01M121.2 496.0h.01M114.4 526.5h.01M116.0 473.3h.01M107.1 492.4h.01M113.0 511.4h.01M86.6 466.7h.01M112.0 497.7h.01M110.6 526.5h.01M95.6 485.3h.01M84.5 478.5h.01M94.7 466.8h.01M91.7 494.3h.01M98.4 492.6h.01M96.3 487.9h.01M102.5 498.0h.01M105.9 440.4h.01M93.9 494.4h.01M92.7 495.7h.01M90.2 494.7h.01M107.0 505.7h.01M92.6 463.9h.01M107.8 506.1h.01M86.6 495.0h.01M104.4 478.9h.01M102.0 498.1h.01M99.0 476.0h.01M86.2 482.6h.01M91.1 470.7h.01M108.6 462.8h.01M114.3 507.3h.01M91.8 477.0h.01M95.7 497.1h.01M187.5 399.4h.01M207.5 391.9h.01M184.8 381.7h.01M174.7 408.2h.01M184.0 417.2h.01M182.9 406.3h.01M187.6 383.6h.01M186.6 404.7h.01M186.7 386.0h.01M192.8 394.3h.01M192.2 412.7h.01M201.2 406.1h.01M194.8 418.1h.01M197.8 396.9h.01M167.9 408.3h.01M185.5 415.8h.01M183.7 414.7h.01M177.8 414.7h.01M196.6 401.4h.01M173.4 406.2h.01M189.6 422.1h.01M176.2 412.1h.01M184.2 419.9h.01M182.0 413.9h.01M185.3 396.4h.01M198.5 401.2h.01M188.0 393.0h.01M184.0 406.5h.01M195.5 379.0h.01M202.4 406.9h.01M176.4 407.0h.01M191.3 390.2h.01M180.7 403.2h.01M174.7 402.8h.01M195.0 412.6h.01M203.9 375.1h.01M189.9 408.7h.01M186.9 404.8h.01M187.1 407.5h.01M199.3 411.7h.01M188.7 419.0h.01M188.2 395.1h.01M173.7 411.0h.01M171.7 409.3h.01M184.5 432.2h.01M187.8 396.1h.01M200.0 381.7h.01M185.4 419.4h.01M205.0 409.8h.01M187.8 411.7h.01M194.2 403.3h.01M175.5 434.2h.01M199.7 386.9h.01M185.4 429.7h.01M193.8 399.9h.01M201.8 390.8h.01M189.3 392.3h.01M186.0 394.8h.01M188.9 428.6h.01M190.5 401.3h.01M175.6 421.0h.01M184.3 395.6h.01M179.8 421.6h.01M184.8 402.3h.01M200.7 398.2h.01M188.8 393.4h.01M189.9 381.2h.01M187.4 396.3h.01M192.5 385.0h.01M169.1 391.3h.01M182.4 409.0h.01M194.1 388.2h.01M185.3 408.6h.01M187.8 404.3h.01M173.8 405.1h.01M194.4 399.1h.01M179.8 399.6h.01M184.4 397.8h.01M175.4 397.0h.01M186.9 380.1h.01M207.4 412.7h.01M191.2 419.5h.01M199.9 410.6h.01M186.3 407.9h.01M172.2 410.3h.01M192.3 375.0h.01M186.2 422.7h.01M185.0 404.7h.01M191.9 403.5h.01M199.0 397.6h.01M204.0 398.9h.01M183.0 396.1h.01M182.7 396.6h.01M175.1 394.6h.01M191.5 398.6h.01M182.7 406.2h.01M167.8 409.6h.01M185.6 399.2h.01M186.0 402.4h.01M179.5 418.6h.01M212.4 404.1h.01M186.5 403.3h.01M178.1 410.7h.01M195.9 404.8h.01M191.7 388.8h.01M195.8 421.4h.01M187.7 402.3h.01M170.1 409.1h.01M186.2 392.7h.01M178.5 368.9h.01M197.3 403.0h.01M193.5 416.2h.01M203.5 373.3h.01M173.2 414.4h.01M198.5 390.9h.01M192.7 406.4h.01M197.4 408.8h.01M185.7 412.2h.01M195.6 402.5h.01M199.3 400.5h.01M188.1 420.2h.01M199.1 391.6h.01M192.3 411.4h.01M192.9 384.1h.01M199.0 408.8h.01M198.4 401.0h.01M201.8 413.5h.01M173.7 400.4h.01M191.6 401.8h.01M185.3 420.4h.01M180.1 395.2h.01M186.8 403.6h.01M186.9 422.2h.01M178.9 378.5h.01M192.6 400.4h.01M190.0 390.9h.01M186.3 419.9h.01M201.2 386.4h.01M185.5 404.6h.01M189.0 412.5h.01M174.5 432.0h.01M188.7 393.7h.01M198.3 419.9h.01M188.4 412.7h.01M182.9 404.8h.01M178.3 399.5h.01M187.0 414.0h.01M180.3 402.2h.01M185.2 398.5h.01M183.9 406.0h.01M192.9 411.8h.01M172.4 413.4h.01M181.7 395.5h.01M173.8 413.9h.01M175.9 416.5h.01M177.5 412.8h.01M190.3 402.0h.01M186.3 404.3h.01M193.0 416.4h.01M179.0 411.3h.01M200.2 384.1h.01M210.6 375.8h.01M174.9 405.5h.01M179.4 407.5h.01M174.4 414.5h.01M188.1 392.0h.01M178.6 402.1h.01M171.3 427.0h.01M175.1 421.9h.01M184.5 397.5h.01M196.0 397.5h.01M181.5 417.5h.01M195.1 395.1h.01M172.4 383.8h.01M173.9 397.9h.01M192.3 397.3h.01M188.5 398.5h.01M185.8 425.0h.01M180.3 421.5h.01M200.1 414.0h.01M194.4 398.5h.01M189.4 406.7h.01M185.2 411.0h.01M176.6 409.2h.01M177.0 404.9h.01M188.9 419.9h.01M185.4 399.5h.01M192.4 406.0h.01M189.6 383.1h.01M180.6 413.2h.01M178.9 380.3h.01M177.4 391.5h.01M186.6 404.8h.01M167.2 418.4h.01M175.0 405.5h.01M192.7 391.5h.01M206.9 402.2h.01M182.6 399.8h.01M167.8 425.4h.01M188.6 398.6h.01M197.3 397.6h.01M170.9 411.0h.01M188.0 396.6h.01M186.5 382.6h.01M183.4 395.5h.01M192.2 410.2h.01M189.0 406.5h.01M189.0 390.7h.01M189.9 409.9h.01M192.6 404.6h.01M180.6 395.6h.01M182.8 404.8h.01M204.6 388.3h.01M191.1 410.4h.01M202.0 404.3h.01M192.4 412.5h.01M189.5 394.8h.01M180.0 416.9h.01M199.0 409.7h.01M182.7 416.6h.01M165.2 417.5h.01M184.2 400.2h.01M190.9 425.8h.01M191.9 398.7h.01M186.2 415.6h.01M193.8 410.4h.01M177.1 424.7h.01M193.8 391.0h.01M185.3 401.4h.01M189.2 414.0h.01M186.1 415.1h.01M178.7 401.9h.01M183.6 396.2h.01M185.1 406.4h.01M192.1 405.2h.01M197.7 404.8h.01M174.7 410.7h.01M177.6 416.0h.01M189.9 394.4h.01M198.1 391.3h.01M169.5 410.0h.01M189.7 410.4h.01M188.8 413.1h.01M181.9 406.1h.01M185.1 414.3h.01M185.5 413.2h.01M189.2 400.5h.01M192.0 414.2h.01M189.9 377.8h.01M193.7 383.9h.01M193.4 397.1h.01M199.6 405.7h.01M186.3 393.9h.01M190.6 393.4h.01M183.4 403.1h.01M183.3 387.9h.01M182.8 403.0h.01M191.8 391.8h.01M201.1 415.4h.01M171.6 416.9h.01M176.1 390.4h.01M185.9 374.8h.01M181.4 412.3h.01M191.7 384.9h.01M186.0 395.1h.01M164.9 410.8h.01M192.5 399.4h.01M168.9 399.3h.01M177.5 399.9h.01M179.6 390.5h.01M201.6 428.7h.01M149.7 433.3h.01M167.5 380.6h.01M137.5 436.8h.01M126.9 432.0h.01M156.4 389.7h.01M165.8 387.5h.01M155.2 441.3h.01M178.7 423.5h.01M174.3 424.1h.01M138.5 441.6h.01M172.6 456.1h.01M167.2 417.4h.01M158.2 420.6h.01M148.6 395.6h.01M171.3 408.3h.01M161.0 423.8h.01M174.0 412.6h.01M141.0 368.2h.01M148.5 432.9h.01M179.0 427.0h.01M132.4 430.1h.01M137.3 410.5h.01M170.6 423.8h.01M162.7 410.3h.01M184.1 411.0h.01M158.4 417.4h.01M171.0 425.6h.01M154.5 428.1h.01M162.7 416.0h.01M149.2 426.2h.01M151.4 404.0h.01M148.2 423.8h.01M149.9 394.4h.01M164.2 405.6h.01M148.8 405.2h.01M161.8 450.6h.01M173.3 397.4h.01M142.7 408.1h.01M133.6 427.3h.01M163.6 413.8h.01M147.0 429.2h.01M153.7 405.6h.01M127.8 438.0h.01M159.6 430.6h.01M138.0 441.0h.01M141.9 436.9h.01M149.1 420.8h.01M154.2 368.5h.01M168.2 422.5h.01M137.4 403.1h.01M149.7 428.5h.01M176.7 435.0h.01M152.5 410.7h.01M124.3 401.4h.01M166.2 415.0h.01M154.8 435.3h.01M147.2 450.3h.01M146.9 414.7h.01M151.0 406.8h.01M148.8 402.1h.01M156.9 420.6h.01M162.9 395.4h.01M162.1 399.7h.01M126.0 416.6h.01M169.7 395.6h.01M145.2 403.0h.01M156.9 407.0h.01M150.8 426.2h.01M146.6 447.4h.01M152.4 406.5h.01M177.5 418.5h.01M150.1 460.0h.01M164.9 412.1h.01M168.4 413.0h.01M168.3 395.1h.01M163.3 373.7h.01M193.2 428.1h.01M165.9 397.9h.01M140.9 427.7h.01M142.3 420.2h.01M132.1 393.0h.01M139.1 411.1h.01M159.6 375.6h.01M165.8 382.4h.01M142.5 419.8h.01M141.2 384.8h.01M149.3 389.2h.01M193.1 408.1h.01M146.0 374.9h.01M170.9 425.8h.01M139.9 440.9h.01M110.6 430.6h.01M168.2 410.7h.01M133.2 428.8h.01M121.7 399.0h.01M133.7 400.6h.01M143.2 420.3h.01M153.2 426.6h.01M182.3 408.5h.01M179.3 517.6h.01M191.4 521.8h.01M189.6 520.7h.01M184.8 460.1h.01M178.8 447.7h.01M194.4 481.4h.01M188.2 495.7h.01M181.7 509.3h.01M188.3 516.4h.01M183.6 476.2h.01M190.5 490.2h.01M185.2 522.6h.01M197.5 490.5h.01M197.5 526.5h.01M184.9 498.6h.01M188.7 508.2h.01M194.9 479.4h.01M182.0 526.5h.01M184.0 479.5h.01M191.7 470.2h.01M190.9 466.8h.01M191.3 502.6h.01M187.8 465.9h.01M192.2 500.2h.01M183.5 502.2h.01M195.1 517.3h.01M182.6 521.4h.01M181.6 505.2h.01M191.4 491.6h.01M203.3 466.8h.01M182.4 519.0h.01M186.5 483.7h.01M179.8 492.1h.01M177.9 492.3h.01M197.5 482.8h.01M184.7 493.6h.01M188.9 525.8h.01M183.6 507.2h.01M185.0 516.5h.01M190.8 512.2h.01M192.9 526.5h.01M180.7 494.6h.01M182.9 489.0h.01M184.3 525.1h.01M189.2 449.7h.01M181.5 511.0h.01M179.1 509.1h.01M186.0 499.7h.01M189.5 501.1h.01M191.8 481.6h.01M187.7 485.0h.01M181.5 523.0h.01M196.5 496.4h.01M182.9 519.8h.01M190.2 482.6h.01M187.4 481.9h.01M190.7 467.8h.01M187.8 463.0h.01M183.0 508.8h.01M179.4 463.7h.01M197.6 456.8h.01M179.3 456.6h.01M187.3 501.4h.01M194.8 515.3h.01M186.6 503.8h.01M185.9 483.7h.01M190.6 513.7h.01M176.9 507.3h.01M182.9 479.6h.01M180.6 484.1h.01M193.3 508.5h.01M183.8 526.5h.01M187.5 492.9h.01M181.9 494.7h.01M174.9 510.8h.01M175.6 485.3h.01M178.6 507.4h.01M186.9 471.8h.01M188.5 474.1h.01M198.7 487.1h.01M182.1 470.5h.01M187.7 506.3h.01M185.2 503.8h.01M189.1 513.9h.01M178.8 521.4h.01M185.6 500.0h.01M181.3 502.9h.01M179.0 511.2h.01M190.3 512.7h.01M189.4 458.9h.01M190.4 456.1h.01M186.6 462.8h.01M177.2 489.6h.01M190.0 457.8h.01M193.5 485.3h.01M203.5 494.0h.01M197.6 498.5h.01M187.5 502.0h.01M182.5 505.9h.01M197.0 482.1h.01M180.1 491.3h.01M182.0 505.4h.01M193.9 496.8h.01M198.0 521.2h.01M191.1 518.8h.01M188.9 506.4h.01M200.8 494.7h.01M197.2 494.0h.01M194.5 493.2h.01M188.1 438.6h.01M196.7 483.2h.01M183.5 525.9h.01M192.9 494.3h.01M187.9 502.0h.01M179.5 515.7h.01M190.1 526.5h.01M181.9 438.4h.01M201.1 494.8h.01M178.4 496.3h.01M189.9 523.9h.01M190.1 491.9h.01M164.5 482.8h.01M176.9 516.4h.01M159.1 515.8h.01M135.9 526.5h.01M178.5 459.5h.01M171.9 485.2h.01M164.1 493.6h.01M174.3 467.2h.01M149.1 524.4h.01M202.3 526.5h.01M185.5 472.6h.01M165.0 466.6h.01M156.0 466.7h.01M164.3 448.4h.01M148.1 467.8h.01M168.6 445.6h.01M159.7 526.5h.01M142.7 489.4h.01M148.9 481.7h.01M148.1 455.5h.01M174.5 480.5h.01M173.8 484.7h.01M187.9 523.9h.01M128.6 482.7h.01M169.2 488.2h.01M170.5 516.6h.01M160.2 526.5h.01M147.2 508.4h.01M160.7 468.4h.01M182.4 497.3h.01M191.9 416.7h.01M196.9 526.5h.01M164.4 512.7h.01M195.5 505.7h.01M181.8 468.9h.01M163.9 504.3h.01M151.6 526.5h.01M165.9 468.6h.01M196.4 477.0h.01M138.0 452.1h.01M183.2 499.5h.01M195.4 463.4h.01M189.4 445.8h.01M156.2 470.5h.01M165.2 526.5h.01M171.8 476.2h.01M168.0 526.5h.01M171.0 473.1h.01M151.3 461.8h.01" fill="none" stroke="#000" stroke-width="1.45" stroke-linecap="square"/>
<g stroke="#1a1a1a" stroke-width="1" fill="none">
<path d="M52.5 316.5V527.5H262.7"/>
<path d="M127.5 316.5V527.5M52.5 454.5H262.7" stroke="#2a2a2a" stroke-width="1"/>
<path d="M52.5 526.0v3.5M53.0 527.5h-3.5M68.3 526.5v2.2M52.5 511.6h-2.2M77.6 526.5v2.2M52.5 502.3h-2.2M84.1 526.5v2.2M52.5 495.7h-2.2M89.2 526.5v2.2M52.5 490.6h-2.2M93.4 526.5v2.2M52.5 486.5h-2.2M96.9 526.5v2.2M52.5 482.9h-2.2M100.0 526.5v2.2M52.5 479.9h-2.2M102.6 526.5v2.2M52.5 477.2h-2.2M105.0 526.0v3.5M53.0 474.8h-3.5M120.9 526.5v2.2M52.5 458.9h-2.2M130.1 526.5v2.2M52.5 449.6h-2.2M136.7 526.5v2.2M52.5 443.0h-2.2M141.8 526.5v2.2M52.5 437.9h-2.2M145.9 526.5v2.2M52.5 433.7h-2.2M149.5 526.5v2.2M52.5 430.2h-2.2M152.5 526.5v2.2M52.5 427.1h-2.2M155.2 526.5v2.2M52.5 424.4h-2.2M157.6 526.0v3.5M53.0 422.0h-3.5M173.4 526.5v2.2M52.5 406.1h-2.2M182.7 526.5v2.2M52.5 396.8h-2.2M189.2 526.5v2.2M52.5 390.2h-2.2M194.3 526.5v2.2M52.5 385.1h-2.2M198.5 526.5v2.2M52.5 381.0h-2.2M202.0 526.5v2.2M52.5 377.4h-2.2M205.1 526.5v2.2M52.5 374.4h-2.2M207.7 526.5v2.2M52.5 371.7h-2.2M210.1 526.0v3.5M53.0 369.2h-3.5M226.0 526.5v2.2M52.5 353.4h-2.2M235.2 526.5v2.2M52.5 344.1h-2.2M241.8 526.5v2.2M52.5 337.5h-2.2M246.9 526.5v2.2M52.5 332.4h-2.2M251.0 526.5v2.2M52.5 328.2h-2.2M254.6 526.5v2.2M52.5 324.7h-2.2M257.6 526.5v2.2M52.5 321.6h-2.2M260.3 526.5v2.2M52.5 318.9h-2.2M262.7 526.0v3.5M53.0 316.5h-3.5" stroke-width="1"/>
</g>
<text class="tk" x="49.0" y="536.5">10<tspan class="sp" dy="-2.6">0</tspan></text>
<text class="tk" x="101.5" y="536.5">10<tspan class="sp" dy="-2.6">1</tspan></text>
<text class="tk" x="39.3" y="477.9">10<tspan class="sp" dy="-2.6">1</tspan></text>
<text class="tk" x="154.1" y="536.5">10<tspan class="sp" dy="-2.6">2</tspan></text>
<text class="tk" x="39.3" y="425.2">10<tspan class="sp" dy="-2.6">2</tspan></text>
<text class="tk" x="206.6" y="536.5">10<tspan class="sp" dy="-2.6">3</tspan></text>
<text class="tk" x="39.3" y="372.4">10<tspan class="sp" dy="-2.6">3</tspan></text>
<text class="tk" x="259.2" y="536.5">10<tspan class="sp" dy="-2.6">4</tspan></text>
<text class="tk" x="39.3" y="319.7">10<tspan class="sp" dy="-2.6">4</tspan></text>
<text class="pc" x="53.5" y="325.4">35.86%</text>
<text class="pc" text-anchor="end" x="260.7" y="324.8">11.64%</text>
<rect x="53.5" y="516.0" width="28.5" height="8.5" fill="#fff"/>
<text class="pc" x="54.5" y="522.7">47.03%</text>
<text class="pc" text-anchor="end" x="260.7" y="522.5">5.47%</text>
<text class="tt" text-anchor="middle" x="162.5" y="313.6">C57BL/10</text>
<path d="M352.1 415.2h.01M350.4 416.2h.01M361.4 438.3h.01M345.0 400.0h.01M352.0 407.2h.01M345.5 426.1h.01M335.9 415.6h.01M355.2 399.9h.01M345.9 420.0h.01M353.4 427.0h.01M343.7 448.1h.01M329.2 431.5h.01M338.4 417.4h.01M357.1 414.2h.01M346.2 424.2h.01M343.3 423.8h.01M339.1 419.7h.01M341.2 415.5h.01M326.9 420.2h.01M345.1 423.6h.01M334.4 428.3h.01M353.5 410.1h.01M350.3 413.0h.01M333.6 413.6h.01M339.4 403.1h.01M333.3 416.3h.01M345.7 441.7h.01M360.3 410.7h.01M338.0 433.7h.01M343.6 408.9h.01M331.6 432.4h.01M341.7 438.1h.01M344.1 433.8h.01M351.9 429.2h.01M338.5 440.0h.01M332.9 448.0h.01M352.3 426.9h.01M354.3 423.1h.01M345.1 401.2h.01M345.7 436.1h.01M347.2 408.0h.01M335.8 425.3h.01M340.3 440.5h.01M346.7 409.1h.01M343.7 414.1h.01M341.5 426.0h.01M348.5 430.7h.01M335.8 439.0h.01M348.2 423.7h.01M324.9 426.7h.01M348.9 408.7h.01M346.0 430.5h.01M357.7 425.3h.01M338.1 418.2h.01M351.7 442.8h.01M338.6 420.7h.01M343.0 444.3h.01M358.2 412.1h.01M344.2 403.4h.01M342.9 431.3h.01M350.0 416.1h.01M343.6 406.8h.01M334.9 432.5h.01M343.6 441.4h.01M341.0 421.9h.01M341.0 430.6h.01M358.1 426.0h.01M330.7 439.6h.01M340.9 440.9h.01M346.7 427.0h.01M339.8 426.7h.01M355.7 430.7h.01M345.5 415.3h.01M356.3 433.7h.01M348.3 427.4h.01M342.4 429.4h.01M343.0 427.4h.01M322.5 418.3h.01M349.3 399.0h.01M350.0 432.8h.01M342.7 424.2h.01M341.7 430.3h.01M360.4 422.8h.01M339.7 404.4h.01M326.7 419.6h.01M356.0 407.0h.01M344.2 429.6h.01M335.8 440.1h.01M344.9 448.1h.01M356.2 414.7h.01M347.5 429.7h.01M327.7 421.1h.01M345.5 395.0h.01M337.7 435.4h.01M330.0 423.8h.01M344.9 402.7h.01M352.7 431.8h.01M337.6 438.5h.01M353.1 420.3h.01M342.4 408.9h.01M345.2 422.5h.01M349.5 434.2h.01M322.5 416.6h.01M355.1 433.0h.01M348.8 429.2h.01M357.2 428.3h.01M344.7 415.6h.01M343.1 409.2h.01M337.2 411.5h.01M344.3 396.0h.01M315.7 435.8h.01M344.9 439.2h.01M348.2 413.2h.01M344.4 418.9h.01M346.8 441.1h.01M342.5 427.1h.01M336.2 419.9h.01M337.5 420.6h.01M342.8 437.4h.01M357.8 431.9h.01M338.4 435.7h.01M326.4 444.4h.01M320.2 441.1h.01M344.3 410.1h.01M324.3 412.6h.01M347.5 402.2h.01M351.3 399.3h.01M358.3 437.3h.01M344.6 425.4h.01M372.1 416.7h.01M351.3 438.1h.01M355.8 426.5h.01M353.5 396.6h.01M322.3 414.4h.01M337.5 436.7h.01M337.8 427.9h.01M360.9 416.7h.01M348.9 426.5h.01M353.9 401.2h.01M349.7 413.5h.01M348.7 408.5h.01M330.6 429.4h.01M336.3 426.3h.01M348.7 438.7h.01M375.1 422.8h.01M341.3 433.2h.01M347.9 433.7h.01M335.2 440.1h.01M340.1 448.2h.01M337.9 417.1h.01M364.0 418.1h.01M334.5 424.6h.01M347.6 420.1h.01M341.9 434.9h.01M374.1 424.7h.01M346.3 420.4h.01M354.5 406.2h.01M363.4 416.0h.01M353.1 438.3h.01M341.8 415.5h.01M346.0 417.1h.01M339.8 417.5h.01M344.9 423.5h.01M354.2 417.2h.01M339.6 436.1h.01M348.9 450.8h.01M363.7 438.6h.01M350.1 403.3h.01M357.0 434.4h.01M355.1 432.8h.01M335.7 402.1h.01M325.0 429.9h.01M343.3 414.9h.01M354.1 427.2h.01M337.0 425.5h.01M349.2 409.4h.01M348.9 430.0h.01M346.3 424.1h.01M344.9 403.6h.01M334.0 432.4h.01M352.1 428.0h.01M344.6 453.4h.01M333.2 418.9h.01M329.2 407.7h.01M352.1 398.3h.01M348.2 422.1h.01M325.1 401.0h.01M361.2 398.6h.01M331.9 437.3h.01M346.9 423.6h.01M338.8 409.1h.01M352.3 435.0h.01M348.5 434.3h.01M350.2 423.9h.01M362.0 420.3h.01M350.6 425.4h.01M338.7 421.3h.01M342.1 421.8h.01M353.4 411.7h.01M348.2 449.1h.01M338.3 421.1h.01M351.4 402.9h.01M337.5 430.2h.01M337.0 423.6h.01M346.6 441.5h.01M362.3 428.5h.01M349.5 392.8h.01M342.6 426.2h.01M357.8 422.9h.01M339.1 413.9h.01M355.6 445.7h.01M353.6 429.2h.01M342.7 424.0h.01M348.7 420.9h.01M329.9 416.7h.01M348.4 420.7h.01M352.3 421.1h.01M355.2 426.8h.01M344.0 424.6h.01M354.4 430.6h.01M337.3 417.1h.01M340.6 440.7h.01M341.1 427.9h.01M359.4 425.9h.01M332.9 445.3h.01M312.8 403.8h.01M361.0 430.8h.01M342.8 426.4h.01M336.5 433.9h.01M358.9 431.7h.01M352.7 439.4h.01M342.5 416.2h.01M364.0 410.8h.01M345.1 439.4h.01M348.0 422.0h.01M350.8 414.2h.01M349.9 429.5h.01M321.0 423.6h.01M331.8 420.3h.01M367.6 400.6h.01M343.7 416.2h.01M337.2 418.8h.01M327.4 444.2h.01M339.8 429.1h.01M353.8 439.5h.01M330.8 423.7h.01M355.1 433.1h.01M342.6 431.4h.01M337.8 431.0h.01M349.1 425.9h.01M335.7 419.5h.01M336.8 419.6h.01M355.7 406.7h.01M340.3 420.5h.01M349.6 415.7h.01M338.4 418.2h.01M346.8 426.1h.01M334.8 410.5h.01M342.6 439.8h.01M351.2 438.5h.01M343.0 421.5h.01M339.0 444.1h.01M337.2 417.3h.01M336.1 420.4h.01M333.0 424.0h.01M348.6 429.4h.01M339.4 425.3h.01M365.1 439.5h.01M337.7 420.7h.01M343.2 431.0h.01M351.7 424.3h.01M352.4 404.3h.01M333.0 408.5h.01M359.7 417.2h.01M349.9 414.0h.01M351.4 410.0h.01M356.6 426.6h.01M345.3 424.7h.01M348.4 397.5h.01M347.2 432.9h.01M350.8 424.8h.01M336.4 433.9h.01M349.5 421.4h.01M335.8 425.7h.01M348.4 396.0h.01M361.7 431.9h.01M336.7 427.9h.01M344.1 428.2h.01M331.1 413.3h.01M338.3 398.1h.01M345.8 416.7h.01M347.5 422.5h.01M344.6 447.7h.01M337.5 440.5h.01M340.0 412.6h.01M361.5 398.3h.01M352.3 425.6h.01M349.6 445.3h.01M321.9 444.0h.01M348.2 439.2h.01M355.9 414.9h.01M338.3 422.6h.01M362.8 396.3h.01M345.9 387.4h.01M351.6 443.5h.01M342.5 413.9h.01M347.6 414.0h.01M332.4 421.2h.01M356.4 402.5h.01M333.9 405.1h.01M336.8 453.3h.01M335.4 404.4h.01M337.6 432.3h.01M322.1 420.2h.01M345.3 413.7h.01M359.6 422.6h.01M316.2 428.7h.01M336.1 400.0h.01M345.4 417.9h.01M328.1 430.3h.01M352.7 391.8h.01M321.3 408.3h.01M340.3 408.9h.01M333.0 405.4h.01M333.7 435.3h.01M346.9 425.7h.01M368.3 416.8h.01M370.5 403.4h.01M342.0 408.7h.01M355.8 425.7h.01M341.2 431.1h.01M356.5 416.9h.01M339.4 442.4h.01M350.4 438.2h.01M333.8 425.2h.01M349.1 404.7h.01M339.8 384.3h.01M328.1 427.5h.01M361.5 443.8h.01M343.7 407.5h.01M339.4 420.1h.01M349.7 415.2h.01M345.7 444.3h.01M346.2 423.3h.01M351.2 412.6h.01M335.1 415.2h.01M326.3 430.7h.01M341.0 415.1h.01M329.5 420.1h.01M343.5 409.1h.01M343.8 430.0h.01M336.6 419.1h.01M317.1 422.2h.01M354.6 430.6h.01M335.3 421.7h.01M338.2 439.9h.01M342.3 440.0h.01M342.8 411.7h.01M343.3 412.7h.01M342.4 428.6h.01M344.8 415.8h.01M345.0 427.2h.01M350.8 429.3h.01M352.1 425.9h.01M356.3 422.2h.01M353.3 427.4h.01M330.9 419.4h.01M345.4 416.0h.01M344.7 426.9h.01M332.2 441.7h.01M343.2 398.4h.01M345.3 412.9h.01M371.8 430.8h.01M334.4 404.5h.01M330.5 421.3h.01M357.7 411.9h.01M344.7 421.2h.01M328.2 436.7h.01M344.5 423.6h.01M335.2 425.6h.01M344.0 416.3h.01M337.9 431.8h.01M324.1 430.2h.01M352.6 427.6h.01M342.1 410.0h.01M347.8 422.0h.01M346.9 437.9h.01M343.1 419.0h.01M352.6 425.6h.01M339.6 425.4h.01M337.3 417.6h.01M340.2 410.5h.01M352.5 414.4h.01M345.7 406.3h.01M352.7 406.6h.01M357.3 426.0h.01M335.0 429.2h.01M338.9 422.5h.01M335.1 415.2h.01M345.9 418.0h.01M369.1 424.8h.01M345.9 419.9h.01M342.5 420.8h.01M345.5 418.1h.01M352.1 419.4h.01M336.5 427.6h.01M348.0 422.1h.01M342.8 418.5h.01M350.9 420.8h.01M339.8 424.3h.01M356.9 421.4h.01M351.3 409.6h.01M380.8 418.8h.01M345.5 430.2h.01M330.4 420.6h.01M364.3 415.4h.01M342.3 426.7h.01M345.5 421.9h.01M346.1 409.7h.01M330.9 428.6h.01M318.8 419.0h.01M353.0 400.3h.01M362.8 437.9h.01M344.2 405.4h.01M355.2 417.7h.01M345.8 426.2h.01M340.7 429.8h.01M341.8 434.6h.01M346.8 436.3h.01M334.2 425.1h.01M330.1 402.2h.01M324.6 428.4h.01M342.0 439.7h.01M348.4 404.8h.01M345.4 406.1h.01M356.5 418.6h.01M354.0 433.6h.01M356.9 416.1h.01M346.2 421.2h.01M347.6 427.8h.01M351.2 404.9h.01M349.5 401.7h.01M345.8 421.2h.01M354.5 408.0h.01M353.1 420.1h.01M338.2 412.7h.01M354.8 422.9h.01M339.5 405.1h.01M342.5 415.6h.01M355.3 416.2h.01M345.3 431.1h.01M354.8 432.9h.01M338.1 414.1h.01M365.2 430.9h.01M339.1 391.6h.01M337.4 432.1h.01M347.2 433.2h.01M340.6 406.0h.01M336.5 426.8h.01M348.0 429.6h.01M348.8 418.1h.01M347.1 417.4h.01M358.5 409.2h.01M356.1 418.7h.01M360.1 449.6h.01M346.5 421.8h.01M348.0 421.5h.01M327.8 411.4h.01M345.5 426.2h.01M362.3 441.8h.01M336.2 404.5h.01M356.3 432.0h.01M345.6 423.7h.01M366.9 398.3h.01M350.4 413.1h.01M336.5 426.5h.01M359.0 433.1h.01M346.4 421.5h.01M354.4 430.6h.01M336.6 433.2h.01M339.8 410.0h.01M332.4 387.3h.01M338.7 419.6h.01M353.5 411.2h.01M352.9 426.4h.01M341.1 419.9h.01M347.4 410.9h.01M336.7 398.8h.01M353.2 429.6h.01M334.0 421.2h.01M338.0 429.4h.01M335.8 420.5h.01M359.3 445.5h.01M333.9 411.2h.01M351.0 421.4h.01M344.5 438.2h.01M347.8 406.1h.01M329.8 425.5h.01M342.2 418.7h.01M347.2 409.4h.01M354.7 435.6h.01M339.4 410.5h.01M341.8 430.9h.01M366.1 417.5h.01M338.8 389.0h.01M344.5 411.2h.01M343.6 444.0h.01M346.5 418.4h.01M348.6 418.1h.01M338.4 454.8h.01M344.3 419.4h.01M350.8 394.9h.01M326.3 421.2h.01M346.6 418.5h.01M355.4 410.5h.01M330.7 414.3h.01M343.7 432.3h.01M329.6 423.8h.01M335.3 404.2h.01M343.7 420.0h.01M359.7 439.8h.01M344.1 423.7h.01M345.6 446.5h.01M340.4 435.0h.01M342.4 420.7h.01M348.6 413.1h.01M344.0 411.3h.01M365.1 427.3h.01M345.7 397.5h.01M341.7 430.5h.01M350.1 433.2h.01M341.0 428.3h.01M342.8 419.2h.01M346.7 409.3h.01M336.1 408.4h.01M355.5 404.1h.01M336.5 414.7h.01M341.0 432.2h.01M343.3 426.3h.01M346.8 426.6h.01M359.0 394.1h.01M331.1 434.9h.01M342.8 433.5h.01M357.2 423.5h.01M354.3 434.8h.01M355.4 447.8h.01M332.8 414.2h.01M328.7 432.8h.01M341.6 417.5h.01M357.9 412.9h.01M342.9 426.1h.01M341.1 433.5h.01M364.5 437.4h.01M343.4 420.3h.01M326.3 436.8h.01M335.2 405.9h.01M344.9 401.2h.01M344.7 425.8h.01M353.7 421.6h.01M356.8 435.8h.01M345.2 420.1h.01M348.9 440.9h.01M340.5 438.9h.01M338.9 421.4h.01M349.0 421.7h.01M363.6 416.2h.01M353.2 402.9h.01M347.8 408.0h.01M345.7 412.1h.01M337.4 422.9h.01M338.2 406.3h.01M352.7 422.2h.01M328.6 442.6h.01M340.5 427.8h.01M348.0 422.1h.01M348.8 432.1h.01M359.8 421.6h.01M344.9 425.5h.01M334.1 436.5h.01M358.8 409.9h.01M328.0 419.4h.01M356.4 432.2h.01M332.5 412.0h.01M348.3 421.2h.01M336.2 414.2h.01M349.9 428.6h.01M334.3 401.5h.01M338.9 417.7h.01M349.7 424.6h.01M348.3 445.5h.01M330.1 433.6h.01M354.9 413.0h.01M357.5 403.2h.01M346.1 428.8h.01M333.8 420.2h.01M339.8 408.0h.01M356.5 416.3h.01M338.9 408.7h.01M346.3 399.5h.01M355.2 421.7h.01M349.9 446.2h.01M346.9 410.8h.01M344.2 425.3h.01M348.1 407.9h.01M344.0 406.3h.01M320.3 417.8h.01M364.9 429.5h.01M338.9 417.0h.01M332.4 433.6h.01M347.1 422.0h.01M344.1 414.5h.01M339.3 410.9h.01M336.5 430.2h.01M338.2 414.4h.01M341.2 428.2h.01M347.9 410.8h.01M326.8 396.1h.01M362.4 425.4h.01M348.0 415.4h.01M345.9 404.0h.01M350.2 424.2h.01M363.1 412.2h.01M359.2 409.5h.01M352.3 408.0h.01M365.3 438.9h.01M329.2 420.3h.01M338.1 432.5h.01M339.3 408.0h.01M352.1 410.1h.01M351.3 424.2h.01M341.2 432.8h.01M356.4 430.8h.01M346.5 445.6h.01M336.1 418.5h.01M345.0 416.8h.01M332.1 425.1h.01M343.0 416.7h.01M339.1 414.3h.01M335.7 426.3h.01M334.7 427.9h.01M334.4 424.6h.01M351.9 436.9h.01M337.0 439.0h.01M332.4 405.0h.01M355.0 419.0h.01M351.3 430.9h.01M355.2 406.1h.01M339.7 431.2h.01M337.4 389.3h.01M359.9 420.2h.01M344.3 424.6h.01M359.7 442.2h.01M350.8 426.7h.01M338.1 437.9h.01M340.9 427.1h.01M349.6 409.5h.01M362.7 436.1h.01M355.8 431.9h.01M330.6 419.6h.01M348.8 413.8h.01M363.2 414.3h.01M343.1 437.6h.01M351.2 444.3h.01M343.3 443.1h.01M342.8 432.1h.01M356.0 422.2h.01M346.2 446.6h.01M336.6 425.9h.01M349.8 419.3h.01M340.9 405.9h.01M346.9 407.7h.01M348.3 433.6h.01M335.4 418.5h.01M345.2 401.3h.01M342.5 441.7h.01M340.8 421.2h.01M355.2 407.5h.01M331.0 431.2h.01M357.9 406.1h.01M344.6 410.7h.01M348.1 408.8h.01M339.3 412.0h.01M363.2 407.7h.01M347.2 455.6h.01M350.5 430.7h.01M344.2 422.2h.01M352.6 417.5h.01M337.1 406.3h.01M331.6 431.2h.01M342.5 443.0h.01M357.8 424.5h.01M346.3 421.5h.01M350.0 414.5h.01M336.7 431.1h.01M354.4 430.6h.01M337.9 428.2h.01M358.2 434.2h.01M327.6 415.8h.01M345.3 413.0h.01M356.6 439.0h.01M338.9 431.0h.01M345.0 432.0h.01M327.9 408.9h.01M329.5 435.1h.01M366.7 438.3h.01M337.0 422.6h.01M338.6 413.8h.01M354.7 427.1h.01M341.9 412.3h.01M356.1 413.7h.01M336.9 434.8h.01M346.7 418.1h.01M339.9 398.9h.01M331.6 423.9h.01M345.5 424.9h.01M355.0 414.9h.01M349.2 410.0h.01M355.6 418.8h.01M350.8 411.9h.01M356.0 430.1h.01M330.5 443.0h.01M334.7 421.1h.01M358.2 434.8h.01M347.4 418.2h.01M347.0 439.1h.01M329.3 420.4h.01M354.7 412.9h.01M347.9 403.1h.01M345.0 424.9h.01M337.9 432.4h.01M340.9 440.1h.01M339.5 435.3h.01M341.9 425.5h.01M335.1 444.0h.01M359.1 413.9h.01M344.7 432.6h.01M332.7 418.7h.01M348.5 418.6h.01M354.1 437.8h.01M348.8 441.0h.01M341.7 412.9h.01M346.1 442.1h.01M329.8 440.5h.01M337.4 415.7h.01M337.5 425.5h.01M344.3 404.8h.01M339.4 392.3h.01M334.0 427.7h.01M336.6 421.4h.01M347.4 417.6h.01M349.3 428.2h.01M359.9 412.3h.01M338.8 426.4h.01M341.3 439.6h.01M353.3 447.8h.01M340.5 420.8h.01M337.5 411.3h.01M358.3 418.6h.01M344.4 424.6h.01M342.1 427.8h.01M330.7 405.8h.01M342.5 441.0h.01M363.8 443.4h.01M352.8 426.0h.01M344.0 417.6h.01M345.2 423.5h.01M344.3 442.2h.01M346.5 434.3h.01M363.3 430.7h.01M356.7 401.9h.01M347.3 414.1h.01M340.6 417.9h.01M319.1 404.4h.01M353.8 450.8h.01M327.0 419.2h.01M360.9 431.4h.01M328.4 428.2h.01M347.9 415.5h.01M356.3 421.4h.01M339.0 409.5h.01M356.5 389.2h.01M341.0 430.9h.01M353.9 398.3h.01M332.6 403.3h.01M331.0 396.4h.01M334.3 409.5h.01M352.2 437.0h.01M339.4 423.2h.01M331.9 421.5h.01M335.7 427.5h.01M348.4 415.2h.01M331.2 410.3h.01M327.8 435.9h.01M333.3 404.7h.01M343.6 412.2h.01M340.0 378.5h.01M357.0 441.0h.01M344.2 434.0h.01M339.4 425.0h.01M348.6 399.3h.01M348.0 436.6h.01M353.7 421.6h.01M356.3 426.3h.01M326.9 416.2h.01M353.9 428.6h.01M347.4 411.4h.01M317.5 431.8h.01M352.9 455.4h.01M333.3 419.3h.01M378.7 400.5h.01M352.1 417.5h.01M341.7 413.0h.01M335.5 431.0h.01M342.9 420.9h.01M353.7 428.5h.01M359.2 419.5h.01M341.1 415.5h.01M342.4 423.1h.01M316.0 432.6h.01M322.9 397.7h.01M353.3 441.3h.01M348.9 412.5h.01M341.9 397.8h.01M351.6 442.3h.01M340.0 451.3h.01M346.1 437.8h.01M347.6 426.4h.01M358.5 432.6h.01M348.9 422.9h.01M348.0 420.7h.01M355.3 411.0h.01M348.4 431.8h.01M338.4 422.0h.01M333.8 409.2h.01M354.5 411.3h.01M330.6 428.1h.01M358.8 408.9h.01M353.8 445.2h.01M338.2 451.3h.01M338.8 428.4h.01M349.7 452.9h.01M349.2 428.3h.01M344.9 413.2h.01M340.9 391.3h.01M353.5 408.9h.01M348.3 441.1h.01M334.4 408.7h.01M342.9 433.0h.01M334.7 419.3h.01M347.7 426.2h.01M348.9 412.1h.01M333.7 403.3h.01M338.4 429.4h.01M327.5 445.8h.01M311.0 457.8h.01M341.9 439.9h.01M339.5 416.6h.01M324.2 446.9h.01M334.2 435.3h.01M328.1 444.9h.01M346.4 405.8h.01M370.3 448.6h.01M349.7 435.5h.01M333.5 445.2h.01M381.8 427.9h.01M314.5 429.0h.01M335.9 447.1h.01M312.1 421.5h.01M328.7 447.3h.01M354.8 433.1h.01M354.0 431.4h.01M336.3 387.7h.01M318.0 408.8h.01M342.5 430.6h.01M314.5 429.9h.01M331.8 436.1h.01M323.9 415.9h.01M356.2 424.1h.01M352.4 412.8h.01M329.7 422.9h.01M316.1 441.8h.01M309.3 433.1h.01M302.0 441.3h.01M334.4 449.2h.01M370.3 416.3h.01M333.9 405.3h.01M325.3 429.7h.01M334.3 442.9h.01M342.6 446.3h.01M321.2 431.2h.01M314.7 425.4h.01M302.0 426.6h.01M334.4 420.1h.01M326.1 397.6h.01M321.6 417.6h.01M337.4 436.6h.01M325.4 425.8h.01M339.8 412.2h.01M351.6 465.1h.01M340.2 419.6h.01M337.3 449.4h.01M356.2 404.1h.01M339.2 415.2h.01M325.4 433.2h.01M343.0 423.3h.01M318.0 424.7h.01M314.7 459.7h.01M305.2 439.1h.01M335.3 428.4h.01M314.5 419.4h.01M327.2 418.5h.01M328.8 430.2h.01M325.2 436.1h.01M346.3 418.5h.01M346.3 429.2h.01M323.1 436.5h.01M353.1 422.3h.01M302.0 442.0h.01M350.9 408.1h.01M330.6 436.3h.01M302.0 442.0h.01M345.9 442.5h.01M359.7 409.0h.01M349.9 468.7h.01M302.0 421.2h.01M345.4 414.9h.01M302.0 433.4h.01M335.8 414.7h.01M337.1 444.1h.01M350.7 435.2h.01M310.4 422.1h.01M302.0 408.4h.01M335.5 437.4h.01M332.1 427.3h.01M302.0 404.4h.01M311.7 416.8h.01M321.7 466.7h.01M350.5 408.9h.01M320.3 417.4h.01M321.7 417.9h.01M302.0 448.3h.01M344.5 438.8h.01M334.1 435.6h.01M325.7 391.6h.01M334.4 427.6h.01M308.4 386.7h.01M352.7 408.7h.01M328.4 414.6h.01M362.5 400.2h.01M351.1 381.4h.01M348.7 418.1h.01M302.0 428.1h.01M330.7 397.9h.01M338.4 426.5h.01M340.7 401.7h.01M318.4 409.5h.01M334.2 417.4h.01M313.8 451.9h.01M322.3 446.8h.01M347.0 414.0h.01M302.0 430.6h.01M344.2 448.2h.01M339.0 434.9h.01M320.6 413.9h.01M390.2 447.7h.01M307.9 432.5h.01M340.3 394.6h.01M326.9 437.3h.01M362.2 456.4h.01M325.7 421.3h.01M323.7 431.2h.01M347.7 408.3h.01M328.9 416.5h.01M318.1 417.9h.01M365.4 458.8h.01M358.8 397.1h.01M337.8 470.8h.01M339.8 414.3h.01M343.1 422.5h.01M324.9 431.9h.01M340.9 424.1h.01M331.9 408.7h.01M331.4 440.2h.01M333.9 424.1h.01M306.0 447.8h.01M311.1 439.6h.01M325.7 441.9h.01M351.2 421.6h.01M302.0 390.1h.01M314.5 410.5h.01M337.6 463.3h.01M344.4 424.8h.01M356.9 423.9h.01M348.0 434.1h.01M302.0 445.0h.01M364.4 421.1h.01M346.4 436.8h.01M327.6 420.6h.01M350.6 415.8h.01M322.6 442.8h.01M349.3 455.9h.01M321.9 403.2h.01M352.3 399.6h.01M325.0 423.5h.01M363.7 428.0h.01M310.6 427.0h.01M356.7 394.8h.01M308.6 446.2h.01M334.8 409.1h.01M328.8 428.8h.01M311.7 417.2h.01M358.9 433.4h.01M352.9 426.9h.01M322.4 433.1h.01M316.0 434.2h.01M327.0 422.2h.01M327.7 410.3h.01M357.4 400.2h.01M336.6 404.6h.01M349.0 423.5h.01M335.9 436.1h.01M339.1 430.9h.01M339.2 433.9h.01M324.3 422.2h.01M328.2 414.6h.01M322.8 451.5h.01M306.6 458.1h.01M323.1 438.8h.01M332.6 424.3h.01M342.7 458.3h.01M330.5 427.0h.01M322.9 464.2h.01M353.8 447.9h.01M333.2 393.5h.01M341.3 395.4h.01M321.3 445.1h.01M322.1 415.3h.01M302.0 440.5h.01M340.1 418.8h.01M339.2 398.6h.01M315.8 431.1h.01M348.5 427.0h.01M310.4 418.7h.01M352.7 416.8h.01M337.1 435.4h.01M322.7 428.0h.01M302.0 417.1h.01M333.2 439.0h.01M356.0 418.9h.01M341.0 425.3h.01M318.4 413.5h.01M331.5 427.6h.01M319.0 476.9h.01M332.0 439.4h.01M327.7 477.7h.01M302.0 421.1h.01M335.8 448.9h.01M331.5 409.6h.01M360.7 439.3h.01M327.8 422.9h.01M327.9 430.3h.01M302.0 429.8h.01M321.5 436.1h.01M338.3 408.5h.01M356.6 441.0h.01M316.2 408.5h.01M320.0 433.5h.01M355.0 411.2h.01M318.4 436.6h.01M331.4 426.4h.01M330.1 421.5h.01M363.6 444.8h.01M326.4 449.8h.01M366.1 435.8h.01M337.8 418.5h.01M334.5 431.2h.01M355.7 410.3h.01M303.1 418.3h.01M338.9 391.3h.01M328.6 412.7h.01M312.1 429.7h.01M353.0 402.9h.01M336.3 424.2h.01M343.8 427.3h.01M320.9 443.1h.01M339.9 408.8h.01M302.0 414.4h.01M335.7 440.9h.01M321.9 420.2h.01M302.0 418.9h.01M334.1 416.5h.01M330.2 409.5h.01M315.8 431.9h.01M304.2 427.2h.01M353.2 416.8h.01M323.1 412.0h.01M308.6 416.5h.01M309.1 422.8h.01M321.9 406.5h.01M332.2 444.5h.01M345.7 421.6h.01M331.1 407.8h.01M327.1 438.2h.01M345.0 450.5h.01M304.5 454.3h.01M338.2 454.0h.01M331.4 448.3h.01M330.9 407.4h.01M337.0 417.3h.01M330.6 435.6h.01M345.1 437.9h.01M348.5 398.6h.01M351.9 411.4h.01M332.9 419.0h.01M310.7 442.0h.01M313.1 416.4h.01M357.2 386.1h.01M302.0 443.2h.01M323.9 440.3h.01M331.0 417.6h.01M343.7 413.7h.01M321.4 430.4h.01M311.7 400.6h.01M302.0 442.9h.01M365.7 447.4h.01M319.9 417.1h.01M313.6 426.3h.01M349.9 425.0h.01M330.9 368.6h.01M336.8 404.9h.01M326.9 432.8h.01M333.5 439.7h.01M358.9 385.7h.01M303.7 456.1h.01M340.2 413.7h.01M326.8 426.8h.01M350.5 420.9h.01M331.6 402.7h.01M358.0 434.9h.01M323.3 402.7h.01M331.4 442.6h.01M373.2 461.3h.01M325.2 419.4h.01M314.4 435.3h.01M318.4 437.4h.01M337.9 434.6h.01M314.6 447.8h.01M328.6 405.3h.01M331.5 430.4h.01M333.3 444.2h.01M353.9 468.3h.01M330.6 449.2h.01M302.0 461.2h.01M331.9 450.2h.01M328.1 437.2h.01M343.7 416.4h.01M322.1 375.3h.01M342.5 424.6h.01M328.4 449.5h.01M338.8 431.7h.01M302.0 430.3h.01M327.2 445.2h.01M323.5 405.4h.01M328.3 460.8h.01M316.8 450.7h.01M329.4 390.9h.01M343.7 470.1h.01M340.7 408.2h.01M328.6 411.5h.01M384.4 437.5h.01M302.0 442.4h.01M340.7 409.0h.01M321.5 426.2h.01M363.7 418.0h.01M318.8 444.9h.01M321.0 408.6h.01M330.0 442.4h.01M335.2 420.8h.01M358.5 452.7h.01M303.5 406.6h.01M315.8 423.6h.01M335.6 426.1h.01M333.8 435.7h.01M309.3 388.0h.01M337.9 450.1h.01M336.0 420.1h.01M342.7 421.7h.01M309.0 420.7h.01M346.4 433.5h.01M345.0 418.6h.01M342.7 453.4h.01M326.7 418.7h.01M354.9 429.5h.01M311.6 420.2h.01M356.4 434.3h.01M366.4 439.3h.01M337.4 446.8h.01M321.8 447.1h.01M331.3 423.3h.01M340.0 419.5h.01M312.6 411.7h.01M342.2 433.3h.01M334.4 440.9h.01M316.9 420.6h.01M362.2 410.8h.01M356.0 423.1h.01M342.4 432.2h.01M328.4 430.0h.01M350.2 415.5h.01M315.9 443.5h.01M325.9 425.0h.01M329.7 420.4h.01M302.0 426.3h.01M324.7 403.8h.01M322.9 432.3h.01M364.1 418.3h.01M357.1 419.9h.01M341.4 423.5h.01M346.5 430.6h.01M326.1 400.4h.01M350.8 401.2h.01M322.2 459.8h.01M337.4 429.6h.01M335.4 432.5h.01M327.0 434.2h.01M330.2 422.2h.01M341.5 439.5h.01M339.4 445.2h.01M366.6 458.9h.01M335.0 408.7h.01M353.7 430.3h.01M347.1 421.9h.01M348.6 408.4h.01M336.4 404.3h.01M369.4 423.8h.01M302.0 451.2h.01M350.8 453.0h.01M313.4 435.3h.01M357.1 425.4h.01M340.5 424.8h.01M328.2 453.2h.01M319.9 429.3h.01M344.0 429.5h.01M348.7 393.5h.01M354.0 407.7h.01M329.9 422.7h.01M342.1 425.5h.01M326.2 441.0h.01M370.4 418.0h.01M322.0 418.4h.01M333.6 469.8h.01M350.7 488.9h.01M337.0 488.0h.01M337.3 498.2h.01M358.0 529.5h.01M329.3 501.7h.01M336.2 486.5h.01M325.0 478.2h.01M339.0 487.4h.01M332.8 483.5h.01M336.6 509.9h.01M335.1 442.9h.01M354.8 521.0h.01M342.7 471.5h.01M352.2 514.6h.01M346.7 488.5h.01M328.1 489.2h.01M343.5 523.6h.01M342.2 510.9h.01M339.7 477.8h.01M332.8 508.8h.01M364.2 529.5h.01M352.2 442.1h.01M349.4 489.0h.01M342.4 505.0h.01M344.9 523.2h.01M347.0 529.5h.01M342.7 463.6h.01M339.1 500.4h.01M361.4 469.1h.01M343.9 498.6h.01M349.1 459.0h.01M353.8 497.5h.01M338.5 529.5h.01M354.4 482.1h.01M347.0 528.0h.01M341.4 519.1h.01M344.2 500.0h.01M350.7 446.3h.01M336.1 520.5h.01M346.9 486.7h.01M344.3 519.0h.01M347.9 489.0h.01M335.5 503.8h.01M341.0 492.4h.01M332.7 517.5h.01M340.8 480.1h.01M365.1 501.3h.01M353.5 496.1h.01M355.6 520.3h.01M349.3 529.5h.01M341.1 476.1h.01M363.1 529.5h.01M365.3 529.5h.01M336.9 518.1h.01M346.8 503.2h.01M351.8 524.1h.01M354.6 478.3h.01M346.7 486.4h.01M350.4 517.3h.01M339.4 513.8h.01M352.5 497.3h.01M333.9 489.0h.01M344.4 435.9h.01M344.2 477.6h.01M340.3 473.3h.01M352.5 491.0h.01M333.6 478.1h.01M351.4 503.2h.01M348.6 477.1h.01M348.5 500.7h.01M344.9 452.9h.01M345.9 493.8h.01M343.1 482.9h.01M343.9 444.5h.01M345.8 529.5h.01M347.1 502.0h.01M338.1 529.5h.01M334.2 462.6h.01M344.9 483.0h.01M337.5 521.2h.01M351.9 474.2h.01M337.2 527.5h.01M342.4 519.5h.01M342.9 487.5h.01M328.9 478.0h.01M337.3 463.6h.01M347.5 507.6h.01M336.9 521.9h.01M331.1 499.1h.01M353.1 474.5h.01M360.7 496.3h.01M339.7 517.3h.01M325.5 481.8h.01M352.8 529.5h.01M362.4 529.5h.01M334.6 508.3h.01M340.5 454.2h.01M330.8 499.0h.01M352.6 517.7h.01M341.7 474.4h.01M353.0 463.4h.01M333.8 476.7h.01M334.7 448.9h.01M353.4 454.8h.01M332.9 516.1h.01M343.2 476.6h.01M334.3 502.5h.01M349.6 529.5h.01M318.9 529.5h.01M350.3 458.5h.01M341.3 505.4h.01M348.4 469.6h.01M356.1 486.2h.01M352.1 528.4h.01M346.8 451.6h.01M360.5 529.5h.01M354.2 529.5h.01M357.2 479.8h.01M347.8 529.5h.01M342.6 513.3h.01M341.2 504.8h.01M342.4 512.3h.01M338.3 460.1h.01M345.8 510.5h.01M352.6 529.5h.01M343.5 529.5h.01M337.5 527.8h.01M352.0 482.3h.01M336.8 506.2h.01M357.1 524.8h.01M355.8 519.9h.01M352.3 524.1h.01M327.1 478.8h.01M314.6 490.9h.01M333.8 485.3h.01M337.4 502.7h.01M335.8 499.7h.01M357.4 493.0h.01M328.1 472.7h.01M350.9 529.5h.01M340.2 498.7h.01M340.5 507.6h.01M341.1 524.9h.01M348.9 483.2h.01M348.9 478.6h.01M338.9 468.7h.01M337.5 504.3h.01M343.0 525.3h.01M326.1 505.1h.01M344.6 514.3h.01M346.1 447.7h.01M337.4 508.3h.01M331.1 471.0h.01M344.1 500.2h.01M362.1 493.9h.01M345.3 498.9h.01M346.6 458.0h.01M335.8 523.7h.01M338.7 529.5h.01M340.4 503.2h.01M317.8 489.3h.01M324.0 521.9h.01M333.8 529.5h.01M366.5 485.6h.01M341.8 474.0h.01M342.1 466.7h.01M358.0 510.1h.01M343.1 431.0h.01M351.9 514.9h.01M344.5 479.2h.01M347.1 529.5h.01M332.9 529.5h.01M344.1 480.8h.01M349.7 472.6h.01M346.9 470.2h.01M336.1 460.1h.01M349.2 506.1h.01M330.2 474.3h.01M334.7 514.0h.01M355.6 509.9h.01M330.1 516.4h.01M353.9 529.5h.01M340.0 484.0h.01M346.7 529.5h.01M353.8 510.8h.01M369.4 513.8h.01M345.3 529.5h.01M341.3 503.1h.01M333.2 529.5h.01M338.7 523.3h.01M352.9 451.8h.01M346.6 511.4h.01M343.9 492.0h.01M356.2 483.6h.01M343.7 529.5h.01M346.7 500.6h.01M346.2 524.1h.01M342.0 488.5h.01M342.9 507.8h.01M355.3 490.3h.01M352.5 511.5h.01M351.8 477.4h.01M341.9 501.3h.01M338.5 482.9h.01M345.3 488.4h.01M362.4 498.6h.01M346.5 513.3h.01M337.1 498.4h.01M347.5 479.6h.01M359.0 461.0h.01M330.9 529.5h.01M354.3 529.5h.01M350.4 529.5h.01M337.0 529.5h.01M349.8 489.0h.01M331.4 502.3h.01M353.6 522.4h.01M347.8 495.4h.01M325.3 526.0h.01M336.5 486.4h.01M333.1 497.2h.01M346.3 467.8h.01M333.2 529.5h.01M353.0 529.5h.01M356.3 527.3h.01M354.5 490.0h.01M337.2 461.6h.01M351.4 509.7h.01M327.2 465.1h.01M347.0 511.8h.01M343.7 519.3h.01M354.6 467.0h.01M345.9 521.4h.01M346.6 529.5h.01M343.2 529.5h.01M333.9 425.2h.01M342.3 429.4h.01M329.0 529.5h.01M341.9 520.1h.01M347.8 524.9h.01M349.7 475.1h.01M352.6 500.3h.01M342.7 529.5h.01M343.6 529.5h.01M346.2 517.3h.01M345.6 483.8h.01M349.6 489.7h.01M335.8 473.8h.01M349.3 524.1h.01M349.6 516.3h.01M348.8 528.7h.01M337.5 525.5h.01M337.8 515.0h.01M342.5 469.2h.01M344.7 518.5h.01M350.7 529.5h.01M345.6 512.7h.01M345.0 466.5h.01M360.4 502.3h.01M343.4 481.0h.01M345.9 482.8h.01M347.2 456.5h.01M346.2 502.0h.01M343.8 529.5h.01M344.4 514.3h.01M364.8 529.5h.01M347.6 529.5h.01M348.5 468.4h.01M336.6 458.4h.01M334.5 486.2h.01M341.3 501.6h.01M347.9 482.2h.01M356.2 482.3h.01M340.6 518.1h.01M338.3 513.0h.01M353.8 485.0h.01M348.7 459.6h.01M324.3 529.5h.01M327.0 529.5h.01M325.3 442.4h.01M339.0 470.7h.01M342.6 451.1h.01M337.3 522.5h.01M350.0 504.2h.01M343.6 529.5h.01M349.0 520.0h.01M341.2 502.4h.01M350.7 510.6h.01M340.9 466.2h.01M347.1 510.0h.01M359.3 509.8h.01M332.8 528.8h.01M337.9 529.5h.01M354.2 479.0h.01M328.8 492.2h.01M348.4 517.3h.01M331.4 515.1h.01M338.6 522.2h.01M332.9 524.7h.01M326.2 475.3h.01M354.0 480.1h.01M339.0 507.0h.01M346.2 529.5h.01M347.4 521.2h.01M345.5 498.0h.01M354.6 512.3h.01M352.4 516.7h.01M326.9 471.1h.01M345.6 509.0h.01M335.0 512.3h.01M334.4 504.4h.01M343.5 502.8h.01M347.0 495.9h.01M344.0 487.2h.01M358.1 519.0h.01M351.7 511.3h.01M359.5 516.0h.01M338.3 529.5h.01M346.9 518.9h.01M321.7 529.5h.01M328.2 483.4h.01M346.7 529.5h.01M348.0 518.2h.01M348.0 508.0h.01M325.4 489.5h.01M343.6 509.2h.01M338.6 485.5h.01M337.4 529.5h.01M350.3 472.4h.01M332.3 529.5h.01M334.5 474.2h.01M349.3 510.6h.01M343.6 529.5h.01M338.6 493.8h.01M338.6 529.5h.01M342.0 478.4h.01M347.8 499.6h.01M360.2 483.7h.01M333.8 529.5h.01M334.8 504.1h.01M332.8 492.9h.01M346.6 492.8h.01M331.8 504.8h.01M327.1 447.0h.01M342.4 529.5h.01M357.4 502.2h.01M347.9 473.7h.01M345.8 482.3h.01M340.4 450.3h.01M345.1 498.3h.01M341.8 462.1h.01M343.2 523.7h.01M350.1 522.9h.01M340.7 506.7h.01M335.5 502.2h.01M347.0 517.8h.01M364.8 529.5h.01M349.3 522.7h.01M351.9 505.3h.01M341.5 529.5h.01M331.5 466.5h.01M348.4 526.7h.01M328.6 514.5h.01M329.7 485.2h.01M338.8 469.8h.01M358.6 482.0h.01M338.3 466.4h.01M344.7 480.2h.01M336.7 519.6h.01M340.1 455.8h.01M334.0 510.7h.01M334.7 526.0h.01M339.9 483.0h.01M351.2 529.5h.01M334.7 509.5h.01M337.6 470.4h.01M356.1 529.5h.01M337.5 504.0h.01M339.8 453.2h.01M349.2 514.0h.01M337.6 510.5h.01M342.6 513.7h.01M346.4 523.5h.01M347.1 520.7h.01M354.9 487.5h.01M350.2 472.5h.01M340.7 488.4h.01M339.3 507.4h.01M335.5 473.0h.01M344.3 470.2h.01M343.3 508.5h.01M345.3 458.9h.01M333.6 525.2h.01M352.5 476.3h.01M354.0 495.7h.01M330.9 491.3h.01M343.6 499.1h.01M336.3 508.0h.01M362.7 488.0h.01M358.6 485.4h.01M346.2 470.4h.01M352.1 510.0h.01M338.1 500.1h.01M330.5 503.0h.01M329.9 434.2h.01M351.7 529.5h.01M348.6 529.5h.01M335.0 461.4h.01M336.4 508.4h.01M334.1 475.1h.01M326.6 480.0h.01M337.5 511.3h.01M359.2 529.5h.01M353.6 498.3h.01M346.0 529.2h.01M355.7 495.5h.01M342.4 517.6h.01M344.1 486.9h.01M350.3 524.8h.01M342.7 484.6h.01M340.3 504.5h.01M335.2 497.9h.01M346.7 478.9h.01M341.3 506.4h.01M342.5 529.5h.01M346.6 518.6h.01M350.3 487.8h.01M344.2 529.0h.01M369.9 513.4h.01M342.3 477.1h.01M344.1 515.3h.01M339.7 479.0h.01M341.7 494.3h.01M358.5 501.8h.01M340.7 506.3h.01M350.0 518.5h.01M338.6 472.5h.01M347.2 471.9h.01M342.2 522.9h.01M339.0 529.5h.01M343.6 492.1h.01M359.1 505.3h.01M349.2 471.5h.01M354.8 502.6h.01M333.7 465.8h.01M355.5 529.5h.01M343.1 528.6h.01M344.3 528.2h.01M343.0 472.3h.01M334.8 493.6h.01M337.9 485.6h.01M352.9 514.1h.01M354.1 529.5h.01M349.3 472.8h.01M347.9 521.7h.01M318.0 476.0h.01M336.7 504.6h.01M330.9 523.8h.01M340.3 514.7h.01M340.1 465.9h.01M351.6 496.5h.01M355.3 521.2h.01M340.0 520.1h.01M345.6 489.0h.01M329.3 491.4h.01M351.0 446.8h.01M361.9 503.4h.01M353.5 487.1h.01M348.5 504.2h.01M354.1 502.1h.01M339.9 513.7h.01M342.0 497.6h.01M346.2 502.4h.01M338.9 489.2h.01M328.1 500.1h.01M347.5 510.9h.01M334.2 419.5h.01M323.8 499.7h.01M353.0 511.6h.01M352.6 512.5h.01M351.8 497.5h.01M342.9 518.4h.01M329.1 502.5h.01M353.2 465.0h.01M336.7 527.2h.01M326.2 460.3h.01M347.1 529.5h.01M355.5 529.5h.01M351.5 529.5h.01M341.0 485.5h.01M331.2 529.1h.01M340.3 514.9h.01M339.0 529.5h.01M352.7 480.9h.01M353.6 416.1h.01M338.6 507.7h.01M339.6 517.3h.01M344.8 516.3h.01M335.4 519.7h.01M360.6 482.4h.01M342.4 508.0h.01M339.3 476.3h.01M333.0 506.1h.01M341.6 498.8h.01M344.1 448.8h.01M340.0 529.5h.01M346.3 494.3h.01M328.2 484.2h.01M339.9 500.7h.01M356.5 483.0h.01M337.2 502.7h.01M358.3 481.9h.01M327.9 521.0h.01M339.5 515.6h.01M354.1 484.6h.01M336.3 518.5h.01M349.7 499.4h.01M347.7 496.8h.01M355.6 481.7h.01M338.0 529.5h.01M339.7 462.8h.01M345.8 522.5h.01M345.6 498.5h.01M343.6 461.3h.01M338.2 497.2h.01M338.0 520.5h.01M350.3 483.2h.01M344.6 516.4h.01M347.5 505.9h.01M335.1 508.7h.01M362.2 521.7h.01M341.6 510.0h.01M349.7 529.5h.01M343.1 480.4h.01M353.3 485.0h.01M355.3 465.7h.01M346.7 482.3h.01M347.5 488.6h.01M349.7 529.5h.01M341.7 468.2h.01M361.0 503.5h.01M340.4 486.6h.01M343.5 479.8h.01M335.0 517.2h.01M355.4 529.5h.01M349.6 521.0h.01M334.4 529.5h.01M363.5 485.6h.01M346.8 468.0h.01M335.5 495.5h.01M342.1 475.2h.01M348.5 507.1h.01M344.6 515.5h.01M349.5 500.8h.01M332.0 483.4h.01M325.2 521.9h.01M355.6 514.6h.01M323.8 467.3h.01M346.8 477.6h.01M353.3 474.6h.01M335.0 516.8h.01M330.9 520.0h.01M346.0 488.1h.01M351.1 529.5h.01M330.8 529.5h.01M336.0 529.5h.01M358.2 507.2h.01M354.9 513.4h.01M333.8 467.7h.01M338.8 488.3h.01M341.0 502.8h.01M346.0 469.3h.01M337.6 463.0h.01M335.8 508.2h.01M349.9 499.4h.01M354.9 529.5h.01M348.5 523.1h.01M336.2 466.8h.01M339.0 476.9h.01M335.3 496.2h.01M354.1 488.3h.01M326.3 488.2h.01M342.6 492.3h.01M363.4 490.3h.01M359.3 524.1h.01M350.8 483.6h.01M343.1 506.2h.01M345.8 477.7h.01M352.6 448.7h.01M357.4 529.5h.01M345.6 444.5h.01M338.2 479.8h.01M354.5 492.4h.01M336.2 518.6h.01M345.2 514.2h.01M330.5 529.5h.01M335.2 496.3h.01M325.4 498.6h.01M342.8 475.0h.01M335.7 483.7h.01M338.6 496.0h.01M341.5 474.9h.01M346.7 499.9h.01M340.0 453.8h.01M330.7 529.5h.01M339.3 502.5h.01M354.8 527.5h.01M339.2 506.1h.01M338.9 457.8h.01M344.0 477.1h.01M360.9 529.5h.01M344.8 507.1h.01M346.4 495.8h.01M359.6 493.9h.01M344.8 479.7h.01M352.3 483.3h.01M349.7 529.5h.01M344.3 504.5h.01M339.6 514.4h.01M359.7 529.5h.01M351.2 525.8h.01M360.3 489.3h.01M337.4 464.0h.01M340.3 529.5h.01M329.2 478.9h.01M354.7 526.9h.01M329.5 505.6h.01M337.1 497.9h.01M357.2 523.6h.01M347.9 511.7h.01M359.4 529.5h.01M348.2 469.7h.01M337.4 470.2h.01M334.3 529.5h.01M355.4 496.4h.01M329.6 512.5h.01M342.2 498.2h.01M362.5 477.5h.01M344.8 502.4h.01M345.8 527.6h.01M344.4 467.0h.01M345.9 512.1h.01M352.2 528.5h.01M343.0 514.7h.01M361.8 502.5h.01M354.6 459.1h.01M338.4 513.1h.01M350.0 501.4h.01M346.1 465.7h.01M336.7 516.6h.01M357.1 505.2h.01M337.0 506.9h.01M328.9 461.0h.01M342.9 527.1h.01M342.8 499.4h.01M360.2 483.0h.01M357.9 519.7h.01M350.0 471.1h.01M334.6 518.8h.01M337.4 479.6h.01M346.7 528.1h.01M350.9 483.7h.01M345.8 485.0h.01M337.1 500.0h.01M345.1 526.3h.01M343.0 443.4h.01M324.8 529.5h.01M346.7 525.2h.01M344.5 470.6h.01M331.1 472.8h.01M347.1 511.8h.01M339.9 455.8h.01M330.7 502.6h.01M338.1 529.5h.01M350.4 512.0h.01M347.7 477.8h.01M348.2 504.8h.01M353.2 490.7h.01M358.3 520.1h.01M332.6 529.2h.01M348.5 487.4h.01M338.5 527.4h.01M347.4 502.2h.01M353.5 499.1h.01M349.1 476.5h.01M348.4 481.6h.01M342.1 478.2h.01M336.2 525.6h.01M350.3 503.8h.01M342.3 499.0h.01M336.8 502.1h.01M351.0 521.2h.01M347.1 529.5h.01M340.2 529.5h.01M336.6 514.1h.01M341.9 508.1h.01M326.7 526.3h.01M342.0 497.6h.01M338.4 518.8h.01M355.7 491.1h.01M341.2 485.9h.01M326.2 529.5h.01M347.7 512.1h.01M329.0 508.5h.01M337.4 465.8h.01M350.5 480.1h.01M357.1 490.6h.01M350.0 501.2h.01M339.4 485.0h.01M352.3 512.8h.01M355.9 485.2h.01M358.4 495.8h.01M341.6 470.7h.01M344.0 518.4h.01M350.3 487.3h.01M341.1 525.9h.01M340.9 521.3h.01M355.9 481.9h.01M340.4 487.6h.01M336.1 521.2h.01M342.4 478.0h.01M352.8 504.2h.01M338.9 497.1h.01M341.8 469.4h.01M354.3 490.1h.01M329.1 461.1h.01M342.5 454.5h.01M358.8 512.8h.01M345.9 460.7h.01M358.8 486.0h.01M357.9 510.4h.01M353.9 501.0h.01M338.9 510.7h.01M341.8 525.4h.01M343.6 444.4h.01M349.2 470.4h.01M347.2 529.5h.01M333.7 515.6h.01M339.3 481.4h.01M340.8 529.5h.01M328.3 508.5h.01M345.6 488.6h.01M341.9 497.9h.01M348.8 512.4h.01M332.7 470.6h.01M351.6 515.5h.01M350.4 466.6h.01M343.0 465.7h.01M330.0 529.5h.01M342.5 501.1h.01M351.1 472.2h.01M338.5 477.2h.01M348.2 472.9h.01M356.4 515.3h.01M337.0 494.8h.01M338.9 529.5h.01M358.6 518.4h.01M328.2 521.2h.01M337.3 474.1h.01M337.4 522.3h.01M346.2 520.5h.01M344.1 504.9h.01M356.4 481.4h.01M357.6 503.9h.01M329.2 477.3h.01M333.8 529.5h.01M340.8 503.4h.01M341.2 496.4h.01M333.4 472.1h.01M337.7 505.7h.01M344.8 529.5h.01M339.8 529.5h.01M338.7 520.6h.01M341.8 475.8h.01M367.1 494.9h.01M338.1 465.7h.01M342.5 518.2h.01M350.8 503.6h.01M337.6 496.2h.01M343.3 464.8h.01M345.8 513.8h.01M340.2 529.5h.01M336.4 506.9h.01M349.1 450.2h.01M349.6 487.6h.01M330.1 483.7h.01M341.2 476.2h.01M341.3 481.8h.01M343.7 513.7h.01M342.4 511.6h.01M335.0 481.8h.01M349.0 442.8h.01M334.9 527.7h.01M336.1 474.8h.01M344.6 508.0h.01M343.3 493.2h.01M342.6 456.3h.01M348.0 494.3h.01M339.0 480.8h.01M367.6 504.6h.01M361.9 483.7h.01M344.2 475.5h.01M355.9 475.3h.01M345.6 502.8h.01M355.4 525.9h.01M346.0 482.5h.01M354.2 486.8h.01M363.3 445.4h.01M325.4 493.7h.01M336.4 506.8h.01M345.0 500.4h.01M327.6 527.1h.01M354.2 509.8h.01M350.5 466.1h.01M339.1 520.5h.01M345.2 450.3h.01M357.8 487.4h.01M350.2 493.6h.01M345.6 508.7h.01M337.4 467.7h.01M343.2 502.4h.01M350.8 496.9h.01M350.3 500.9h.01M347.3 502.0h.01M330.5 486.2h.01M351.6 521.6h.01M336.7 516.4h.01M344.8 528.1h.01M337.9 504.1h.01M338.3 487.1h.01M337.8 509.2h.01M339.0 499.0h.01M344.4 466.7h.01M344.6 503.0h.01M353.1 423.6h.01M335.4 499.5h.01M344.1 529.5h.01M345.0 518.7h.01M354.6 440.1h.01M353.5 470.4h.01M336.2 496.4h.01M339.7 436.7h.01M344.2 473.7h.01M350.3 471.4h.01M339.9 486.0h.01M350.9 529.5h.01M347.1 483.0h.01M337.2 458.1h.01M337.2 495.1h.01M349.6 473.8h.01M336.6 484.1h.01M338.0 484.1h.01M346.4 519.8h.01M355.7 461.0h.01M341.3 527.2h.01M344.0 474.1h.01M348.4 484.8h.01M355.1 498.5h.01M338.4 457.9h.01M339.4 506.6h.01M333.6 488.7h.01M342.2 529.5h.01M336.9 517.2h.01M343.1 487.6h.01M355.9 529.5h.01M357.2 529.5h.01M341.9 529.5h.01M355.4 481.7h.01M348.5 481.2h.01M334.5 483.8h.01M335.9 501.0h.01M351.5 491.6h.01M352.6 494.5h.01M346.8 488.0h.01M355.4 473.7h.01M346.3 447.5h.01M320.8 513.6h.01M330.4 457.7h.01M341.5 497.2h.01M349.2 490.7h.01M334.8 529.5h.01M344.2 508.4h.01M325.0 527.0h.01M334.3 458.1h.01M345.9 471.7h.01M326.0 487.1h.01M329.5 480.2h.01M342.0 479.8h.01M354.5 479.1h.01M348.1 529.5h.01M356.3 459.8h.01M342.1 529.5h.01M353.4 508.7h.01M354.8 504.2h.01M338.3 513.2h.01M341.5 486.7h.01M355.2 481.7h.01M342.0 507.3h.01M344.4 519.7h.01M357.9 525.6h.01M338.5 503.5h.01M359.3 469.1h.01M338.4 508.8h.01M333.7 496.6h.01M346.4 529.5h.01M330.7 489.8h.01M344.7 529.5h.01M338.6 442.5h.01M345.0 498.3h.01M353.8 471.3h.01M344.1 513.9h.01M328.0 482.3h.01M341.8 487.3h.01M346.2 468.8h.01M339.5 519.2h.01M343.5 488.6h.01M356.2 529.5h.01M339.3 456.8h.01M340.7 529.5h.01M348.1 529.5h.01M340.5 529.5h.01M348.5 501.3h.01M343.2 498.7h.01M342.3 529.5h.01M338.4 529.5h.01M350.1 491.2h.01M352.2 512.2h.01M343.5 500.2h.01M329.8 487.2h.01M352.8 488.7h.01M345.5 497.5h.01M335.7 529.5h.01M338.8 508.1h.01M330.9 527.9h.01M339.3 490.3h.01M338.8 490.7h.01M341.8 529.5h.01M331.1 495.5h.01M337.1 465.7h.01M348.2 468.5h.01M339.8 484.4h.01M335.8 495.7h.01M337.8 467.3h.01M342.8 504.4h.01M357.7 477.7h.01M349.6 508.6h.01M335.7 529.5h.01M346.0 523.5h.01M330.5 506.6h.01M343.8 478.8h.01M357.2 498.1h.01M345.9 489.8h.01M332.4 491.5h.01M344.6 490.6h.01M354.6 529.5h.01M336.0 485.8h.01M338.9 498.7h.01M351.2 529.5h.01M339.1 498.2h.01M343.0 472.6h.01M340.5 434.8h.01M357.1 488.0h.01M351.7 455.4h.01M350.6 491.1h.01M347.4 481.0h.01M366.1 520.7h.01M342.8 479.4h.01M338.8 497.1h.01M344.1 497.3h.01M328.9 491.1h.01M331.3 506.4h.01M352.7 497.5h.01M342.8 467.6h.01M343.5 504.7h.01M344.1 488.0h.01M335.1 516.8h.01M350.1 495.6h.01M333.5 484.8h.01M350.0 519.0h.01M343.8 523.8h.01M357.1 483.6h.01M350.9 529.5h.01M345.0 487.4h.01M334.9 477.8h.01M346.7 502.2h.01M344.9 513.9h.01M335.5 529.5h.01M340.5 529.5h.01M336.0 523.4h.01M356.5 529.5h.01M355.4 460.0h.01M351.9 504.8h.01M342.9 500.2h.01M340.0 465.7h.01M329.6 499.8h.01M344.2 475.7h.01M340.2 511.6h.01M339.7 529.5h.01M355.6 516.1h.01M354.2 480.9h.01M336.9 497.2h.01M358.5 529.5h.01M353.6 493.1h.01M344.1 525.7h.01M343.3 529.5h.01M344.6 484.5h.01M340.6 498.4h.01M332.8 494.1h.01M332.6 516.5h.01M350.5 528.9h.01M341.1 491.4h.01M344.5 484.8h.01M347.3 529.5h.01M359.7 490.6h.01M341.4 491.3h.01M350.3 529.5h.01M349.9 529.5h.01M350.5 515.0h.01M363.8 520.7h.01M323.8 472.1h.01M331.6 494.5h.01M334.1 505.5h.01M354.1 502.4h.01M338.1 488.6h.01M337.9 521.4h.01M343.3 499.4h.01M352.7 469.1h.01M352.4 474.0h.01M335.2 511.0h.01M352.0 492.6h.01M363.7 494.2h.01M354.9 476.4h.01M342.2 459.7h.01M327.8 526.6h.01M334.8 508.1h.01M338.0 467.8h.01M340.1 487.3h.01M336.9 486.0h.01M356.2 435.1h.01M348.4 529.5h.01M335.7 493.9h.01M346.8 508.0h.01M342.8 478.2h.01M346.9 519.8h.01M345.4 499.6h.01M343.8 482.5h.01M337.8 502.8h.01M352.3 497.9h.01M325.1 527.3h.01M353.1 464.5h.01M348.2 511.7h.01M344.9 465.5h.01M348.1 515.6h.01M339.3 482.5h.01M345.9 508.8h.01M324.4 529.5h.01M355.2 485.8h.01M345.2 471.8h.01M335.4 529.5h.01M361.2 509.3h.01M326.8 468.5h.01M340.0 527.6h.01M344.9 499.5h.01M341.7 529.5h.01M351.0 526.0h.01M353.5 500.6h.01M343.4 508.5h.01M326.7 529.5h.01M335.3 471.4h.01M345.8 490.0h.01M364.2 495.0h.01M334.7 487.6h.01M340.4 501.1h.01M352.3 488.2h.01M354.1 508.6h.01M349.6 473.4h.01M338.7 500.9h.01M343.5 460.4h.01M350.5 470.9h.01M348.4 512.1h.01M355.4 529.5h.01M349.4 448.9h.01M346.0 505.8h.01M352.3 487.7h.01M332.3 428.4h.01M345.8 516.1h.01M340.8 523.8h.01M351.0 486.6h.01M328.8 504.5h.01M334.5 524.4h.01M345.8 522.9h.01M353.1 515.1h.01M349.9 474.4h.01M341.8 498.8h.01M339.6 500.4h.01M346.3 501.3h.01M353.8 483.9h.01M334.3 502.7h.01M348.7 512.0h.01M346.7 463.6h.01M346.4 490.6h.01M347.5 495.9h.01M323.9 505.0h.01M349.0 502.3h.01M355.1 518.7h.01M355.7 508.9h.01M339.9 522.3h.01M355.4 482.5h.01M328.6 518.3h.01M354.4 473.3h.01M328.8 504.4h.01M352.9 511.6h.01M343.7 517.0h.01M339.4 495.2h.01M346.5 487.0h.01M367.1 529.5h.01M330.9 496.0h.01M341.6 497.9h.01M329.3 493.8h.01M338.3 498.4h.01M330.3 501.4h.01M333.3 501.1h.01M338.3 478.8h.01M339.2 486.1h.01M338.6 485.7h.01M338.9 482.2h.01M360.8 491.2h.01M338.7 523.8h.01M354.2 465.0h.01M347.2 499.8h.01M327.1 529.5h.01M345.7 484.6h.01M343.3 529.5h.01M343.7 502.2h.01M345.4 499.1h.01M337.7 485.5h.01M349.6 490.4h.01M345.2 529.5h.01M355.0 493.2h.01M350.6 514.5h.01M340.4 497.0h.01M342.7 512.8h.01M336.2 529.5h.01M344.2 508.7h.01M340.9 474.2h.01M341.0 473.3h.01M367.6 493.4h.01M349.8 473.6h.01M347.3 488.5h.01M315.6 488.5h.01M338.4 523.4h.01M323.4 460.9h.01M306.3 488.2h.01M331.1 498.5h.01M330.6 496.2h.01M319.8 529.5h.01M351.0 519.9h.01M322.5 438.0h.01M329.2 522.0h.01M342.1 483.2h.01M306.2 512.8h.01M323.1 511.6h.01M311.3 499.3h.01M327.2 506.1h.01M321.2 476.8h.01M343.4 523.5h.01M331.2 466.0h.01M319.2 489.5h.01M343.2 500.3h.01M313.9 506.4h.01M330.6 496.6h.01M324.5 517.4h.01M328.1 498.2h.01M303.1 508.4h.01M329.2 523.0h.01M312.5 495.8h.01M348.8 500.8h.01M306.1 483.9h.01M325.7 504.3h.01M307.3 494.7h.01M332.9 503.9h.01M327.3 410.3h.01M314.7 510.7h.01M326.5 453.5h.01M329.7 529.5h.01M329.4 529.5h.01M316.1 491.3h.01M309.6 523.7h.01M320.4 483.5h.01M326.0 501.5h.01M311.4 466.3h.01M326.5 529.5h.01M321.3 495.7h.01M316.5 501.3h.01M335.6 517.8h.01M336.3 495.5h.01M320.4 492.5h.01M324.3 515.3h.01M344.4 479.6h.01M330.8 492.1h.01M310.3 525.7h.01M337.0 489.6h.01M320.2 489.9h.01M321.9 492.9h.01M330.3 489.6h.01M346.0 497.6h.01M345.4 502.3h.01M346.2 498.6h.01M340.1 493.3h.01M344.8 499.1h.01M320.1 480.4h.01M314.2 503.7h.01M323.5 525.0h.01M337.8 506.5h.01M316.9 508.0h.01M305.7 469.7h.01M316.7 478.1h.01M331.0 480.2h.01M306.3 469.1h.01M346.8 499.4h.01M324.1 477.6h.01M338.4 494.8h.01M320.2 512.9h.01M326.3 514.0h.01M347.0 511.8h.01M308.6 452.5h.01M310.7 469.0h.01M326.9 497.8h.01M342.2 529.5h.01M323.9 501.4h.01M330.5 508.9h.01M333.6 486.3h.01M324.3 485.6h.01M318.3 492.6h.01M326.1 482.8h.01M310.7 493.1h.01M345.5 528.4h.01M339.2 528.0h.01M314.1 493.6h.01M304.7 475.4h.01M304.9 489.0h.01M328.4 497.5h.01M318.8 484.7h.01M331.9 494.0h.01M345.2 488.7h.01M317.9 477.7h.01M322.7 485.8h.01M331.5 499.4h.01M343.8 488.7h.01M328.2 458.7h.01M309.0 495.9h.01M326.2 467.0h.01M329.7 517.4h.01M321.2 493.3h.01M320.2 485.1h.01M337.4 507.3h.01M316.8 505.4h.01M336.9 505.9h.01M328.5 458.9h.01M326.1 484.1h.01M312.4 469.8h.01M318.3 492.4h.01M314.4 484.9h.01M337.2 503.0h.01M327.7 475.8h.01M327.7 485.8h.01M327.6 516.1h.01M312.4 492.1h.01M343.8 516.2h.01M331.4 457.2h.01M309.8 491.0h.01M330.8 528.0h.01M315.5 529.5h.01M307.2 485.3h.01M305.0 495.7h.01M338.0 488.2h.01M335.9 504.7h.01M333.5 496.9h.01M309.9 492.0h.01M323.9 503.7h.01M311.7 478.9h.01M305.4 517.8h.01M328.8 478.1h.01M327.3 506.1h.01M337.2 464.9h.01M307.4 492.1h.01M323.4 515.3h.01M302.0 458.6h.01M317.2 491.1h.01M326.3 499.5h.01M329.5 479.1h.01M312.2 498.6h.01M326.9 509.5h.01M328.6 490.7h.01M315.3 478.6h.01M313.6 492.1h.01M327.4 523.7h.01M345.5 508.4h.01M349.1 522.4h.01M343.9 477.8h.01M322.3 486.5h.01M325.8 498.7h.01M328.5 494.4h.01M302.0 524.4h.01M309.7 466.4h.01M326.2 500.6h.01M347.1 502.4h.01M308.3 495.5h.01M346.2 503.3h.01M324.2 529.5h.01M328.9 498.0h.01M323.4 506.6h.01M343.1 485.8h.01M325.3 524.9h.01M317.8 483.7h.01M310.7 472.7h.01M316.6 489.7h.01M319.0 500.4h.01M320.5 477.1h.01M329.2 446.3h.01M341.0 490.3h.01M323.2 486.2h.01M349.3 477.2h.01M339.2 500.3h.01M331.8 488.4h.01M317.8 476.5h.01M314.5 489.0h.01M334.7 509.0h.01M314.3 517.9h.01M324.4 483.5h.01M310.1 507.4h.01M336.8 489.5h.01M323.5 496.6h.01M320.9 472.7h.01M336.6 508.1h.01M329.4 462.0h.01M313.8 487.4h.01M332.4 529.5h.01M312.7 473.4h.01M307.3 497.8h.01M330.3 490.3h.01M326.5 468.5h.01M316.8 502.5h.01M332.1 501.3h.01M316.6 502.3h.01M320.6 510.6h.01M325.1 498.0h.01M302.0 493.9h.01M329.9 514.1h.01M331.5 496.4h.01M322.6 485.8h.01M302.0 503.7h.01M317.4 479.5h.01M318.1 488.0h.01M327.1 478.8h.01M329.6 509.0h.01M330.3 513.6h.01M342.8 522.5h.01M314.9 485.0h.01M320.3 482.4h.01M330.4 508.0h.01M316.6 498.1h.01M322.0 485.8h.01M302.0 498.2h.01M330.1 498.8h.01M340.9 479.9h.01M332.5 508.9h.01M333.6 463.1h.01M326.7 496.9h.01M306.3 449.4h.01M308.7 488.0h.01M311.2 519.3h.01M328.6 508.3h.01M325.0 529.5h.01M319.3 522.9h.01M328.6 471.8h.01M318.1 518.9h.01M331.3 514.3h.01M326.9 494.4h.01M317.4 496.8h.01M329.4 497.1h.01M302.0 479.9h.01M316.6 506.7h.01M314.5 505.1h.01M321.9 501.8h.01M323.9 488.0h.01M304.0 501.2h.01M336.4 518.5h.01M305.4 500.5h.01M324.6 510.7h.01M319.1 526.3h.01M336.1 490.5h.01M320.0 452.5h.01M302.0 490.8h.01M327.3 475.8h.01M343.9 500.8h.01M308.9 512.8h.01M329.1 509.7h.01M311.2 496.4h.01M345.2 529.5h.01M315.1 500.2h.01M311.5 472.1h.01M304.6 511.8h.01M322.6 516.7h.01M333.6 501.3h.01M333.3 529.5h.01M329.1 491.2h.01M325.1 497.2h.01M313.0 496.5h.01M308.8 500.7h.01M320.3 516.7h.01M332.4 471.7h.01M326.0 507.9h.01M309.4 465.0h.01M351.3 505.2h.01M328.2 499.6h.01M314.6 506.1h.01M317.4 516.4h.01M315.3 495.5h.01M315.8 471.0h.01M320.1 476.5h.01M328.3 524.9h.01M329.7 483.7h.01M338.1 483.5h.01M320.7 510.3h.01M325.7 493.9h.01M311.4 474.9h.01M314.3 492.2h.01M334.9 494.3h.01M331.8 490.5h.01M319.9 529.3h.01M315.3 523.0h.01M327.1 472.5h.01M307.8 491.8h.01M335.0 520.2h.01M322.7 476.0h.01M310.4 493.4h.01M309.1 501.4h.01M341.9 461.1h.01M316.1 482.7h.01M316.5 490.6h.01M330.4 529.5h.01M335.5 511.4h.01M302.0 529.5h.01M327.1 510.2h.01M338.7 496.6h.01M304.7 507.2h.01M323.1 499.9h.01M302.0 516.8h.01M326.7 507.5h.01M329.6 507.9h.01M333.2 454.1h.01M315.7 494.3h.01M324.5 513.5h.01M337.7 527.4h.01M334.2 473.2h.01M324.7 495.0h.01M337.0 492.1h.01M330.1 479.3h.01M328.8 464.8h.01M310.0 470.2h.01M311.7 494.1h.01M312.1 516.6h.01M334.7 526.4h.01M332.5 496.9h.01M352.9 499.1h.01M318.1 504.9h.01M321.0 502.6h.01M318.1 493.7h.01M335.0 484.6h.01M334.1 494.2h.01M324.0 489.0h.01M340.2 485.8h.01M324.0 527.3h.01M308.1 512.7h.01M333.8 470.2h.01M358.0 460.9h.01M345.6 515.1h.01M309.2 493.5h.01M314.8 477.8h.01M312.9 511.9h.01M343.7 479.3h.01M317.7 471.3h.01M354.8 522.3h.01M302.0 462.8h.01M327.7 481.5h.01M318.6 494.5h.01M335.3 469.9h.01M317.4 485.2h.01M342.5 496.2h.01M356.1 498.9h.01M332.6 489.1h.01M317.5 452.9h.01M316.9 495.0h.01M318.6 479.9h.01M318.9 476.2h.01M329.8 497.0h.01M322.9 474.1h.01M336.2 479.5h.01M327.7 529.5h.01M322.2 503.9h.01M322.9 505.4h.01M340.3 470.4h.01M333.0 529.5h.01M331.2 495.7h.01M319.9 529.3h.01M327.6 510.6h.01M321.2 452.4h.01M329.8 507.2h.01M310.6 493.6h.01M327.7 501.0h.01M347.1 506.8h.01M338.8 496.9h.01M358.8 505.8h.01M357.5 506.2h.01M311.1 476.2h.01M324.1 505.9h.01M335.5 522.5h.01M316.5 512.9h.01M336.1 495.9h.01M326.2 485.3h.01M325.6 521.0h.01M340.7 501.5h.01M308.5 505.8h.01M326.4 499.3h.01M353.7 503.7h.01M327.9 519.8h.01M336.4 483.7h.01M341.9 500.8h.01M338.2 503.4h.01M324.0 480.9h.01M316.3 498.0h.01M321.6 504.8h.01M317.7 489.6h.01M306.4 495.1h.01M331.0 514.8h.01M341.2 508.3h.01M322.5 502.3h.01M321.4 523.4h.01M302.0 499.9h.01M325.7 485.8h.01M332.2 509.6h.01M319.1 515.8h.01M328.3 485.2h.01M321.0 480.4h.01M302.0 497.4h.01M330.5 464.4h.01M334.6 481.6h.01M313.1 486.2h.01M322.4 508.2h.01M317.3 503.1h.01M321.4 479.6h.01M323.1 479.9h.01M329.4 475.3h.01M330.9 511.0h.01M340.0 470.1h.01M327.7 460.5h.01M334.4 497.4h.01M319.2 481.9h.01M338.8 518.4h.01M321.8 475.0h.01M302.0 479.7h.01M317.3 517.9h.01M328.2 496.5h.01M336.0 469.6h.01M307.7 482.0h.01M327.2 502.0h.01M324.5 484.5h.01M333.5 529.0h.01M320.8 495.5h.01M320.0 529.5h.01M339.8 456.3h.01M302.0 485.3h.01M308.9 467.3h.01M316.1 451.3h.01M344.7 483.3h.01M318.1 493.5h.01M327.4 491.8h.01M340.8 515.0h.01M307.4 456.1h.01M348.1 494.8h.01M338.1 485.3h.01M318.4 484.0h.01M341.8 490.0h.01M326.0 485.6h.01M336.2 501.9h.01M335.9 496.5h.01M334.8 529.2h.01M323.6 487.9h.01M322.1 501.0h.01M314.0 473.0h.01M302.0 484.3h.01M335.6 529.5h.01M316.3 484.2h.01M308.4 520.0h.01M337.7 475.0h.01M334.6 493.9h.01M325.3 497.6h.01M331.1 482.6h.01M328.1 500.3h.01M339.7 486.9h.01M332.6 496.9h.01M305.4 472.1h.01M317.5 510.2h.01M329.7 478.7h.01M322.0 522.2h.01M330.6 489.6h.01M326.1 506.5h.01M334.6 459.3h.01M350.4 480.0h.01M328.0 481.7h.01M327.7 494.5h.01M322.3 529.5h.01M325.4 516.1h.01M334.5 488.6h.01M323.2 502.4h.01M330.5 476.2h.01M323.8 529.5h.01M318.4 508.4h.01M308.3 529.5h.01M302.8 484.0h.01M327.3 509.6h.01M325.3 504.3h.01M342.0 527.0h.01M302.0 519.2h.01M326.8 477.5h.01M302.0 513.5h.01M329.5 527.7h.01M311.4 527.8h.01M312.9 480.3h.01M316.1 483.2h.01M341.1 460.6h.01M315.5 506.6h.01M339.4 454.3h.01M312.0 449.7h.01M316.4 470.0h.01M335.6 504.7h.01M311.2 501.7h.01M339.6 521.6h.01M353.9 511.2h.01M316.0 473.9h.01M317.7 479.6h.01M327.7 508.3h.01M339.1 487.2h.01M318.4 493.6h.01M309.4 482.6h.01M314.6 490.5h.01M329.6 492.9h.01M319.6 504.4h.01M311.1 529.5h.01M325.3 509.3h.01M316.8 500.7h.01M332.7 479.3h.01M326.6 460.3h.01M302.8 465.5h.01M318.1 496.4h.01M303.7 529.5h.01M326.2 497.9h.01M319.3 498.3h.01M333.8 462.4h.01M329.6 509.9h.01M339.4 500.4h.01M333.3 514.6h.01M337.2 482.3h.01M329.7 477.4h.01M323.0 474.9h.01M321.2 510.8h.01M319.2 514.1h.01M323.1 528.5h.01M333.6 529.5h.01M311.5 494.2h.01M348.8 486.6h.01M306.1 469.9h.01M340.2 501.0h.01M314.6 487.4h.01M322.4 490.5h.01M347.7 517.6h.01M315.0 492.0h.01M304.1 470.9h.01M306.2 493.5h.01M322.1 509.2h.01M342.3 480.8h.01M335.8 460.0h.01M328.0 497.0h.01M311.2 494.6h.01M339.3 507.0h.01M326.1 454.2h.01M321.3 492.4h.01M322.5 503.0h.01M339.3 486.6h.01M319.9 475.3h.01M315.1 486.2h.01M341.7 484.1h.01M355.0 477.8h.01M302.0 462.8h.01M309.3 480.4h.01M330.2 519.6h.01M322.2 472.8h.01M356.4 488.1h.01M364.1 494.5h.01M363.6 503.2h.01M349.3 491.3h.01M363.3 493.3h.01M361.6 461.6h.01M338.6 463.4h.01M367.4 489.6h.01M353.2 512.0h.01M348.8 458.7h.01M359.0 485.4h.01M358.1 501.6h.01M352.1 514.6h.01M368.9 501.6h.01M367.5 499.8h.01M372.1 467.0h.01M358.2 479.9h.01M365.4 468.8h.01M351.6 481.5h.01M350.6 506.5h.01M363.0 499.4h.01M361.3 503.2h.01M362.6 464.5h.01M385.2 499.6h.01M372.2 529.5h.01M327.1 513.3h.01M346.4 479.7h.01M367.8 505.0h.01M368.5 503.8h.01M359.4 499.7h.01M370.2 478.7h.01M374.8 491.9h.01M357.3 481.9h.01M369.5 474.3h.01M329.8 473.5h.01M351.7 473.8h.01M356.2 491.6h.01M365.1 519.9h.01M379.2 513.4h.01M373.1 515.1h.01M366.8 481.4h.01M371.2 489.8h.01M369.7 479.1h.01M370.8 480.9h.01M377.2 519.3h.01M378.5 483.1h.01M363.3 454.0h.01M361.3 460.6h.01M360.6 465.9h.01M377.8 476.4h.01M372.5 529.5h.01M367.4 515.3h.01M358.3 490.5h.01M350.9 466.6h.01M355.9 510.2h.01M349.6 501.1h.01M379.2 529.5h.01M386.0 490.7h.01M375.8 504.1h.01M355.6 489.3h.01M371.2 524.4h.01M374.7 511.3h.01M355.6 495.8h.01M338.6 501.4h.01M376.3 495.0h.01M386.0 488.0h.01M348.0 485.4h.01M359.4 506.0h.01M353.2 506.7h.01M363.1 505.2h.01M374.0 498.6h.01M359.4 476.0h.01M377.6 517.5h.01M347.1 508.9h.01M356.3 497.5h.01M341.5 486.0h.01M374.4 446.9h.01M342.6 510.8h.01M362.3 485.0h.01M368.0 480.0h.01M343.4 484.2h.01M367.3 483.5h.01M371.2 472.4h.01M369.3 515.9h.01M360.2 505.1h.01M351.9 504.7h.01M352.2 441.0h.01M374.8 524.6h.01M358.4 469.1h.01M345.8 476.6h.01M371.5 485.1h.01M357.9 493.5h.01M389.6 444.6h.01M361.4 466.7h.01M363.4 510.2h.01M330.9 510.5h.01M352.2 472.8h.01M340.5 462.5h.01M344.4 511.3h.01M372.7 516.1h.01M342.9 484.3h.01M351.6 479.0h.01M350.9 477.5h.01M357.2 493.0h.01M360.6 490.7h.01M387.0 518.7h.01M359.9 492.3h.01M373.4 488.4h.01M362.4 507.2h.01M368.4 488.8h.01M355.3 514.9h.01M337.5 501.4h.01M367.2 477.3h.01M341.4 457.3h.01M335.4 497.4h.01M387.9 484.9h.01M383.7 499.6h.01M351.2 526.2h.01M365.9 487.6h.01M379.6 516.2h.01M365.4 509.1h.01M374.6 468.9h.01M373.8 479.4h.01M342.3 521.4h.01M358.6 529.5h.01M373.3 515.8h.01M376.5 529.5h.01M372.0 528.1h.01M358.7 474.9h.01M373.5 507.4h.01M351.9 495.5h.01M362.3 464.7h.01M359.6 529.5h.01M369.1 481.5h.01M362.9 508.4h.01M352.3 448.3h.01M369.3 478.5h.01M358.2 478.5h.01M354.0 468.0h.01M372.0 529.5h.01M350.3 501.8h.01M374.6 465.5h.01M369.0 492.2h.01M362.9 499.0h.01M373.0 437.9h.01M362.3 529.5h.01M364.1 488.7h.01M337.5 486.9h.01M361.2 484.6h.01M348.6 515.9h.01M361.6 485.6h.01M386.6 502.9h.01M369.9 506.7h.01M382.2 466.3h.01M379.0 454.8h.01M362.8 511.9h.01M368.4 469.5h.01M379.0 482.4h.01M362.5 428.3h.01M362.4 435.1h.01M372.4 485.9h.01M348.6 467.5h.01M355.5 445.1h.01M358.1 496.3h.01M358.4 471.1h.01M365.3 504.9h.01M354.7 449.1h.01M325.1 472.8h.01M365.4 505.7h.01M368.1 469.5h.01M354.9 497.7h.01M358.4 499.2h.01M374.7 477.2h.01M386.0 457.8h.01M355.7 497.9h.01M349.0 501.8h.01M387.2 483.4h.01M359.1 502.8h.01M373.3 489.0h.01M357.0 512.7h.01M361.0 518.6h.01M371.2 491.5h.01M340.9 476.2h.01M372.8 489.1h.01M372.8 485.9h.01M356.8 519.3h.01M359.5 492.7h.01M367.8 507.0h.01M379.3 496.8h.01M365.1 501.4h.01M362.4 476.5h.01M370.7 522.3h.01M360.3 495.3h.01M352.0 472.4h.01M361.9 515.5h.01M378.1 494.9h.01M355.3 483.8h.01M369.7 524.3h.01M361.4 458.2h.01M355.0 475.8h.01M340.4 487.9h.01M385.2 477.2h.01M355.4 488.6h.01M343.9 514.2h.01M378.4 488.0h.01M366.1 493.3h.01M366.2 488.3h.01M359.5 508.6h.01M364.9 495.5h.01M373.5 451.5h.01M372.4 529.5h.01M357.0 498.5h.01M387.1 501.3h.01M352.8 525.9h.01M352.8 526.8h.01M360.0 479.4h.01M359.0 507.2h.01M365.9 515.4h.01M344.1 528.0h.01M370.6 496.1h.01M335.0 527.3h.01M405.6 416.0h.01M416.9 429.2h.01M432.0 430.5h.01M418.9 436.8h.01M450.8 438.9h.01M430.4 416.9h.01M433.0 417.4h.01M431.8 412.1h.01M430.0 400.6h.01M405.0 461.2h.01M434.1 416.2h.01M405.0 402.0h.01M430.6 398.0h.01M421.1 441.2h.01M433.6 426.8h.01M436.4 425.6h.01M416.0 446.6h.01M426.3 445.2h.01M423.8 421.8h.01M408.6 438.5h.01M439.6 400.7h.01M420.2 455.2h.01M404.9 437.0h.01M422.5 401.7h.01M426.2 418.3h.01M424.4 415.9h.01M430.0 421.6h.01M428.5 442.2h.01M417.4 445.3h.01M407.1 412.7h.01M436.4 398.3h.01M422.4 431.1h.01M412.7 416.0h.01M424.7 387.2h.01M399.8 414.3h.01M412.8 442.9h.01M434.5 432.5h.01M415.8 446.5h.01M429.0 440.2h.01M426.3 424.6h.01M428.6 409.6h.01M423.4 412.2h.01M432.1 426.5h.01M421.6 418.8h.01M450.8 421.5h.01M429.2 417.3h.01M428.6 399.1h.01M421.8 402.8h.01M437.5 438.2h.01M428.6 426.9h.01M418.6 425.0h.01M432.4 426.2h.01M419.1 425.6h.01M429.5 416.4h.01M433.3 419.5h.01M435.1 402.0h.01M425.2 409.9h.01M426.7 458.9h.01M421.3 414.1h.01M429.6 439.2h.01M430.7 424.1h.01M398.4 411.2h.01M415.3 439.7h.01M419.9 432.3h.01M415.8 416.9h.01M429.0 436.9h.01M426.2 444.7h.01M417.1 429.1h.01M427.4 424.7h.01M420.1 381.1h.01M431.8 421.8h.01M435.3 448.8h.01M426.4 411.1h.01M417.2 413.3h.01M425.6 417.6h.01M406.6 433.3h.01M414.2 419.0h.01M435.3 448.8h.01M418.0 414.1h.01M430.6 434.7h.01M422.3 406.2h.01M412.4 425.2h.01M419.0 447.0h.01M411.9 421.7h.01M406.5 439.9h.01M419.8 410.0h.01M409.9 417.9h.01M431.4 411.4h.01M424.5 422.3h.01M424.5 439.2h.01M420.3 438.9h.01M442.0 411.5h.01M415.5 392.9h.01M449.5 408.7h.01M433.3 426.0h.01M417.6 395.6h.01M417.8 426.9h.01M428.7 425.7h.01M423.8 424.3h.01M420.6 425.7h.01M431.6 429.5h.01M428.9 408.4h.01M418.7 436.6h.01M441.2 424.8h.01M441.7 445.1h.01M414.2 452.1h.01M422.8 411.2h.01M387.9 430.4h.01M434.7 426.0h.01M426.3 424.3h.01M408.1 416.1h.01M417.6 437.6h.01M422.1 430.6h.01M421.7 455.1h.01M421.1 429.8h.01M429.8 410.7h.01M420.0 440.4h.01M422.7 387.0h.01M411.9 452.9h.01M404.6 422.4h.01M417.0 412.2h.01M426.9 436.9h.01M431.3 433.7h.01M441.1 418.5h.01M432.9 420.9h.01M411.8 455.8h.01M421.0 428.8h.01M425.9 425.7h.01M423.7 421.9h.01M408.5 431.8h.01M420.9 410.3h.01M431.0 401.7h.01M416.6 414.1h.01M419.2 399.6h.01M409.9 427.6h.01M426.4 438.7h.01M406.4 424.4h.01M435.7 412.7h.01M417.2 415.5h.01M429.2 412.1h.01M438.8 395.6h.01M412.7 424.6h.01M395.6 427.5h.01M430.1 403.8h.01M407.3 444.4h.01M427.1 400.1h.01M415.7 422.8h.01M440.5 413.0h.01M410.7 404.8h.01M436.9 418.5h.01M399.9 445.1h.01M399.1 409.2h.01M409.6 484.3h.01M376.6 451.5h.01M392.1 425.1h.01M396.1 463.9h.01M393.1 431.4h.01M417.6 381.1h.01M391.7 398.3h.01M391.4 404.0h.01M392.7 424.1h.01M382.3 458.6h.01M408.5 426.8h.01M392.5 425.0h.01M412.0 467.5h.01M404.3 417.3h.01M407.2 416.1h.01M412.5 406.6h.01M405.5 439.2h.01M403.7 432.3h.01M401.2 416.7h.01M406.9 443.2h.01M408.9 415.5h.01M389.3 410.6h.01M391.1 416.9h.01M410.5 430.0h.01M407.0 451.5h.01M411.5 418.9h.01M388.7 450.1h.01M397.9 410.7h.01M395.6 467.3h.01M410.8 429.1h.01M383.8 410.9h.01M412.9 430.0h.01M390.4 426.6h.01M424.0 401.9h.01M419.9 409.4h.01M417.4 419.2h.01M386.9 463.0h.01M411.2 442.7h.01M395.4 454.8h.01M401.7 454.5h.01M415.2 413.9h.01M399.9 455.0h.01M411.8 429.9h.01M381.4 462.7h.01M430.7 451.4h.01M408.8 416.2h.01M405.5 433.2h.01M376.0 454.8h.01M379.3 422.9h.01M428.3 426.4h.01M393.0 413.1h.01M406.1 421.1h.01M388.3 426.3h.01M397.6 418.2h.01M363.7 409.9h.01M402.0 453.2h.01M397.6 421.2h.01M387.1 445.3h.01M392.0 432.6h.01M363.3 454.3h.01M421.2 406.6h.01M388.1 410.4h.01M364.8 409.9h.01M410.2 430.2h.01M381.3 437.5h.01M424.8 422.3h.01M385.9 428.5h.01M395.4 448.0h.01M387.0 398.0h.01M397.4 448.5h.01M409.5 430.1h.01M377.2 417.8h.01M390.3 431.5h.01M388.8 431.6h.01M378.5 418.2h.01M429.1 437.0h.01M417.3 409.5h.01M390.1 444.2h.01M408.0 413.5h.01M395.6 425.5h.01M428.8 423.6h.01M406.5 402.7h.01M402.5 466.3h.01M400.1 470.8h.01M411.9 435.1h.01M400.6 419.0h.01M390.0 442.6h.01M416.6 440.6h.01M398.3 411.1h.01M389.3 439.4h.01M418.8 450.6h.01M404.0 422.1h.01M398.4 420.9h.01M398.0 440.8h.01M393.6 435.5h.01M414.4 454.0h.01M408.8 421.2h.01M393.4 480.3h.01M440.8 457.6h.01M412.7 428.9h.01M421.4 393.0h.01M413.3 444.5h.01M415.3 436.3h.01M411.4 453.0h.01M398.2 427.8h.01M397.4 433.5h.01M381.5 417.8h.01M386.8 431.0h.01M381.4 426.2h.01M394.3 408.1h.01M433.4 428.6h.01M416.5 431.3h.01M405.2 441.8h.01M410.4 427.4h.01M379.6 442.4h.01M397.6 444.9h.01M389.0 404.0h.01M414.8 445.6h.01M419.1 430.7h.01M377.3 447.1h.01M405.9 413.0h.01M391.2 416.5h.01M396.2 438.1h.01M379.4 420.2h.01M379.5 469.9h.01M417.1 424.9h.01M386.2 430.8h.01M418.0 411.9h.01M348.7 453.1h.01M380.1 418.2h.01M365.8 466.7h.01M353.0 455.9h.01M357.2 413.4h.01M374.8 448.5h.01M350.9 452.1h.01M367.4 467.5h.01M375.5 483.6h.01M371.9 411.2h.01M391.1 426.7h.01M387.5 444.0h.01M362.9 427.4h.01M373.2 442.8h.01M378.7 425.2h.01M368.0 459.4h.01M366.2 432.2h.01M370.7 449.1h.01M385.8 447.5h.01M368.8 435.4h.01M390.3 435.4h.01M373.0 438.3h.01M383.1 435.3h.01M358.1 446.8h.01M377.1 455.6h.01M378.6 459.8h.01M359.8 439.2h.01M387.3 456.3h.01M371.3 425.9h.01M370.5 447.7h.01M367.5 446.5h.01M387.0 429.7h.01M379.9 412.4h.01M372.5 427.2h.01M373.9 429.1h.01M375.4 430.0h.01M358.9 416.8h.01M379.7 437.8h.01M395.8 426.3h.01M381.5 433.8h.01M359.8 410.4h.01M357.7 423.6h.01M366.6 414.2h.01M391.7 426.0h.01M375.3 438.8h.01M390.2 405.8h.01M358.4 465.1h.01M362.5 422.5h.01M355.6 463.0h.01M352.5 423.2h.01M382.2 444.4h.01M385.9 424.0h.01M361.6 442.4h.01M387.5 449.0h.01M378.4 460.8h.01M372.0 461.5h.01M393.9 445.2h.01M362.1 438.2h.01M365.7 420.2h.01M360.6 409.5h.01M418.9 473.6h.01M419.3 469.1h.01M424.9 496.9h.01M429.6 518.2h.01M411.6 492.0h.01M422.5 512.9h.01M425.1 488.3h.01M422.4 529.5h.01M421.4 488.8h.01M432.3 478.7h.01M413.9 472.7h.01M418.9 518.2h.01M425.9 472.3h.01M410.2 521.0h.01M426.2 510.6h.01M423.1 529.5h.01M420.8 512.9h.01M430.7 512.0h.01M416.4 512.2h.01M432.2 496.1h.01M416.5 472.1h.01M428.2 484.0h.01M417.6 479.6h.01M423.6 496.3h.01M413.2 510.1h.01M411.4 474.2h.01M418.6 520.9h.01M420.2 501.2h.01M410.1 467.3h.01M432.0 474.5h.01M423.2 489.5h.01M436.0 476.8h.01M410.5 499.3h.01M422.1 487.5h.01M418.0 517.8h.01M421.9 510.8h.01M417.6 501.7h.01M426.9 505.2h.01M418.1 497.2h.01M424.3 529.5h.01M411.2 510.7h.01M410.4 519.5h.01M422.1 521.6h.01M415.9 487.5h.01M417.7 500.8h.01M426.6 462.5h.01M419.0 466.4h.01M429.5 487.5h.01M426.1 466.2h.01M402.5 506.6h.01M415.8 468.6h.01M421.4 475.8h.01M426.4 508.5h.01M423.2 482.3h.01M423.1 492.4h.01M419.9 495.8h.01M423.1 490.4h.01M414.1 499.4h.01M426.1 454.9h.01M419.5 512.6h.01M419.7 520.9h.01M417.5 494.7h.01M431.1 523.0h.01M416.3 493.1h.01M425.5 518.9h.01M411.4 510.3h.01M421.3 503.4h.01M422.9 491.5h.01M422.5 494.3h.01M418.4 497.2h.01M419.9 529.5h.01M425.9 510.0h.01M419.1 478.4h.01M419.1 480.0h.01M425.4 473.9h.01M412.7 497.6h.01M414.1 507.0h.01M422.7 468.6h.01M415.8 498.6h.01M422.9 512.0h.01M426.3 501.1h.01M427.7 503.6h.01M422.2 504.6h.01M418.1 440.8h.01M416.8 529.5h.01M417.5 495.0h.01M423.8 461.4h.01M430.3 529.5h.01M414.8 493.1h.01M423.3 486.6h.01M424.9 489.7h.01M412.8 503.3h.01M425.3 474.6h.01M420.3 514.7h.01M419.8 527.2h.01M420.0 491.8h.01M406.4 508.8h.01M421.1 500.4h.01M415.1 480.7h.01M417.4 522.4h.01M425.8 491.6h.01M435.1 472.9h.01M416.3 482.7h.01M416.5 468.6h.01M417.4 478.3h.01M405.7 475.2h.01M424.7 521.1h.01M423.4 510.7h.01M415.9 509.5h.01M416.5 529.5h.01M432.4 473.1h.01M420.4 489.4h.01M418.5 477.1h.01M422.1 507.0h.01M424.7 472.8h.01M410.7 481.7h.01M422.1 515.5h.01M415.4 492.7h.01M418.5 512.7h.01M423.5 483.4h.01M412.8 503.0h.01M410.0 522.4h.01M422.3 481.1h.01M424.9 495.4h.01M405.8 508.9h.01M417.1 523.9h.01M415.5 497.3h.01M424.0 475.6h.01M421.6 506.9h.01M429.6 484.3h.01M423.7 505.0h.01M421.9 499.2h.01M426.5 520.7h.01M420.9 519.8h.01M413.2 500.3h.01M416.8 493.7h.01M420.2 480.9h.01M415.9 499.1h.01M418.6 463.5h.01M422.0 497.6h.01M412.3 479.7h.01M420.0 460.5h.01M423.6 485.5h.01M428.0 468.7h.01M418.8 493.4h.01M424.3 500.1h.01M409.0 513.2h.01M422.7 485.8h.01M421.4 508.7h.01M422.6 479.4h.01M420.1 493.5h.01M419.4 521.6h.01M428.8 506.3h.01M412.5 517.2h.01M408.1 475.8h.01M419.0 518.3h.01M419.5 486.3h.01M423.4 473.7h.01M425.5 479.4h.01M419.7 502.4h.01M418.6 508.3h.01M427.3 496.6h.01M423.4 529.5h.01M410.6 525.2h.01M420.0 500.1h.01M423.3 488.0h.01M423.2 529.5h.01M428.4 519.9h.01M420.6 524.0h.01M427.0 485.6h.01M420.0 486.0h.01M436.3 477.9h.01M374.2 494.7h.01M372.3 492.6h.01M399.7 483.4h.01M402.5 468.5h.01M351.6 513.7h.01M421.1 514.6h.01M392.1 505.9h.01M393.7 521.8h.01M375.3 502.3h.01M390.9 511.4h.01M402.6 457.3h.01M394.0 474.7h.01M410.9 514.6h.01M375.0 505.3h.01M379.0 485.1h.01M404.5 522.4h.01M411.2 510.1h.01M390.5 492.9h.01M414.5 499.6h.01M404.5 504.7h.01M437.0 525.8h.01M432.0 504.6h.01M384.5 470.8h.01M404.4 474.8h.01M359.1 489.7h.01M449.6 496.6h.01M404.6 495.0h.01M404.9 467.6h.01M407.2 513.7h.01M407.1 502.9h.01M402.2 512.2h.01M376.9 453.6h.01M390.9 496.0h.01M414.7 480.3h.01M405.2 495.5h.01M417.1 486.3h.01M415.0 512.5h.01M395.5 493.2h.01M391.5 481.0h.01M387.7 473.0h.01M416.9 505.1h.01M398.6 498.6h.01M402.1 528.7h.01M420.3 489.1h.01M416.2 460.8h.01M390.6 479.6h.01M408.1 484.3h.01M384.2 480.4h.01M370.2 467.6h.01M379.9 503.9h.01M406.6 512.1h.01M437.0 515.5h.01M361.8 482.4h.01M433.5 499.3h.01M409.0 500.5h.01M371.1 504.7h.01M397.6 474.5h.01M408.8 529.5h.01M396.8 468.2h.01M398.0 476.3h.01M348.6 485.1h.01M408.8 475.0h.01M398.4 492.5h.01M390.6 486.8h.01M393.4 489.4h.01M397.4 506.2h.01M389.7 477.4h.01M410.8 480.8h.01" fill="none" stroke="#000" stroke-width="1.45" stroke-linecap="square"/>
<g stroke="#1a1a1a" stroke-width="1" fill="none">
<path d="M301.5 318.5V530.5H512.4"/>
<path d="M386.5 318.5V530.5M301.5 464.5H512.4" stroke="#2a2a2a" stroke-width="1"/>
<path d="M301.5 529.0v3.5M302.0 530.5h-3.5M317.4 529.5v2.2M301.5 514.5h-2.2M326.7 529.5v2.2M301.5 505.2h-2.2M333.2 529.5v2.2M301.5 498.6h-2.2M338.4 529.5v2.2M301.5 493.5h-2.2M342.5 529.5v2.2M301.5 489.3h-2.2M346.1 529.5v2.2M301.5 485.7h-2.2M349.1 529.5v2.2M301.5 482.6h-2.2M351.8 529.5v2.2M301.5 479.9h-2.2M354.2 529.0v3.5M302.0 477.5h-3.5M370.1 529.5v2.2M301.5 461.5h-2.2M379.4 529.5v2.2M301.5 452.2h-2.2M386.0 529.5v2.2M301.5 445.6h-2.2M391.1 529.5v2.2M301.5 440.5h-2.2M395.3 529.5v2.2M301.5 436.3h-2.2M398.8 529.5v2.2M301.5 432.7h-2.2M401.8 529.5v2.2M301.5 429.6h-2.2M404.5 529.5v2.2M301.5 426.9h-2.2M406.9 529.0v3.5M302.0 424.5h-3.5M422.8 529.5v2.2M301.5 408.5h-2.2M432.1 529.5v2.2M301.5 399.2h-2.2M438.7 529.5v2.2M301.5 392.6h-2.2M443.8 529.5v2.2M301.5 387.5h-2.2M448.0 529.5v2.2M301.5 383.3h-2.2M451.5 529.5v2.2M301.5 379.7h-2.2M454.6 529.5v2.2M301.5 376.6h-2.2M457.3 529.5v2.2M301.5 373.9h-2.2M459.7 529.0v3.5M302.0 371.5h-3.5M475.5 529.5v2.2M301.5 355.5h-2.2M484.8 529.5v2.2M301.5 346.2h-2.2M491.4 529.5v2.2M301.5 339.6h-2.2M496.5 529.5v2.2M301.5 334.5h-2.2M500.7 529.5v2.2M301.5 330.3h-2.2M504.2 529.5v2.2M301.5 326.7h-2.2M507.3 529.5v2.2M301.5 323.6h-2.2M510.0 529.5v2.2M301.5 320.9h-2.2M512.4 529.0v3.5M302.0 318.5h-3.5" stroke-width="1"/>
</g>
<text class="tk" x="298.0" y="539.5">10<tspan class="sp" dy="-2.6">0</tspan></text>
<text class="tk" x="350.7" y="539.5">10<tspan class="sp" dy="-2.6">1</tspan></text>
<text class="tk" x="288.3" y="480.7">10<tspan class="sp" dy="-2.6">1</tspan></text>
<text class="tk" x="403.4" y="539.5">10<tspan class="sp" dy="-2.6">2</tspan></text>
<text class="tk" x="288.3" y="427.7">10<tspan class="sp" dy="-2.6">2</tspan></text>
<text class="tk" x="456.2" y="539.5">10<tspan class="sp" dy="-2.6">3</tspan></text>
<text class="tk" x="288.3" y="374.7">10<tspan class="sp" dy="-2.6">3</tspan></text>
<text class="tk" x="508.9" y="539.5">10<tspan class="sp" dy="-2.6">4</tspan></text>
<text class="tk" x="288.3" y="321.7">10<tspan class="sp" dy="-2.6">4</tspan></text>
<text class="pc" x="302.5" y="327.4">33.87%</text>
<text class="pc" text-anchor="end" x="512.4" y="326.8">7.74%</text>
<rect x="302.5" y="519.0" width="28.5" height="8.5" fill="#fff"/>
<text class="pc" x="303.5" y="525.7">50.32%</text>
<text class="pc" text-anchor="end" x="512.4" y="525.5">8.06%</text>
<text class="tt" text-anchor="middle" x="412.0" y="315.2">B10.D2</text>
<text class="big" x="38.6" y="19">A</text>
<text class="big" x="282.3" y="18.2">B</text>
<text class="big" x="40.4" y="307">C</text>
<text class="big" x="287" y="305.8">D</text>
<text class="ax" x="256.5" y="572.7">Ly-49A</text>
<text class="ax" transform="translate(13.2,302) rotate(-90)">Ly-49G2</text>
</svg></body></html>
